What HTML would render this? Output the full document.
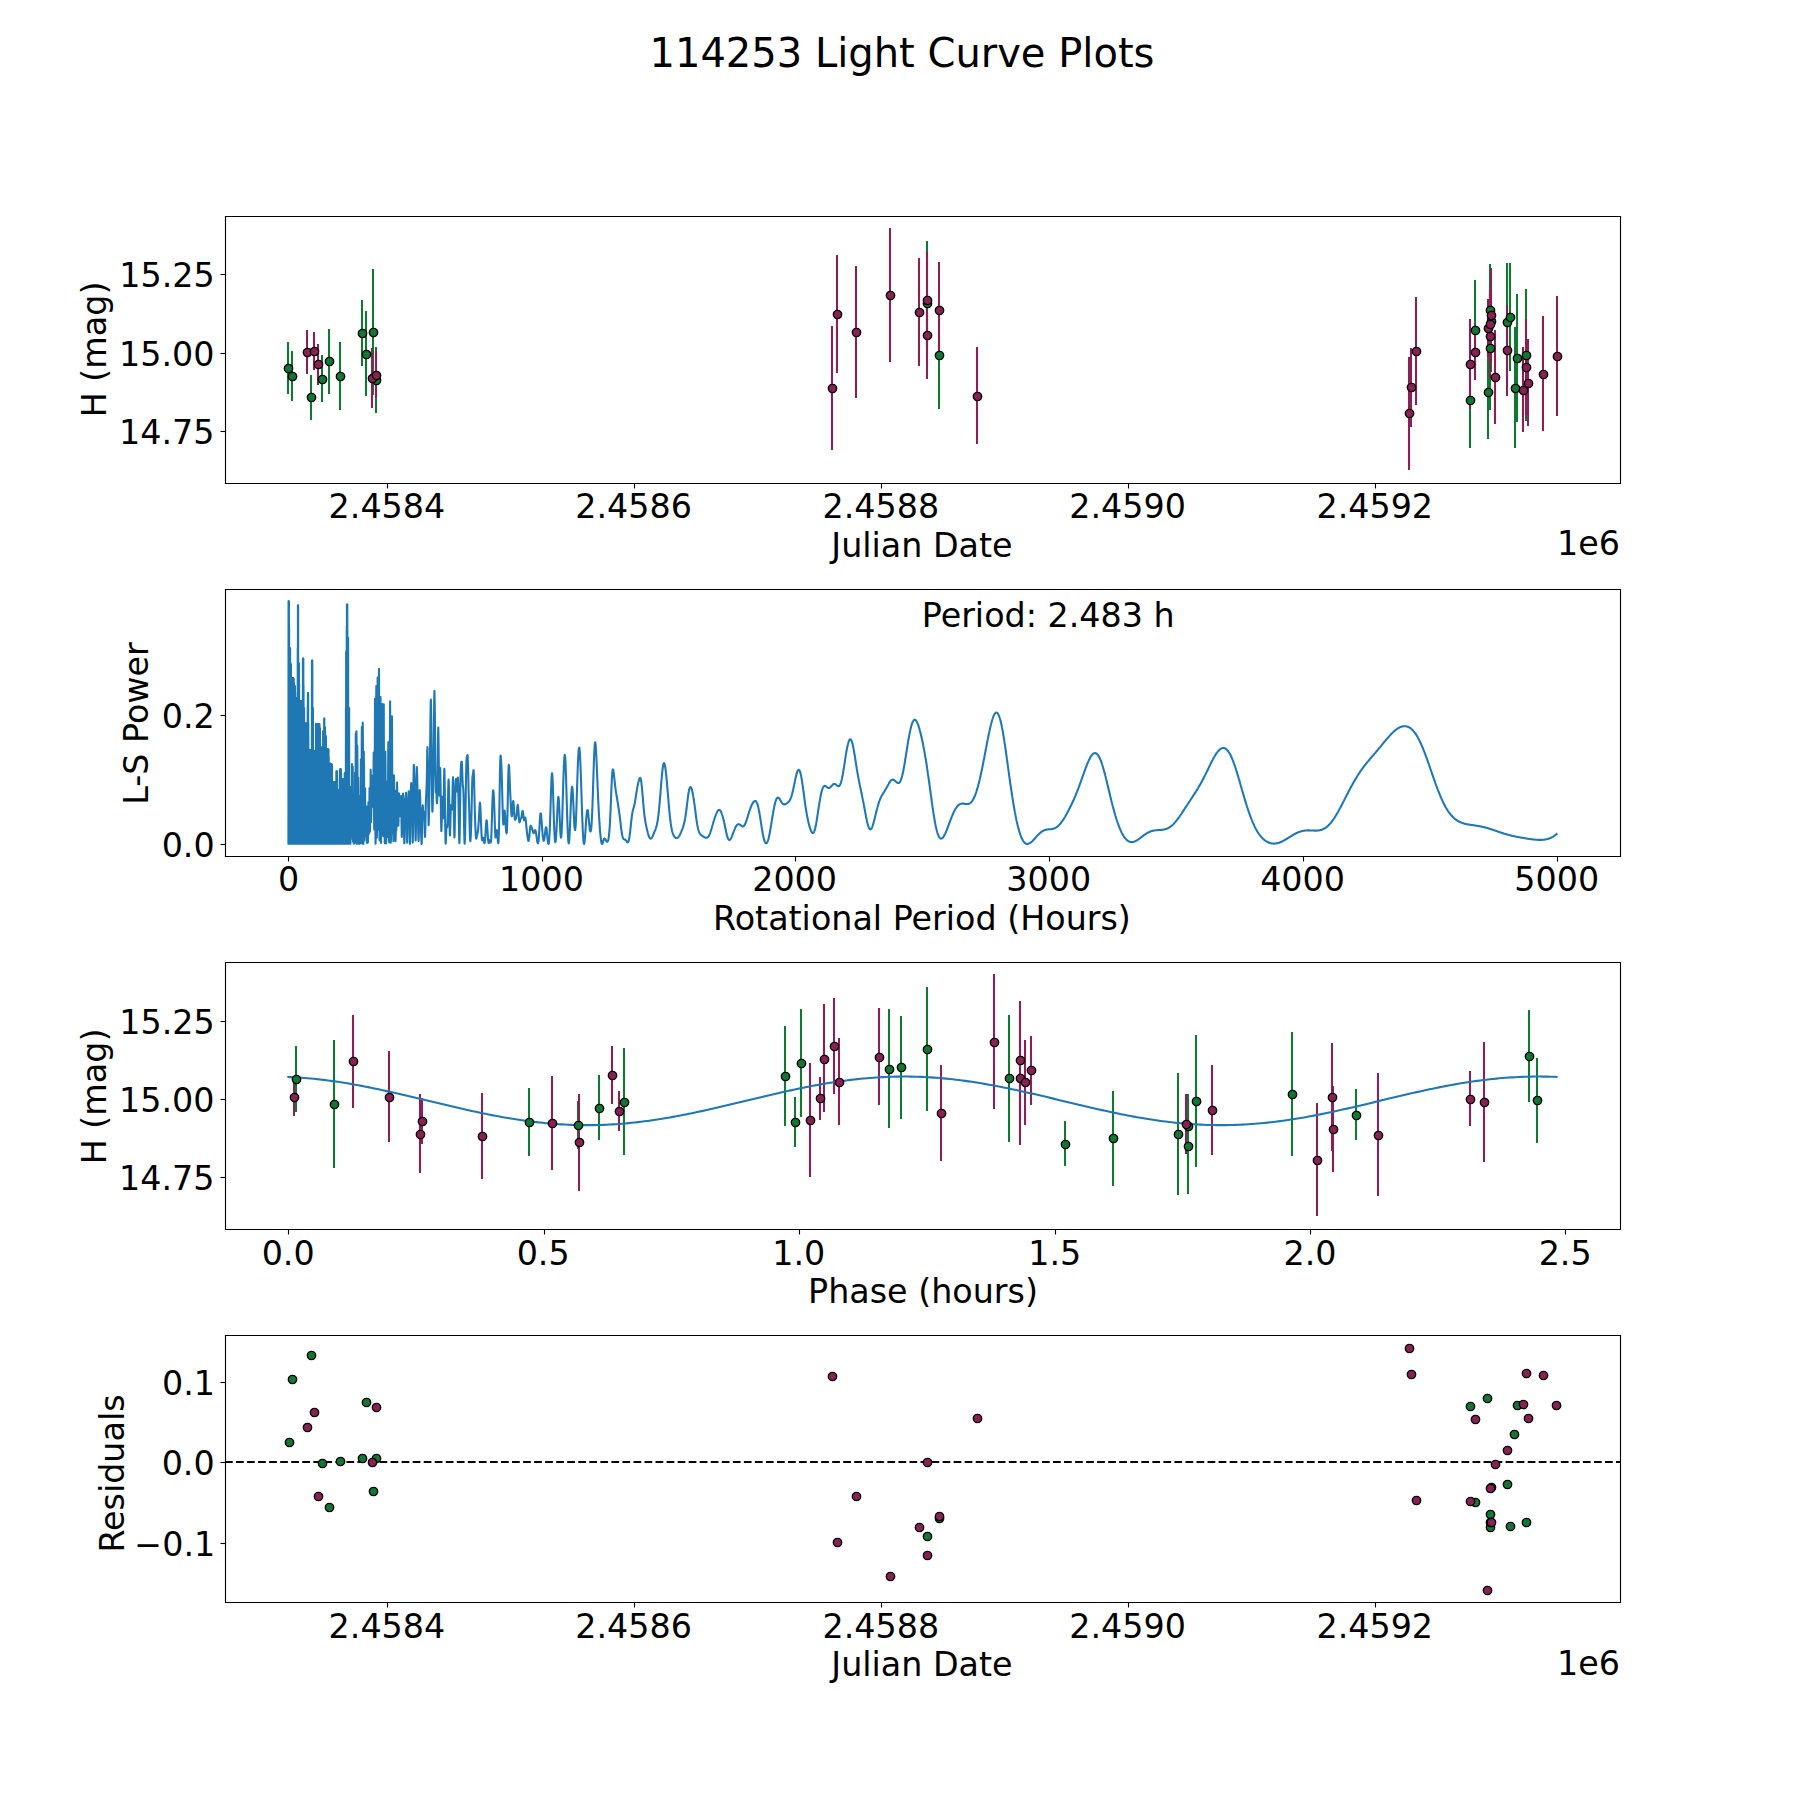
<!DOCTYPE html><html><head><meta charset="utf-8"><title>114253 Light Curve Plots</title><style>html,body{margin:0;padding:0;background:#fff}body{width:1800px;height:1800px;overflow:hidden}</style></head><body><svg width="1800" height="1800" viewBox="0 0 1800 1800" font-family="'DejaVu Sans', 'Liberation Sans', sans-serif" style="display:block"><rect width="100%" height="100%" fill="#fff"/><path d="M288 394L288 342" fill="none" stroke="#117733" stroke-width="2.08" stroke-linejoin="round"/>
<path d="M292 401L292 351" fill="none" stroke="#117733" stroke-width="2.08" stroke-linejoin="round"/>
<path d="M311 420L311 375" fill="none" stroke="#117733" stroke-width="2.08" stroke-linejoin="round"/>
<path d="M322 402L322 355" fill="none" stroke="#117733" stroke-width="2.08" stroke-linejoin="round"/>
<path d="M329 394L329 329" fill="none" stroke="#117733" stroke-width="2.08" stroke-linejoin="round"/>
<path d="M340 410L340 342" fill="none" stroke="#117733" stroke-width="2.08" stroke-linejoin="round"/>
<path d="M362 366L362 300" fill="none" stroke="#117733" stroke-width="2.08" stroke-linejoin="round"/>
<path d="M366 396L366 311" fill="none" stroke="#117733" stroke-width="2.08" stroke-linejoin="round"/>
<path d="M373 395L373 269" fill="none" stroke="#117733" stroke-width="2.08" stroke-linejoin="round"/>
<path d="M376 413L376 347" fill="none" stroke="#117733" stroke-width="2.08" stroke-linejoin="round"/>
<path d="M927 364L927 241" fill="none" stroke="#117733" stroke-width="2.08" stroke-linejoin="round"/>
<path d="M939 409L939 302" fill="none" stroke="#117733" stroke-width="2.08" stroke-linejoin="round"/>
<path d="M1470 448L1470 353" fill="none" stroke="#117733" stroke-width="2.08" stroke-linejoin="round"/>
<path d="M1475 380L1475 280" fill="none" stroke="#117733" stroke-width="2.08" stroke-linejoin="round"/>
<path d="M1488 439L1488 344" fill="none" stroke="#117733" stroke-width="2.08" stroke-linejoin="round"/>
<path d="M1490 356L1490 264" fill="none" stroke="#117733" stroke-width="2.08" stroke-linejoin="round"/>
<path d="M1490 410L1490 286" fill="none" stroke="#117733" stroke-width="2.08" stroke-linejoin="round"/>
<path d="M1491 372L1491 270" fill="none" stroke="#117733" stroke-width="2.08" stroke-linejoin="round"/>
<path d="M1507 382L1507 263" fill="none" stroke="#117733" stroke-width="2.08" stroke-linejoin="round"/>
<path d="M1510 371L1510 263" fill="none" stroke="#117733" stroke-width="2.08" stroke-linejoin="round"/>
<path d="M1515 448L1515 327" fill="none" stroke="#117733" stroke-width="2.08" stroke-linejoin="round"/>
<path d="M1517 422L1517 294" fill="none" stroke="#117733" stroke-width="2.08" stroke-linejoin="round"/>
<path d="M1526 421L1526 289" fill="none" stroke="#117733" stroke-width="2.08" stroke-linejoin="round"/>
<path d="M307 374L307 330" fill="none" stroke="#882255" stroke-width="2.08" stroke-linejoin="round"/>
<path d="M314 370L314 332" fill="none" stroke="#882255" stroke-width="2.08" stroke-linejoin="round"/>
<path d="M318 385L318 344" fill="none" stroke="#882255" stroke-width="2.08" stroke-linejoin="round"/>
<path d="M372 408L372 348" fill="none" stroke="#882255" stroke-width="2.08" stroke-linejoin="round"/>
<path d="M376 398L376 351" fill="none" stroke="#882255" stroke-width="2.08" stroke-linejoin="round"/>
<path d="M832 450L832 326" fill="none" stroke="#882255" stroke-width="2.08" stroke-linejoin="round"/>
<path d="M837 373L837 255" fill="none" stroke="#882255" stroke-width="2.08" stroke-linejoin="round"/>
<path d="M856 398L856 266" fill="none" stroke="#882255" stroke-width="2.08" stroke-linejoin="round"/>
<path d="M890 362L890 228" fill="none" stroke="#882255" stroke-width="2.08" stroke-linejoin="round"/>
<path d="M919 366L919 258" fill="none" stroke="#882255" stroke-width="2.08" stroke-linejoin="round"/>
<path d="M927 348L927 252" fill="none" stroke="#882255" stroke-width="2.08" stroke-linejoin="round"/>
<path d="M927 379L927 292" fill="none" stroke="#882255" stroke-width="2.08" stroke-linejoin="round"/>
<path d="M939 358L939 262" fill="none" stroke="#882255" stroke-width="2.08" stroke-linejoin="round"/>
<path d="M977 444L977 347" fill="none" stroke="#882255" stroke-width="2.08" stroke-linejoin="round"/>
<path d="M1409 470L1409 357" fill="none" stroke="#882255" stroke-width="2.08" stroke-linejoin="round"/>
<path d="M1411 427L1411 348" fill="none" stroke="#882255" stroke-width="2.08" stroke-linejoin="round"/>
<path d="M1416 405L1416 297" fill="none" stroke="#882255" stroke-width="2.08" stroke-linejoin="round"/>
<path d="M1470 409L1470 319" fill="none" stroke="#882255" stroke-width="2.08" stroke-linejoin="round"/>
<path d="M1475 380L1475 325" fill="none" stroke="#882255" stroke-width="2.08" stroke-linejoin="round"/>
<path d="M1488 357L1488 299" fill="none" stroke="#882255" stroke-width="2.08" stroke-linejoin="round"/>
<path d="M1490 358L1490 290" fill="none" stroke="#882255" stroke-width="2.08" stroke-linejoin="round"/>
<path d="M1490 378L1490 294" fill="none" stroke="#882255" stroke-width="2.08" stroke-linejoin="round"/>
<path d="M1491 362L1491 268" fill="none" stroke="#882255" stroke-width="2.08" stroke-linejoin="round"/>
<path d="M1495 424L1495 330" fill="none" stroke="#882255" stroke-width="2.08" stroke-linejoin="round"/>
<path d="M1507 396L1507 305" fill="none" stroke="#882255" stroke-width="2.08" stroke-linejoin="round"/>
<path d="M1523 432L1523 347" fill="none" stroke="#882255" stroke-width="2.08" stroke-linejoin="round"/>
<path d="M1526 415L1526 319" fill="none" stroke="#882255" stroke-width="2.08" stroke-linejoin="round"/>
<path d="M1528 426L1528 339" fill="none" stroke="#882255" stroke-width="2.08" stroke-linejoin="round"/>
<path d="M1543 431L1543 316" fill="none" stroke="#882255" stroke-width="2.08" stroke-linejoin="round"/>
<path d="M1557 416L1557 296" fill="none" stroke="#882255" stroke-width="2.08" stroke-linejoin="round"/>
<g fill="#000000" stroke="#000000" stroke-width="1.11" stroke-linejoin="round"><path transform="translate(387 483)" d="M0.5 0.5L0.5 5.5"/></g>
<text x="328.58" y="518.23" font-size="33.33">2.4584</text>
<g fill="#000000" stroke="#000000" stroke-width="1.11" stroke-linejoin="round"><path transform="translate(634 483)" d="M0.5 0.5L0.5 5.5"/></g>
<text x="575.3" y="518.25" font-size="33.33">2.4586</text>
<g fill="#000000" stroke="#000000" stroke-width="1.11" stroke-linejoin="round"><path transform="translate(881 483)" d="M0.5 0.5L0.5 5.5"/></g>
<text x="822.57" y="518.21" font-size="33.33">2.4588</text>
<g fill="#000000" stroke="#000000" stroke-width="1.11" stroke-linejoin="round"><path transform="translate(1128 483)" d="M0.5 0.5L0.5 5.5"/></g>
<text x="1069.22" y="518.24" font-size="33.33">2.4590</text>
<g fill="#000000" stroke="#000000" stroke-width="1.11" stroke-linejoin="round"><path transform="translate(1375 483)" d="M0.5 0.5L0.5 5.5"/></g>
<text x="1316.44" y="518.21" font-size="33.33">2.4592</text>
<text x="831.3" y="556.79" font-size="33.33">Julian Date</text>
<text x="1557" y="555.45" font-size="33.33">1e6</text>
<g fill="#000000" stroke="#000000" stroke-width="1.11" stroke-linejoin="round"><path transform="translate(225 431)" d="M0.5 0.5L-4.5 0.5"/></g>
<text x="119" y="444" font-size="33.33">14.75</text>
<g fill="#000000" stroke="#000000" stroke-width="1.11" stroke-linejoin="round"><path transform="translate(225 353)" d="M0.5 0.5L-4.5 0.5"/></g>
<text x="119.08" y="365.69" font-size="33.33">15.00</text>
<g fill="#000000" stroke="#000000" stroke-width="1.11" stroke-linejoin="round"><path transform="translate(225 274)" d="M0.5 0.5L-4.5 0.5"/></g>
<text x="119.28" y="287.35" font-size="33.33">15.25</text>
<text x="105.88" y="417.32" font-size="33.33" transform="rotate(-90 105.88 417.32)">H (mag)</text>
<path d="M225.5 483.5L225.5 216.5" fill="none" stroke="#000000" stroke-width="1.11" stroke-linecap="square"/>
<path d="M1620.5 483.5L1620.5 216.5" fill="none" stroke="#000000" stroke-width="1.11" stroke-linecap="square"/>
<path d="M225.5 483.5L1620.5 483.5" fill="none" stroke="#000000" stroke-width="1.11" stroke-linecap="square"/>
<path d="M225.5 216.5L1620.5 216.5" fill="none" stroke="#000000" stroke-width="1.11" stroke-linecap="square"/>
<g fill="#117733" stroke="#000000" stroke-width="1.39" stroke-linejoin="round"><circle cx="288.5" cy="368.5" r="4.17"/><circle cx="292.5" cy="376.5" r="4.17"/><circle cx="311.5" cy="397.5" r="4.17"/><circle cx="322.5" cy="379.5" r="4.17"/><circle cx="329.5" cy="361.5" r="4.17"/><circle cx="340.5" cy="376.5" r="4.17"/><circle cx="362.5" cy="333.5" r="4.17"/><circle cx="366.5" cy="354.5" r="4.17"/><circle cx="373.5" cy="332.5" r="4.17"/><circle cx="376.5" cy="380.5" r="4.17"/><circle cx="927.5" cy="303.5" r="4.17"/><circle cx="939.5" cy="355.5" r="4.17"/><circle cx="1470.5" cy="400.5" r="4.17"/><circle cx="1475.5" cy="330.5" r="4.17"/><circle cx="1488.5" cy="392.5" r="4.17"/><circle cx="1490.5" cy="310.5" r="4.17"/><circle cx="1490.5" cy="348.5" r="4.17"/><circle cx="1491.5" cy="321.5" r="4.17"/><circle cx="1507.5" cy="322.5" r="4.17"/><circle cx="1510.5" cy="317.5" r="4.17"/><circle cx="1515.5" cy="388.5" r="4.17"/><circle cx="1517.5" cy="358.5" r="4.17"/><circle cx="1526.5" cy="355.5" r="4.17"/></g>
<g fill="#882255" stroke="#000000" stroke-width="1.39" stroke-linejoin="round"><circle cx="307.5" cy="352.5" r="4.17"/><circle cx="314.5" cy="351.5" r="4.17"/><circle cx="318.5" cy="364.5" r="4.17"/><circle cx="372.5" cy="378.5" r="4.17"/><circle cx="376.5" cy="375.5" r="4.17"/><circle cx="832.5" cy="388.5" r="4.17"/><circle cx="837.5" cy="314.5" r="4.17"/><circle cx="856.5" cy="332.5" r="4.17"/><circle cx="890.5" cy="295.5" r="4.17"/><circle cx="919.5" cy="312.5" r="4.17"/><circle cx="927.5" cy="300.5" r="4.17"/><circle cx="927.5" cy="335.5" r="4.17"/><circle cx="939.5" cy="310.5" r="4.17"/><circle cx="977.5" cy="396.5" r="4.17"/><circle cx="1409.5" cy="413.5" r="4.17"/><circle cx="1411.5" cy="387.5" r="4.17"/><circle cx="1416.5" cy="351.5" r="4.17"/><circle cx="1470.5" cy="364.5" r="4.17"/><circle cx="1475.5" cy="352.5" r="4.17"/><circle cx="1488.5" cy="328.5" r="4.17"/><circle cx="1490.5" cy="324.5" r="4.17"/><circle cx="1490.5" cy="336.5" r="4.17"/><circle cx="1491.5" cy="315.5" r="4.17"/><circle cx="1495.5" cy="377.5" r="4.17"/><circle cx="1507.5" cy="350.5" r="4.17"/><circle cx="1523.5" cy="390.5" r="4.17"/><circle cx="1526.5" cy="367.5" r="4.17"/><circle cx="1528.5" cy="383.5" r="4.17"/><circle cx="1543.5" cy="374.5" r="4.17"/><circle cx="1557.5" cy="356.5" r="4.17"/></g>
<g fill="#000000" stroke="#000000" stroke-width="1.11" stroke-linejoin="round"><path transform="translate(288 856)" d="M0.5 0.5L0.5 5.5"/></g>
<text x="278.03" y="891.44" font-size="33.33">0</text>
<g fill="#000000" stroke="#000000" stroke-width="1.11" stroke-linejoin="round"><path transform="translate(542 856)" d="M0.5 0.5L0.5 5.5"/></g>
<text x="499.05" y="891.45" font-size="33.33">1000</text>
<g fill="#000000" stroke="#000000" stroke-width="1.11" stroke-linejoin="round"><path transform="translate(795 856)" d="M0.5 0.5L0.5 5.5"/></g>
<text x="752.21" y="891.42" font-size="33.33">2000</text>
<g fill="#000000" stroke="#000000" stroke-width="1.11" stroke-linejoin="round"><path transform="translate(1049 856)" d="M0.5 0.5L0.5 5.5"/></g>
<text x="1006.33" y="891.44" font-size="33.33">3000</text>
<g fill="#000000" stroke="#000000" stroke-width="1.11" stroke-linejoin="round"><path transform="translate(1303 856)" d="M0.5 0.5L0.5 5.5"/></g>
<text x="1260.14" y="891.44" font-size="33.33">4000</text>
<g fill="#000000" stroke="#000000" stroke-width="1.11" stroke-linejoin="round"><path transform="translate(1557 856)" d="M0.5 0.5L0.5 5.5"/></g>
<text x="1514.37" y="891.44" font-size="33.33">5000</text>
<text x="713.02" y="929.95" font-size="33.33">Rotational Period (Hours)</text>
<g fill="#000000" stroke="#000000" stroke-width="1.11" stroke-linejoin="round"><path transform="translate(225 844)" d="M0.5 0.5L-4.5 0.5"/></g>
<text x="161.67" y="857.04" font-size="33.33">0.0</text>
<g fill="#000000" stroke="#000000" stroke-width="1.11" stroke-linejoin="round"><path transform="translate(225 715)" d="M0.5 0.5L-4.5 0.5"/></g>
<text x="161.8" y="727.98" font-size="33.33">0.2</text>
<text x="148.37" y="804.78" font-size="33.33" transform="rotate(-90 148.37 804.78)">L-S Power</text>
<path d="M288.43 843.7L288.53 601.24L288.63 843.7L288.73 601.24L288.83 843.7L288.93 601.24L289.03 843.7L289.13 626.52L289.23 843.7L289.33 648.04L289.43 843.7L289.53 648.04L289.63 843.7L289.73 648.04L289.83 843.7L289.93 648.04L290.03 843.7L290.13 648.04L290.23 843.7L290.33 664.04L290.43 843.7L290.53 664.04L290.63 843.7L290.73 664.04L290.83 843.7L290.93 664.04L291.03 843.7L291.13 678.54L291.23 843.7L291.33 678.54L291.43 843.7L291.53 678.54L291.63 843.7L291.73 678.54L291.83 843.7L291.93 678.54L292.03 843.7L292.13 678.54L292.23 843.7L292.33 678.54L292.43 843.7L292.53 678.54L292.63 843.7L292.73 678.54L292.83 843.7L292.93 678.54L293.03 843.7L293.13 678.54L293.23 843.7L293.33 678.54L293.43 843.7L293.53 678.54L293.63 843.7L293.73 678.54L293.83 843.7L293.93 682.59L294.03 843.7L294.13 686.04L294.23 843.7L294.33 686.04L294.43 843.7L294.53 686.04L294.63 843.7L294.73 686.04L294.83 843.7L294.93 686.04L295.03 843.7L295.13 692.63L295.23 843.7L295.33 698.24L295.43 843.7L295.53 698.24L295.63 843.7L295.73 698.24L295.83 843.7L295.93 698.24L296.03 843.7L296.13 698.24L296.23 843.7L296.33 698.24L296.43 843.7L296.53 698.24L296.63 843.7L296.73 698.24L296.83 843.7L296.93 698.24L297.03 843.7L297.13 698.24L297.23 843.7L297.33 698.24L297.43 843.7L297.53 698.24L297.63 843.7L297.73 648.08L297.83 843.7L297.93 605.34L298.03 843.7L298.13 605.34L298.23 843.7L298.33 663.34L298.43 843.7L298.53 663.34L298.63 843.7L298.73 663.34L298.83 843.7L298.93 663.34L299.03 843.7L299.13 683.97L299.23 843.7L299.33 701.54L299.43 843.7L299.53 701.54L299.63 843.7L299.73 701.54L299.83 843.7L299.93 701.54L300.03 843.7L300.13 701.54L300.23 843.7L300.33 701.54L300.43 843.7L300.53 701.54L300.63 843.7L300.73 701.54L300.83 843.7L300.93 701.54L301.03 843.7L301.13 701.54L301.23 843.7L301.33 701.54L301.43 843.7L301.53 701.54L301.63 843.7L301.73 701.54L301.83 843.7L301.93 701.54L302.03 843.7L302.13 701.54L302.23 843.7L302.33 701.54L302.43 843.7L302.53 701.54L302.63 843.7L302.73 701.54L302.83 843.7L302.93 658.44L303.03 843.7L303.13 658.44L303.23 843.7L303.33 658.44L303.43 843.7L303.53 685.23L303.63 843.7L303.73 708.04L303.83 843.7L303.93 708.04L304.03 843.7L304.13 708.04L304.23 843.7L304.33 723.74L304.43 843.7L304.53 723.74L304.63 843.7L304.73 723.74L304.83 843.7L304.93 723.74L305.03 843.7L305.13 723.74L305.23 843.7L305.33 723.74L305.43 843.7L305.53 723.74L305.63 843.7L305.73 723.74L305.83 843.7L305.93 723.74L306.03 843.7L306.13 723.74L306.23 843.7L306.33 723.74L306.43 843.7L306.53 723.74L306.63 843.7L306.73 723.74L306.83 843.7L306.93 723.74L307.03 843.7L307.13 723.74L307.23 843.7L307.33 723.74L307.43 843.7L307.53 723.74L307.63 843.7L307.73 707.11L307.83 843.7L307.93 692.94L308.03 843.7L308.13 692.94L308.23 843.7L308.33 724.1L308.43 843.7L308.53 750.64L308.63 843.7L308.73 750.64L308.83 843.7L308.93 750.64L309.03 843.7L309.13 750.64L309.23 843.7L309.33 750.64L309.43 843.7L309.53 750.64L309.63 843.7L309.73 750.64L309.83 843.7L309.93 750.64L310.03 843.7L310.13 750.64L310.23 843.7L310.33 750.64L310.43 843.7L310.53 750.64L310.63 843.7L310.73 750.64L310.83 843.7L310.93 750.64L311.03 843.7L311.13 750.64L311.23 843.7L311.33 750.64L311.43 843.7L311.53 750.64L311.63 843.7L311.73 750.64L311.83 843.7L311.93 660.44L312.03 843.7L312.13 660.44L312.23 843.7L312.33 660.44L312.43 843.7L312.53 708.04L312.63 843.7L312.73 708.04L312.83 843.7L312.93 708.04L313.03 843.7L313.13 751.04L313.23 843.7L313.33 751.04L313.43 843.7L313.53 751.04L313.63 843.7L313.73 751.04L313.83 843.7L313.93 751.04L314.03 843.7L314.13 751.04L314.23 843.7L314.33 751.04L314.43 843.7L314.53 751.04L314.63 843.7L314.73 751.04L314.83 843.7L314.93 751.04L315.03 843.7L315.13 751.04L315.23 843.7L315.33 751.04L315.43 843.7L315.53 751.04L315.63 843.7L315.73 751.04L315.83 843.7L315.93 724.14L316.03 843.7L316.13 724.14L316.23 843.7L316.33 724.14L316.43 843.7L316.53 724.14L316.63 843.7L316.73 724.14L316.83 843.7L316.93 724.14L317.03 843.7L317.13 724.14L317.23 843.7L317.33 724.14L317.43 843.7L317.53 724.14L317.63 843.7L317.73 724.14L317.83 843.7L317.93 724.14L318.03 843.7L318.13 724.14L318.23 843.7L318.33 724.14L318.43 843.7L318.53 724.14L318.63 843.7L318.73 724.14L318.83 843.7L318.93 724.14L319.03 843.7L319.13 724.14L319.23 843.7L319.33 724.14L319.43 843.7L319.53 724.14L319.63 843.7L319.73 728.04L319.83 843.7L319.93 728.04L320.03 843.7L320.13 738.73L320.23 843.7L320.33 747.84L320.43 843.7L320.53 747.84L320.63 843.7L320.73 747.84L320.83 843.7L320.93 747.84L321.03 843.7L321.13 747.84L321.23 843.7L321.33 747.84L321.43 843.7L321.53 747.84L321.63 843.7L321.73 747.84L321.83 843.7L321.93 747.84L322.03 843.7L322.13 747.84L322.23 843.7L322.33 747.84L322.43 843.7L322.53 747.84L322.63 843.7L322.73 747.84L322.83 843.7L322.93 747.84L323.03 843.7L323.13 731.04L323.23 843.7L323.33 731.04L323.43 843.7L323.53 731.04L323.63 843.7L323.73 731.04L323.83 843.7L323.93 731.04L324.03 843.7L324.13 718.44L324.23 843.7L324.33 718.44L324.43 843.7L324.53 727.04L324.63 843.7L324.73 727.04L324.83 843.7L324.93 727.04L325.03 843.7L325.13 731.9L325.23 843.7L325.33 736.04L325.43 843.7L325.53 736.04L325.63 843.7L325.73 736.04L325.83 843.7L325.93 736.04L326.03 843.7L326.13 749.44L326.23 843.7L326.33 749.44L326.43 843.7L326.53 749.44L326.63 843.7L326.73 749.44L326.83 843.7L326.93 749.44L327.03 843.7L327.13 749.44L327.23 843.7L327.33 749.44L327.43 843.7L327.53 749.44L327.63 843.7L327.73 749.44L327.83 843.7L327.93 749.44L328.03 843.7L328.13 749.44L328.23 843.7L328.33 749.44L328.43 843.7L328.53 749.44L328.63 843.7L328.73 756.79L328.83 843.7L328.93 763.04L329.03 843.7L329.13 763.04L329.23 843.7L329.33 763.04L329.43 843.7L329.53 763.04L329.63 843.7L329.73 763.04L329.83 843.7L329.93 763.91L330.03 843.7L330.13 764.64L330.23 843.7L330.33 764.64L330.43 843.7L330.53 764.64L330.63 843.7L330.73 764.64L330.83 843.7L330.93 764.64L331.03 843.7L331.13 764.64L331.23 843.7L331.33 764.64L331.43 843.7L331.53 764.64L331.63 843.7L331.73 764.64L331.83 843.7L331.93 764.64L332.03 843.7L332.13 782.44L332.23 843.7L332.33 782.44L332.43 843.7L332.53 782.44L332.63 843.7L332.73 782.44L332.83 843.7L332.93 782.44L333.03 843.7L333.13 782.44L333.23 843.7L333.33 782.44L333.43 843.7L333.53 782.44L333.63 843.7L333.73 782.44L333.83 843.7L333.93 782.44L334.03 843.7L334.13 782.44L334.23 843.7L334.33 782.44L334.43 843.7L334.53 782.44L334.63 843.7L334.73 782.44L334.83 843.7L334.93 782.44L335.03 843.7L335.13 782.44L335.23 843.7L335.33 782.44L335.43 843.7L335.53 782.44L335.63 843.7L335.73 782.44L335.83 843.7L335.93 782.44L336.03 843.7L336.13 782.44L336.23 843.7L336.33 771.24L336.43 843.7L336.53 771.24L336.63 843.7L336.73 771.24L336.83 843.7L336.93 771.24L337.03 843.7L337.13 790.64L337.23 843.7L337.33 790.64L337.43 843.7L337.53 790.64L337.63 843.7L337.73 790.64L337.83 843.7L337.93 790.64L338.03 843.7L338.13 790.64L338.23 843.7L338.33 790.64L338.43 843.7L338.53 790.64L338.63 843.7L338.73 790.64L338.83 843.7L338.93 790.64L339.03 843.7L339.13 790.64L339.23 843.7L339.33 790.64L339.43 843.7L339.53 790.64L339.63 843.7L339.73 779.09L339.83 843.7L339.93 769.24L340.03 843.7L340.13 769.24L340.23 843.7L340.33 769.24L340.43 843.7L340.53 769.24L340.63 843.7L340.73 769.24L340.83 843.7L340.93 769.24L341.03 843.7L341.13 774.53L341.23 843.7L341.33 779.04L341.43 843.7L341.53 779.04L341.63 843.7L341.73 779.04L341.83 843.7L341.93 779.04L342.03 843.7L342.13 779.04L342.23 843.7L342.33 779.04L342.43 843.7L342.53 779.04L342.63 843.7L342.73 779.04L342.83 843.7L342.93 779.04L343.03 843.7L343.13 779.04L343.23 843.7L343.33 779.04L343.43 843.7L343.53 779.04L343.63 843.7L343.73 779.04L343.83 843.7L343.93 779.04L344.03 843.7L344.13 779.04L344.23 843.7L344.33 779.04L344.43 843.7L344.53 779.04L344.63 843.7L344.73 773.04L344.83 843.7L344.93 773.04L345.03 843.7L345.13 773.04L345.23 843.7L345.33 773.04L345.43 843.7L345.53 773.04L345.63 843.7L345.73 773.04L345.83 843.7L345.93 707.38L346.03 843.7L346.13 651.44L346.23 843.7L346.33 651.44L346.43 843.7L346.53 651.44L346.63 843.7L346.73 626.12L346.83 843.7L346.93 604.54L347.03 843.7L347.13 604.54L347.23 843.7L347.33 604.54L347.43 843.7L347.53 637.44L347.63 843.7L347.73 637.44L347.83 843.7L347.93 637.44L348.03 843.7L348.13 637.44L348.23 843.7L348.33 708.04L348.43 843.7L348.53 708.04L348.63 843.7L348.73 708.04L348.83 843.7L348.93 708.04L349.03 843.7L349.13 708.04L349.23 843.7L349.33 787.04L349.43 843.7L349.53 787.04L349.63 843.7L349.73 787.04L349.83 843.7L349.93 787.04L350.03 843.7L350.13 787.04L350.23 843.7L350.33 787.04L350.43 843.7L350.53 787.04L350.6 827.88L350.72 839.58L350.75 838.31L350.75 838.29L350.97 807.09L351 807.88L351 807.9L351.08 813.09L351.24 795.58L351.25 795.99L351.25 796.01L351.43 835.92L351.5 826.01L351.5 825.94L351.7 795.2L351.75 797.77L351.75 797.8L351.82 803.64L351.97 763.94L352 769.25L352 769.36L352.17 836.5L352.25 824.38L352.25 824.32L352.47 796.67L352.5 797.56L352.5 797.58L352.56 801.56L352.71 766.55L352.75 772.7L352.75 772.81L352.94 841.46L353 836.53L353 836.48L353.16 814.86L353.25 820.23L353.25 820.25L353.3 821.8L353.49 794.54L353.5 794.72L353.5 794.73L353.74 843.74L353.75 843.56L353.75 843.55L353.88 836.2L354 842.83L354 842.84L354.01 842.88L354.25 800.12L354.25 800.09L354.26 799.61L354.5 837.61L354.5 837.64L354.64 843.35L354.75 835.8L354.75 835.75L355 772.74L355 772.74L355 772.74L355.25 827.14L355.25 827.2L355.37 840.71L355.5 816.1L355.5 815.96L355.75 735.02L355.75 734.96L355.78 733.08L356 808.05L356 808.15L356.16 842.56L356.25 826.43L356.25 826.29L356.47 731.39L356.5 732.28L356.5 732.3L356.75 772.6L356.75 772.75L356.99 844L357 843.8L357 843.78L357.25 751.32L357.25 751.24L357.3 745.64L357.5 774.63L357.5 774.69L357.75 827.14L357.75 827.24L357.85 843.39L358 804.63L358 804.5L358.17 777.68L358.25 787.06L358.25 787.16L358.38 814.88L358.5 808.75L358.5 808.79L358.73 843.81L358.75 843.29L358.75 843.27L359 804.41L359 804.39L359.07 801.09L359.23 830.49L359.25 829.52L359.25 829.49L359.36 814.06L359.5 835.62L359.5 835.67L359.6 843.74L359.75 820.52L359.75 820.45L359.96 795.88L360 800.1L360 800.18L360.12 827.99L360.25 815.97L360.25 815.99L360.47 843.32L360.5 842.39L360.5 842.36L360.75 787.13L360.75 787.03L360.87 759.32L361 800.72L361 800.85L361.25 825.62L361.25 825.7L361.4 843.22L361.5 827.43L361.5 827.3L361.75 737.71L361.75 737.57L361.81 727.15L362 774.03L362 774.07L362.25 828.98L362.25 829.06L362.38 843.37L362.5 823.43L362.5 823.3L362.75 724.35L362.75 724.28L362.77 722.45L363 750.79L363 750.84L363.25 824.89L363.25 824.98L363.4 843.99L363.5 833.3L363.5 833.22L363.75 754.21L363.75 754.13L363.79 751.43L363.93 762.71L364 761.98L364 761.99L364.25 816.74L364.25 816.83L364.47 840.43L364.5 839.59L364.5 839.57L364.75 811.33L364.75 811.25L365 792.07L365 792.04L365.09 788.33L365.25 808.23L365.25 808.31L365.5 828.62L365.5 828.64L365.75 834.83L365.75 834.85L365.81 836.24L366 824.63L366 824.58L366.22 806.21L366.25 806.6L366.25 806.61L366.5 823.42L366.5 823.43L366.75 828.11L366.75 828.14L366.95 842.89L367 841.34L367 841.31L367.25 810.02L367.25 809.99L367.32 807.26L367.5 820.51L367.5 820.56L367.69 830.22L367.75 830.2L367.75 830.2L368 842.05L368 842.06L368.03 842.44L368.25 815.2L368.25 815.13L368.41 802.35L368.5 806.85L368.5 806.9L368.75 833.27L368.75 833.29L368.79 834L368.93 832.24L369 832.7L369 832.7L369.02 832.79L369.25 823.77L369.25 823.71L369.5 788.5L369.5 788.48L369.52 788.21L369.75 812.06L369.75 812.13L369.93 831.78L370 828.71L370 828.67L370.25 809.47L370.25 809.41L370.5 792.38L370.5 792.31L370.68 769.78L370.75 774.75L370.75 774.81L371 811.26L371 811.35L371.11 821.98L371.25 811.92L371.25 811.87L371.5 790.41L371.5 790.38L371.75 780.72L371.75 780.68L371.86 775.75L372 779.89L372 779.9L372.25 798.05L372.25 798.08L372.31 799.76L372.42 797.6L372.5 799.45L372.5 799.47L372.58 801.5L372.71 798.83L372.75 799.34L372.75 799.35L372.88 804.08L373 800.35L373 800.34L373.02 800.06L373.18 807.01L373.25 802.13L373.25 802.05L373.5 774.95L373.5 774.89L373.69 752.65L373.75 758.52L373.75 758.62L374 813.05L374 813.1L374.22 829L374.25 828.75L374.25 828.74L374.44 829.76L374.5 825.6L374.5 825.52L374.75 761L374.75 760.87L375 699.46L375 699.42L375.02 698.8L375.25 788.92L375.25 789.18L375.5 842.7L375.5 842.73L375.55 843.61L375.75 835.35L375.75 835.31L376 770.53L376 770.31L376.25 693.93L376.25 693.81L376.33 686.12L376.5 729.74L376.5 730.01L376.75 828L376.75 828.11L376.86 837.69L377 830L377 829.95L377.25 803.04L377.25 802.89L377.5 698.16L377.5 697.95L377.62 677.66L377.75 695.31L377.75 695.47L378 794.16L378 794.4L378.18 829.82L378.25 826.29L378.25 826.23L378.5 799.37L378.5 799.36L378.61 801.94L378.75 774.81L378.75 774.53L379 668.89L379 668.87L379.01 668.72L379.25 729.14L379.25 729.41L379.5 835.45L379.5 835.57L379.55 840.35L379.75 809.31L379.75 809.18L379.93 786.64L380 790.37L380 790.43L380.14 805.64L380.25 785.52L380.25 785.28L380.5 698.46L380.5 698.4L380.53 697.02L380.75 742.03L380.75 742.28L381 841L381 841.08L381.03 842.89L381.25 801.72L381.25 801.58L381.41 782.86L381.5 789.65L381.5 789.74L381.71 821.39L381.75 818.97L381.75 818.88L382 734.74L382 734.5L382.15 703.99L382.25 717.74L382.25 717.92L382.5 814.9L382.5 815.1L382.62 834.14L382.75 819.06L382.75 818.93L382.94 789.86L383 793.23L383 793.32L383.25 835.85L383.25 835.87L383.27 836.24L383.5 783.05L383.5 782.76L383.75 704.18L383.75 704.18L383.75 704.18L384 781.71L384 781.96L384.25 834.71L384.25 834.75L384.31 836.66L384.5 829.07L384.5 829.05L384.53 828.77L384.75 842.74L384.75 842.76L384.78 843.27L385 818.92L385 818.77L385.25 762.2L385.25 762.08L385.37 751.82L385.5 767.71L385.5 767.88L385.75 825.03L385.75 825.14L386 842.92L386 842.94L386.07 843.46L386.25 840.33L386.25 840.29L386.5 813.4L386.5 813.3L386.75 784.39L386.75 784.34L386.83 781.43L387 790.91L387 790.98L387.25 815.64L387.25 815.72L387.5 836.04L387.5 836.06L387.56 836.93L387.75 830.41L387.75 830.35L388 799.11L388 798.97L388.25 748.5L388.25 748.4L388.34 742.15L388.5 757.41L388.5 757.55L388.75 807.49L388.75 807.63L389 837.8L389 837.85L389.14 842.52L389.25 840.16L389.25 840.12L389.5 821.61L389.5 821.51L389.75 778L389.75 777.85L390 718.58L390 718.38L390.12 701.32L390.25 724.57L390.25 724.81L390.5 803.39L390.5 803.58L390.75 839.8L390.75 839.85L390.84 842.65L391 835.92L391 835.87L391.14 830.41L391.25 831.57L391.25 831.58L391.27 831.64L391.5 808.89L391.5 808.73L391.75 759.98L391.75 759.81L391.99 716.37L392 716.42L392 716.44L392.25 779.16L392.25 779.42L392.5 830.93L392.5 830.99L392.58 833.58L392.75 827.68L392.75 827.62L392.99 812.1L393 812.11L393 812.12L393.25 833.45L393.25 833.53L393.39 841.22L393.5 835.22L393.5 835.13L393.75 800.17L393.75 800.03L393.97 775.2L394 775.79L394 775.82L394.25 814.21L394.25 814.36L394.42 829.56L394.5 825.85L394.5 825.78L394.75 800.67L394.75 800.6L394.96 790.55L395 790.95L395 790.97L395.25 813.1L395.25 813.21L395.5 838.86L395.5 838.9L395.59 841.17L395.75 834.31L395.75 834.25L396 818.2L396 818.18L396.03 817.83L396.25 827.15L396.25 827.2L396.36 830.46L396.5 823.67L396.5 823.59L396.75 794.89L396.75 794.81L397 782.54L397 782.54L397.02 782.5L397.25 792.06L397.25 792.13L397.5 813.77L397.5 813.84L397.75 823.15L397.75 823.15L397.75 823.15L398 820.81L398 820.8L398.01 820.8L398.25 824.69L398.25 824.71L398.35 825.83L398.5 821.82L398.5 821.78L398.75 803.72L398.75 803.66L399 793.5L399 793.5L399.03 793.4L399.25 799.19L399.25 799.23L399.5 812.07L399.5 812.11L399.69 816.16L399.75 815.77L399.75 815.75L400 809.45L400 809.42L400.18 806.92L400.25 807.27L400.25 807.27L400.45 809.13L400.5 808.93L400.5 808.92L400.75 801.99L400.75 801.96L401 796.1L401 796.09L401.02 796.07L401.25 802.01L401.25 802.06L401.5 821.57L401.5 821.66L401.75 836.22L401.75 836.24L401.82 836.9L402 832.48L402 832.44L402.25 818.93L402.25 818.87L402.5 808.34L402.5 808.31L402.75 801.11L402.75 801.08L403 793.82L403 793.81L403.06 793.47L403.25 795.77L403.25 795.78L403.5 798.55L403.5 798.57L403.75 812.17L403.75 812.26L404 832.45L404 832.51L404.25 842.23L404.25 842.25L404.35 843.33L404.5 840.93L404.5 840.9L404.75 829.11L404.75 829.06L405 817.14L405 817.09L405.25 803.33L405.25 803.28L405.46 798.59L405.5 798.73L405.5 798.73L405.63 799.38L405.75 798L405.75 797.97L406 792.71L406 792.71L406 792.71L406.25 801.12L406.25 801.18L406.5 812.79L406.5 812.83L406.75 824.11L406.75 824.18L407 838.94L407 838.99L407.16 842.65L407.25 841.79L407.25 841.77L407.5 831.33L407.5 831.26L407.75 813.45L407.75 813.38L408 802.86L408 802.84L408.25 799.24L408.25 799.22L408.5 793.3L408.5 793.28L408.68 791.27L408.75 791.6L408.75 791.61L409 795.09L409 795.1L409.25 799.31L409.25 799.35L409.5 814.6L409.5 814.7L409.75 837.14L409.75 837.22L409.94 844L410 843.46L410 843.43L410.25 829.65L410.25 829.56L410.5 808.61L410.5 808.54L410.75 793.1L410.75 793.05L411 785.64L411 785.62L411.25 783.05L411.25 783.05L411.28 783.02L411.5 784.79L411.5 784.81L411.75 788.47L411.75 788.49L412 794.66L412 794.71L412.25 811.11L412.25 811.22L412.5 833.09L412.5 833.17L412.74 842.59L412.75 842.58L412.75 842.58L413 832.51L413 832.42L413.25 808.27L413.25 808.14L413.5 781.14L413.5 781.03L413.75 765.78L413.75 765.76L413.83 764.83L414 767.45L414 767.49L414.25 775.18L414.25 775.22L414.5 783.01L414.5 783.05L414.75 792.62L414.75 792.68L415 806.44L415 806.52L415.25 824.71L415.25 824.8L415.5 838.51L415.5 838.55L415.63 840.48L415.75 838.71L415.75 838.68L416 825.36L416 825.27L416.25 802.03L416.25 801.9L416.5 777.73L416.5 777.63L416.75 767.11L416.75 767.1L416.78 767.03L417 770.58L417 770.61L417.25 777.64L417.25 777.68L417.5 789.43L417.5 789.5L417.75 804.05L417.75 804.13L418 818.75L418 818.82L418.25 833.23L418.25 833.29L418.5 840.73L418.5 840.73L418.55 840.98L418.75 838.13L418.75 838.09L419 827.71L419 827.64L419.25 812.06L419.25 811.97L419.5 796.21L419.5 796.15L419.75 790.01L419.75 790.01L419.75 790.01L420 793.29L420 793.32L420.25 801L420.25 801.05L420.5 813.07L420.5 813.13L420.75 823.13L420.75 823.17L421 830.02L421 830.06L421.25 837.72L421.25 837.77L421.5 843.44L421.5 843.45L421.6 844L421.75 842.56L421.75 842.53L422 833.96L422 833.9L422.25 820.5L422.25 820.43L422.5 809.07L422.5 809.03L422.73 805.41L422.75 805.42L422.75 805.42L423 808.19L423 808.21L423.25 813.26L423.25 813.29L423.5 818.2L423.5 818.22L423.6 818.85L423.75 817.54L423.75 817.52L424 812.83L424 812.81L424.1 812.15L424.25 813.9L424.25 813.93L424.5 822.44L424.5 822.5L424.75 831.84L424.75 831.88L425 836.87L425 836.88L425.03 836.95L425.25 832.59L425.25 832.54L425.5 819.02L425.5 818.93L425.75 805.65L425.75 805.59L426 798.42L426 798.39L426.25 793.75L426.25 793.72L426.5 788.88L426.5 788.86L426.75 781.7L426.75 781.64L427 767.2L427 767.1L427.25 751.14L427.25 751.07L427.42 747.08L427.5 748.08L427.5 748.12L427.75 761.38L427.75 761.49L428 782.78L428 782.91L428.25 805.46L428.25 805.59L428.5 822.09L428.5 822.15L428.65 825.26L428.75 824.14L428.75 824.1L429 813.55L429 813.47L429.25 799.21L429.25 799.12L429.5 784.43L429.5 784.34L429.75 769.25L429.75 769.16L430 754.05L430 753.95L430.25 736.12L430.25 736L430.5 715.26L430.5 715.14L430.75 701.05L430.75 701.01L430.85 699.55L431 702.34L431 702.4L431.25 718.03L431.25 718.16L431.5 742.24L431.5 742.41L431.75 771.08L431.75 771.27L432 797.1L432 797.23L432.25 810.3L432.25 810.33L432.38 811.72L432.5 810.88L432.5 810.86L432.75 805.23L432.75 805.18L433 794.9L433 794.82L433.25 780.71L433.25 780.61L433.5 764.59L433.5 764.48L433.75 744.36L433.75 744.21L434 718.47L434 718.3L434.25 696.6L434.25 696.5L434.43 690.91L434.5 691.66L434.5 691.68L434.75 705.55L434.75 705.68L435 728.31L435 728.47L435.25 752.44L435.25 752.6L435.5 775.72L435.5 775.86L435.75 790.44L435.75 790.49L435.9 792.63L436 792.04L436 792.02L436.23 789.99L436.25 790.01L436.25 790.01L436.5 794.21L436.5 794.26L436.75 801.28L436.75 801.3L436.94 803.31L437 803.14L437 803.13L437.25 798.53L437.25 798.48L437.5 786.08L437.5 785.96L437.75 763.36L437.75 763.18L438 738.21L438 738.07L438.24 727.52L438.25 727.52L438.25 727.53L438.5 738.34L438.5 738.47L438.75 760.04L438.75 760.19L439 778.83L439 778.94L439.25 791.49L439.25 791.55L439.46 795.64L439.5 795.51L439.5 795.5L439.75 787.51L439.75 787.42L440 773.59L440 773.51L440.21 768.1L440.25 768.39L440.25 768.41L440.5 779.95L440.5 780.08L440.75 800.69L440.75 800.84L441 819.14L441 819.24L441.25 829.58L441.25 829.62L441.38 831.14L441.5 829.95L441.5 829.91L441.75 819.93L441.75 819.83L442 805.51L442 805.41L442.25 797.03L442.25 797.01L442.31 796.71L442.5 799.83L442.5 799.86L442.75 808.92L442.75 808.99L443 816.35L443 816.39L443.19 818.34L443.25 818.17L443.25 818.15L443.5 812.62L443.5 812.55L443.75 798.92L443.75 798.79L444 781.42L444 781.3L444.25 769.86L444.25 769.82L444.34 768.83L444.5 771.85L444.5 771.92L444.75 787.1L444.75 787.25L445 808.76L445 808.92L445.25 828.58L445.25 828.71L445.5 840.97L445.5 841.03L445.69 843.74L445.75 843.47L445.75 843.45L446 838.24L446 838.18L446.25 830.87L446.25 830.83L446.5 826.24L446.5 826.22L446.68 825.35L446.75 825.44L446.75 825.44L447 826.64L447 826.65L447.19 827.23L447.25 827.15L447.25 827.14L447.5 824.37L447.5 824.32L447.75 815.74L447.75 815.65L448 801.82L448 801.7L448.25 788.03L448.25 787.94L448.5 780.33L448.5 780.3L448.6 779.65L448.75 781.3L448.75 781.34L449 790.23L449 790.33L449.25 804.61L449.25 804.74L449.5 820.37L449.5 820.49L449.75 832.12L449.75 832.19L449.95 835.42L450 835.24L450 835.22L450.25 829.09L450.25 829.01L450.5 818.83L450.5 818.75L450.75 810.47L450.75 810.42L451 806.1L451 806.08L451.22 805.04L451.25 805.05L451.25 805.06L451.5 806.24L451.5 806.26L451.75 808.59L451.75 808.61L451.93 809.57L452 809.4L452 809.38L452.25 804.55L452.25 804.48L452.5 793.5L452.5 793.4L452.75 782.18L452.75 782.1L453 777.23L453 777.22L453.01 777.21L453.25 780.93L453.25 781L453.5 791.88L453.5 792L453.75 807L453.75 807.14L454 822.54L454 822.67L454.25 834.28L454.25 834.35L454.44 837.51L454.5 837.21L454.5 837.18L454.75 829.11L454.75 829L455 813.39L455 813.25L455.25 797.8L455.25 797.69L455.5 787.13L455.5 787.07L455.75 781.48L455.75 781.45L456 779.16L456 779.15L456.16 778.76L456.25 778.9L456.25 778.91L456.5 781.06L456.5 781.09L456.75 785.89L456.75 785.94L457 790.68L457 790.7L457.13 791.51L457.25 790.76L457.25 790.73L457.5 785.34L457.5 785.28L457.75 779.18L457.75 779.14L457.92 777.57L458 778L458 778.03L458.25 785L458.25 785.09L458.5 799.45L458.5 799.6L458.75 817.12L458.75 817.27L459 832.88L459 833L459.25 842.08L459.25 842.12L459.36 843.13L459.5 841.36L459.5 841.3L459.75 829.89L459.75 829.75L460 811.64L460 811.46L460.25 793.18L460.25 793.03L460.5 778.69L460.5 778.59L460.75 769.49L460.75 769.43L461 764.73L461 764.7L461.25 762.68L461.25 762.66L461.5 761.71L461.5 761.7L461.61 761.57L461.75 761.93L461.75 761.94L462 765.07L462 765.12L462.25 771.86L462.25 771.93L462.5 779.62L462.5 779.69L462.75 784.77L462.75 784.8L463 786.8L463 786.82L463.25 788.74L463.25 788.77L463.5 794.54L463.5 794.63L463.75 805.81L463.75 805.94L464 820.64L464 820.78L464.25 833.94L464.25 834.05L464.5 842L464.5 842.05L464.67 843.66L464.75 843.34L464.75 843.32L465 837.97L465 837.89L465.25 826.69L465.25 826.56L465.5 811.4L465.5 811.25L465.75 794.99L465.75 794.83L466 779.77L466 779.64L466.25 767.74L466.25 767.64L466.5 760.29L466.5 760.24L466.75 757.4L466.75 757.39L467 756.7L467 756.69L467.25 755.74L467.25 755.73L467.49 754.93L467.5 754.93L467.5 754.93L467.75 757.15L467.75 757.2L468 764.52L468 764.62L468.25 775.53L468.25 775.65L468.5 786.76L468.5 786.87L468.75 795.76L468.75 795.81L469 803.19L469 803.26L469.25 811.25L469.25 811.34L469.5 820.84L469.5 820.94L469.75 830.62L469.75 830.71L470 837.8L470 837.85L470.25 840.95L470.25 840.96L470.32 841.1L470.5 840.25L470.5 840.23L470.75 836.72L470.75 836.67L471 831.05L471 830.98L471.25 823.23L471.25 823.14L471.5 813.19L471.5 813.08L471.75 801.58L471.75 801.46L472 790.15L472 790.04L472.25 781.44L472.25 781.37L472.5 776.83L472.5 776.8L472.75 775.34L472.75 775.33L473 774.26L473 774.24L473.25 772.12L473.25 772.1L473.5 770.16L473.5 770.15L473.56 770.04L473.75 771.22L473.75 771.26L474 777.23L474 777.32L474.25 787.2L474.25 787.31L474.5 798.47L474.5 798.57L474.75 808.59L474.75 808.68L475 817.02L475 817.1L475.25 823.95L475.25 824.02L475.5 829.91L475.5 829.96L475.75 834.63L475.75 834.68L476 837.65L476 837.67L476.25 838.62L476.25 838.62L476.26 838.62L476.5 837.97L476.5 837.96L476.75 836.57L476.75 836.55L477 835.27L477 835.26L477.25 834.45L477.25 834.44L477.5 833.76L477.5 833.75L477.75 832.59L477.75 832.58L478 830.58L478 830.55L478.25 827.84L478.25 827.81L478.5 824.67L478.5 824.63L478.75 821.15L478.75 821.11L479 816.96L479 816.91L479.25 812.17L479.25 812.12L479.5 807.34L479.5 807.29L479.75 803.71L479.75 803.68L479.96 802.58L480 802.6L480 802.61L480.25 804.62L480.25 804.65L480.5 809.34L480.5 809.41L480.75 815.72L480.75 815.79L481 822.53L481 822.61L481.25 828.79L481.25 828.85L481.5 833.95L481.5 834L481.75 837.68L481.75 837.71L482 839.8L482 839.82L482.24 840.41L482.25 840.41L482.25 840.41L482.5 839.88L482.5 839.88L482.75 838.83L482.75 838.82L483 837.96L483 837.95L483.16 837.76L483.25 837.82L483.25 837.83L483.5 838.61L483.5 838.62L483.75 840.07L483.75 840.09L484 841.71L484 841.72L484.25 842.92L484.25 842.93L484.45 843.26L484.5 843.23L484.5 843.23L484.75 842.41L484.75 842.4L485 840.43L485 840.4L485.25 837.38L485.25 837.34L485.5 833.47L485.5 833.42L485.75 829.17L485.75 829.12L486 825.09L486 825.05L486.25 821.98L486.25 821.95L486.5 820.44L486.5 820.43L486.59 820.32L486.75 820.71L486.75 820.73L487 822.68L487 822.72L487.25 826.02L487.25 826.06L487.5 830.23L487.5 830.29L487.75 834.7L487.75 834.75L488 838.63L488 838.67L488.25 841.44L488.25 841.46L488.5 842.82L488.5 842.83L488.63 842.99L488.75 842.87L488.75 842.86L489 842.02L489 842.01L489.25 840.9L489.25 840.88L489.5 840.06L489.5 840.05L489.68 839.87L489.75 839.9L489.75 839.91L490 840.47L490 840.48L490.25 841.47L490.25 841.48L490.5 842.38L490.5 842.39L490.66 842.6L490.75 842.5L490.75 842.49L491 841.09L491 841.05L491.25 837.54L491.25 837.48L491.5 831.72L491.5 831.63L491.75 824.14L491.75 824.03L492 815.6L492 815.49L492.25 807.15L492.25 807.05L492.5 799.78L492.5 799.7L492.75 794.31L492.75 794.26L493 791.19L493 791.16L493.21 790.36L493.25 790.38L493.25 790.39L493.5 791.69L493.5 791.72L493.75 794.83L493.75 794.88L494 799.63L494 799.7L494.25 805.92L494.25 806.01L494.5 813.6L494.5 813.71L494.75 821.74L494.75 821.84L495 829.2L495 829.28L495.25 834.65L495.25 834.71L495.5 837.23L495.5 837.25L495.6 837.46L495.75 837.03L495.75 837.01L496 834.94L496 834.9L496.25 832.33L496.25 832.3L496.5 830.49L496.5 830.48L496.67 830.09L496.75 830.17L496.75 830.18L497 831.4L497 831.43L497.25 833.79L497.25 833.83L497.5 836.81L497.5 836.85L497.75 839.79L497.75 839.83L498 842.15L498 842.17L498.25 843.19L498.25 843.19L498.25 843.19L498.5 841.88L498.5 841.88L498.75 837.24L498.75 837.15L499 828.56L499 828.41L499.25 815.9L499.25 815.7L499.5 800.47L499.5 800.25L499.75 784.73L499.75 784.53L500 770.85L500 770.68L500.25 761.18L500.25 761.08L500.5 756.31L500.5 756.28L500.65 755.55L500.75 755.82L500.75 755.83L501 758.52L501 758.57L501.25 763.31L501.25 763.39L501.5 769.3L501.5 769.39L501.75 776.42L501.75 776.52L502 784.58L502 784.7L502.25 793.86L502.25 794L502.5 803.61L502.5 803.75L502.75 812.95L502.75 813.07L503 820.13L503 820.21L503.25 824L503.25 824.02L503.37 824.49L503.5 824.07L503.5 824.05L503.75 821.05L503.75 820.99L504 816.59L504 816.52L504.25 812.65L504.25 812.61L504.5 810.7L504.5 810.69L504.57 810.6L504.75 811.2L504.75 811.23L505 813.86L505 813.91L505.25 817.89L505.25 817.95L505.5 822.38L505.5 822.44L505.75 826.51L505.75 826.57L506 829.94L506 829.98L506.25 832.28L506.25 832.3L506.5 833.31L506.5 833.31L506.53 833.33L506.75 832.54L506.75 832.51L507 829.26L507 829.19L507.25 822.85L507.25 822.73L507.5 813.33L507.5 813.17L507.75 801.37L507.75 801.19L508 788.47L508 788.29L508.25 777.15L508.25 777L508.5 769.17L508.5 769.08L508.75 765.26L508.75 765.23L508.85 764.9L509 765.54L509 765.57L509.25 769.11L509.25 769.18L509.5 774.77L509.5 774.86L509.75 781.27L509.75 781.37L510 787.67L510 787.74L510.25 793.39L510.25 793.47L510.5 798.48L510.5 798.56L510.75 803.12L510.75 803.18L511 807.6L511 807.65L511.25 811.63L511.25 811.68L511.5 814.75L511.5 814.79L511.75 816.28L511.75 816.29L511.81 816.35L512 815.72L512 815.69L512.25 813.12L512.25 813.09L512.5 809.16L512.5 809.1L512.75 805.09L512.75 805.03L513 802.07L513 802.04L513.25 800.98L513.25 800.98L513.5 802.08L513.5 802.11L513.75 805.04L513.75 805.1L514 809.06L514 809.13L514.25 813.29L514.25 813.35L514.5 816.75L514.5 816.77L514.75 818.89L514.75 818.92L515 819.77L515 819.77L515.1 819.83L515.25 819.73L515.25 819.73L515.5 819.31L515.5 819.3L515.75 818.83L515.75 818.82L516 818.3L516 818.29L516.25 817.45L516.25 817.43L516.5 815.92L516.5 815.89L516.75 813.6L516.75 813.58L517 810.67L517 810.62L517.25 807.75L517.25 807.71L517.5 805.52L517.5 805.49L517.74 804.71L517.75 804.71L517.75 804.71L518 805.66L518 805.69L518.25 808.24L518.25 808.29L518.5 811.94L518.5 812L518.75 815.95L518.75 816.01L519 819.41L519 819.45L519.25 821.62L519.25 821.65L519.5 822.33L519.5 822.33L519.75 821.82L519.75 821.8L520 820.7L520 820.68L520.25 819.6L520.25 819.59L520.5 818.91L520.5 818.91L520.75 818.61L520.75 818.61L521 818.42L521 818.42L521.25 817.95L521.25 817.94L521.5 816.95L521.5 816.92L521.75 815.39L521.75 815.36L522 813.53L522 813.5L522.25 811.93L522.25 811.9L522.5 811.04L522.5 811.03L522.59 810.97L522.75 811.21L522.75 811.22L523 812.43L523 812.46L523.25 814.48L523.25 814.52L523.5 816.8L523.5 816.84L523.75 818.87L523.75 818.9L524 820.12L524 820.13L524.17 820.38L524.25 820.34L524.25 820.33L524.5 819.67L524.5 819.65L524.75 818.58L524.75 818.57L525 817.71L525 817.7L525.16 817.51L525.25 817.55L525.25 817.56L525.5 818.36L525.5 818.38L525.75 820.06L525.75 820.09L526 822.46L526 822.51L526.25 825.16L526.25 825.21L526.5 827.9L526.5 827.95L526.75 830.46L526.75 830.5L527 832.71L527 832.75L527.25 834.73L527.25 834.77L527.5 836.52L527.5 836.55L527.75 838.17L527.75 838.19L528 839.56L528 839.58L528.25 840.59L528.25 840.6L528.5 841.01L528.5 841.02L528.51 841.02L528.75 840.63L528.75 840.61L529 839.3L529 839.27L529.25 837.1L529.25 837.05L529.5 834.37L529.5 834.32L529.75 831.48L529.75 831.43L530 828.98L530 828.94L530.25 827.14L530.25 827.12L530.5 826.08L530.5 826.08L530.75 825.76L530.75 825.76L530.76 825.76L531 825.96L531 825.97L531.25 826.5L531.25 826.51L531.5 827.18L531.5 827.2L531.75 827.89L531.75 827.91L532 828.61L532 828.62L532.25 829.32L532.25 829.33L532.5 830.07L532.5 830.08L532.75 830.86L532.75 830.88L533 831.67L533 831.68L533.25 832.41L533.25 832.42L533.5 832.95L533.5 832.96L533.75 833.18L533.75 833.18L533.77 833.18L534 833.02L534 833.01L534.25 832.49L534.25 832.48L534.5 831.7L534.5 831.68L534.75 830.89L534.75 830.87L535 830.29L535 830.28L535.21 830.11L535.25 830.11L535.25 830.11L535.5 830.46L535.5 830.47L535.75 831.32L535.75 831.35L536 832.65L536 832.68L536.25 834.31L536.25 834.35L536.5 836.13L536.5 836.17L536.75 837.99L536.75 838.03L537 839.8L537 839.83L537.25 841.34L537.25 841.37L537.5 842.53L537.5 842.55L537.75 843.23L537.75 843.24L537.91 843.36L538 843.31L538 843.31L538.25 842.65L538.25 842.63L538.5 841.14L538.5 841.11L538.75 838.77L538.75 838.71L539 835.45L539 835.38L539.25 831.44L539.25 831.36L539.5 826.95L539.5 826.86L539.75 822.42L539.75 822.34L540 818.37L540 818.3L540.25 815.33L540.25 815.28L540.5 813.66L540.5 813.64L540.65 813.37L540.75 813.47L540.75 813.48L541 814.65L541 814.68L541.25 816.87L541.25 816.93L541.5 819.89L541.5 819.95L541.75 823.23L541.75 823.3L542 826.69L542 826.76L542.25 830.03L542.25 830.09L542.5 833.09L542.5 833.15L542.75 835.75L542.75 835.8L543 837.88L543 837.92L543.25 839.49L543.25 839.51L543.5 840.47L543.5 840.49L543.75 840.8L543.75 840.8L544 840.47L544 840.46L544.25 839.49L544.25 839.46L544.5 837.94L544.5 837.9L544.75 835.93L544.75 835.89L545 833.65L545 833.6L545.25 831.34L545.25 831.3L545.5 829.35L545.5 829.31L545.75 827.89L545.75 827.87L546 827.28L546 827.28L546.03 827.28L546.25 827.64L546.25 827.65L546.5 828.94L546.5 828.97L546.75 830.97L546.75 831.02L547 833.47L547 833.53L547.25 836.15L547.25 836.21L547.5 838.72L547.5 838.77L547.75 840.94L547.75 840.98L548 842.65L548 842.67L548.24 843.66L548.25 843.68L548.45 843.94L548.5 843.92L548.5 843.91L548.75 843.26L548.75 843.25L549 841.6L549 841.55L549.25 838.84L549.25 838.77L549.5 834.8L549.5 834.71L549.75 829.64L549.75 829.52L550 823.36L550 823.22L550.25 816.12L550.25 815.96L550.5 808.22L550.5 808.05L550.74 800.2L550.75 800.03L551 792.19L551 792.03L551.25 784.92L551.25 784.78L551.5 779.07L551.5 778.96L551.75 774.97L551.75 774.91L552 773.26L552 773.26L552.04 773.22L552.25 774.13L552.25 774.15L552.49 777.49L552.5 777.58L552.75 783.23L552.75 783.37L553 790.52L553 790.69L553.24 798.57L553.25 798.75L553.5 807.05L553.5 807.23L553.75 815.21L553.75 815.37L554 822.62L554 822.77L554.25 828.89L554.25 829.02L554.5 834.15L554.5 834.24L554.75 838.04L554.75 838.11L555 840.66L555 840.71L555.24 841.97L555.25 841.98L555.36 842.12L555.5 841.93L555.5 841.91L555.75 840.56L555.75 840.51L555.99 838.01L556 837.94L556.25 834.32L556.25 834.23L556.5 829.71L556.5 829.6L556.75 824.43L556.75 824.37L556.99 818.89L557 818.77L557.25 813.15L557.25 813.03L557.5 807.81L557.5 807.69L557.75 803.01L557.75 802.92L558 799.41L558 799.35L558.25 797.32L558.25 797.29L558.4 796.94L558.5 797.08L558.5 797.09L558.75 798.83L558.75 798.89L559 802.46L559 802.56L559.25 807.54L559.25 807.67L559.5 813.5L559.5 813.63L559.74 819.54L559.75 819.68L560 825.38L560 825.5L560.25 830.41L560.26 830.51L560.5 834.21L560.5 834.28L560.75 836.67L560.75 836.71L561 837.62L561.01 837.62L561.02 837.62L561.25 836.88L561.25 836.84L561.5 834.42L561.5 834.34L561.75 830.25L561.75 830.14L562 824.49L562 824.35L562.25 817.39L562.25 817.21L562.5 809.29L562.5 809.28L562.75 800.81L562.75 800.61L563 792.02L563 791.82L563.24 783.71L563.25 783.53L563.5 775.86L563.5 775.69L563.75 769.07L563.75 768.93L564 763.28L564.01 763.17L564.25 758.94L564.25 758.86L564.5 756.09L564.5 756.04L564.75 754.91L564.75 754.9L564.79 754.89L565 755.55L565 755.59L565.25 758.08L565.25 758.16L565.5 762.45L565.5 762.57L565.75 768.47L565.76 768.63L566 775.69L566 775.83L566.25 783.92L566.25 784.12L566.49 792.5L566.5 792.71L566.75 801.42L566.75 801.63L567 809.92L567 810.11L567.25 818.1L567.26 818.28L567.5 825.33L567.5 825.49L567.75 831.6L567.75 831.73L568 836.69L568 836.8L568.25 840.46L568.25 840.51L568.5 842.69L568.5 842.73L568.73 843.38L568.75 843.37L568.75 843.37L569 842.46L569.01 842.42L569.25 840.11L569.25 840.04L569.5 836.36L569.5 836.26L569.74 831.61L569.75 831.48L570 825.9L570 825.76L570.24 819.79L570.25 819.63L570.5 813.24L570.5 813.12L570.75 806.97L570.75 806.81L571 801.01L571 800.87L571.24 795.72L571.25 795.6L571.49 791.4L571.5 791.31L571.75 788.36L571.75 788.32L572 786.86L572 786.84L572.1 786.72L572.25 787.01L572.25 787.03L572.5 788.81L572.5 788.87L572.75 792.11L572.75 792.13L573 796.5L573 796.62L573.25 801.83L573.25 801.97L573.5 807.44L573.5 807.59L573.75 813.21L573.76 813.35L574 818.47L574 818.6L574.25 823.05L574.25 823.15L574.49 826.65L574.5 826.73L574.75 829.09L574.76 829.14L575 830.07L575 830.07L575.04 830.08L575.25 829.53L575.26 829.49L575.49 827.5L575.5 827.43L575.74 823.93L575.75 823.82L576 818.95L576 818.8L576.25 812.75L576.25 812.59L576.49 805.83L576.5 805.64L576.75 798.1L576.75 797.9L577 790.07L577.01 789.86L577.25 782.27L577.25 782.07L577.49 774.78L577.5 774.59L577.75 767.69L577.76 767.52L578 761.57L578 761.42L578.25 756.4L578.25 756.28L578.5 752.28L578.5 752.24L578.75 749.46L578.75 749.4L579 747.88L579 747.86L579.17 747.57L579.25 747.64L579.25 747.65L579.5 748.75L579.5 748.79L579.75 751.2L579.76 751.28L579.99 754.81L580 754.92L580.25 759.68L580.25 759.81L580.49 765.41L580.5 765.57L580.75 772.13L580.75 772.24L580.99 779.3L581 779.5L581.25 787.08L581.25 787.29L581.5 794.86L581.5 795.06L581.74 802.61L581.75 802.81L582 810.24L582 810.33L582.25 817.43L582.26 817.61L582.5 823.93L582.51 824.09L582.75 829.7L582.76 829.84L582.99 834.48L583 834.6L583.24 838.44L583.25 838.53L583.5 841.37L583.5 841.43L583.75 843.21L583.75 843.24L583.99 843.96L584 843.96L584.05 843.98L584.25 843.67L584.25 843.66L584.5 842.4L584.51 842.35L584.75 840.3L584.75 840.23L584.99 837.47L585 837.39L585.25 834L585.25 833.91L585.5 830.24L585.5 830.13L585.74 826.32L585.75 826.21L585.99 822.45L586 822.35L586.25 818.75L586.26 818.66L586.5 815.6L586.51 815.53L586.75 813.08L586.76 813.03L586.99 811.34L587 811.3L587.24 810.33L587.25 810.32L587.42 810.12L587.5 810.15L587.5 810.16L587.75 810.76L587.75 810.78L587.99 812.03L588 812.07L588.25 813.91L588.25 813.97L588.5 816.23L588.51 816.3L588.75 818.76L588.75 818.81L588.99 821.39L589 821.46L589.25 824.05L589.25 824.12L589.5 826.44L589.5 826.5L589.74 828.49L589.75 828.54L590 830.14L590.01 830.18L590.25 831.17L590.26 831.19L590.5 831.55L590.51 831.55L590.75 831.2L590.76 831.18L591 830.04L591 830.02L591.25 828.01L591.26 827.94L591.49 825.18L591.5 825.08L591.75 821.34L591.75 821.22L592 816.57L592 816.42L592.25 810.93L592.25 810.89L592.5 804.56L592.5 804.37L592.75 797.34L592.76 797.13L593 789.79L593 789.57L593.24 781.93L593.25 781.7L593.5 773.79L593.5 773.57L593.75 766.15L593.75 765.94L593.99 759.11L594 758.92L594.24 752.99L594.25 752.83L594.5 747.95L594.51 747.84L594.75 744.52L594.76 744.44L595 742.64L595.01 742.61L595.17 742.27L595.25 742.35L595.26 742.36L595.5 743.57L595.5 743.61L595.75 746.1L595.75 746.16L596 749.8L596 749.92L596.25 754.46L596.25 754.61L596.5 759.83L596.51 759.99L596.75 765.49L596.75 765.63L597 771.59L597.01 771.76L597.24 777.61L597.25 777.78L597.5 783.77L597.51 783.94L597.75 789.62L597.75 789.79L598 795.34L598 795.42L598.25 800.79L598.26 800.95L598.5 805.88L598.5 806.02L598.75 810.66L598.75 810.8L599 815.15L599 815.27L599.24 819.33L599.25 819.45L599.49 823.21L599.5 823.32L599.75 826.81L599.75 826.91L600 830.11L600 830.2L600.25 833.12L600.25 833.18L600.5 835.78L600.51 835.85L600.74 838.06L600.75 838.12L601 840.04L601 840.1L601.25 841.64L601.25 841.67L601.49 842.81L601.5 842.83L601.75 843.58L601.76 843.6L601.99 843.93L602 843.94L602.1 843.96L602.25 843.9L602.26 843.89L602.5 843.52L602.5 843.52L602.74 842.9L602.75 842.88L603 842.08L603.01 842.06L603.25 841.22L603.26 841.19L603.5 840.38L603.5 840.36L603.75 839.65L603.75 839.63L604 839.09L604 839.07L604.25 838.72L604.25 838.71L604.5 838.56L604.5 838.56L604.59 838.55L604.75 838.58L604.75 838.58L605 838.77L605.01 838.78L605.24 839.07L605.25 839.08L605.49 839.48L605.5 839.49L605.75 839.93L605.75 839.95L606 840.4L606 840.4L606.25 840.84L606.25 840.86L606.5 841.25L606.51 841.26L606.75 841.55L606.75 841.56L606.99 841.75L607 841.76L607.21 841.81L607.25 841.81L607.25 841.81L607.49 841.69L607.5 841.69L607.74 841.37L607.75 841.35L608 840.78L608.01 840.76L608.25 839.92L608.26 839.89L608.5 838.74L608.5 838.69L608.75 837.17L608.75 837.11L609 835.16L609 835.09L609.25 832.66L609.25 832.58L609.5 829.61L609.5 829.5L609.75 825.95L609.76 825.82L610 821.65L610.01 821.51L610.24 816.88L610.25 816.72L610.5 811.27L610.5 811.2L610.75 805.38L610.76 805.19L610.99 799.28L611 799.09L611.25 792.94L611.25 792.74L611.49 787.02L611.5 786.84L611.75 781.48L611.75 781.32L611.99 776.93L612 776.8L612.25 773.3L612.26 773.21L612.49 770.92L612.5 770.86L612.74 769.65L612.75 769.62L612.93 769.37L613 769.4L613.01 769.41L613.25 770.03L613.26 770.06L613.5 771.34L613.5 771.39L613.75 773.14L613.75 773.2L614 775.27L614 775.32L614.24 777.54L614.25 777.61L614.5 779.88L614.5 779.96L614.75 782.2L614.75 782.27L615 784.43L615 784.47L615.25 786.53L615.26 786.6L615.49 788.43L615.5 788.49L615.74 790.26L615.75 790.32L616 791.96L616.01 792.02L616.25 793.56L616.25 793.58L616.5 795.08L616.5 795.13L616.74 796.56L616.75 796.61L617 798.08L617 798.13L617.24 799.58L617.25 799.63L617.5 801.14L617.51 801.19L617.74 802.69L617.75 802.74L617.99 804.25L618 804.31L618.25 805.9L618.26 805.95L618.5 807.54L618.5 807.57L618.75 809.17L618.75 809.23L618.99 810.87L619 810.92L619.24 812.62L619.25 812.68L619.49 814.44L619.5 814.51L619.75 816.37L619.75 816.41L619.99 818.34L620 818.41L620.25 820.41L620.25 820.48L620.5 822.55L620.5 822.62L620.75 824.71L620.75 824.74L620.99 826.79L621 826.86L621.24 828.86L621.25 828.93L621.5 830.81L621.51 830.87L621.74 832.52L621.75 832.58L622 834.1L622 834.14L622.25 835.42L622.26 835.46L622.5 836.48L622.5 836.51L622.74 837.33L622.75 837.36L623 838.02L623 838.03L623.24 838.51L623.25 838.52L623.5 838.87L623.51 838.88L623.75 839.11L623.76 839.12L624 839.27L624 839.27L624.25 839.37L624.25 839.37L624.49 839.44L624.5 839.44L624.74 839.5L624.75 839.51L624.99 839.59L625 839.59L625.24 839.71L625.25 839.72L625.49 839.89L625.5 839.9L625.74 840.14L625.75 840.15L625.99 840.45L626 840.46L626.24 840.82L626.25 840.83L626.5 841.21L626.51 841.22L626.75 841.6L626.76 841.61L626.99 841.93L627 841.94L627.25 842.2L627.25 842.2L627.5 842.35L627.5 842.35L627.63 842.37L627.75 842.35L627.75 842.35L628 842.19L628.01 842.18L628.24 841.85L628.25 841.83L628.5 841.28L628.51 841.26L628.74 840.52L628.75 840.49L628.99 839.51L629 839.48L629.25 838.23L629.26 838.18L629.49 836.73L629.5 836.67L629.74 834.98L629.75 834.92L630 832.93L630.01 832.86L630.25 830.76L630.26 830.68L630.5 828.44L630.51 828.35L630.75 826.04L630.75 825.95L631 823.63L631 823.56L631.25 821.29L631.25 821.21L631.5 819.08L631.5 819.01L631.75 817.06L631.76 816.99L632 815.26L632.01 815.2L632.25 813.68L632.26 813.63L632.49 812.35L632.5 812.31L632.74 811.16L632.75 811.12L633 810.11L633.01 810.08L633.25 809.16L633.25 809.14L633.49 808.28L633.5 808.26L633.75 807.39L633.76 807.36L633.99 806.49L634 806.45L634.25 805.48L634.26 805.45L634.5 804.38L634.5 804.38L634.75 803.19L634.76 803.15L634.99 801.89L635 801.83L635.25 800.4L635.26 800.35L635.5 798.87L635.5 798.81L635.75 797.23L635.75 797.19L635.99 795.59L636 795.53L636.25 793.86L636.26 793.8L636.5 792.22L636.51 792.16L636.75 790.64L636.75 790.61L637 789.15L637 789.09L637.24 787.74L637.25 787.69L637.49 786.42L637.5 786.37L637.74 785.18L637.75 785.14L638 784.01L638 783.97L638.25 782.91L638.26 782.87L638.5 781.87L638.51 781.83L638.75 780.89L638.76 780.85L638.99 780.02L639 779.99L639.24 779.22L639.25 779.19L639.5 778.56L639.51 778.54L639.74 778.1L639.75 778.08L639.99 777.84L640 777.84L640.1 777.82L640.25 777.88L640.26 777.89L640.49 778.24L640.5 778.26L640.75 778.99L640.76 779.02L640.99 780.1L641 780.15L641.25 781.67L641.25 781.7L641.49 783.57L641.5 783.65L641.74 785.82L641.75 785.92L642 788.47L642.01 788.58L642.24 791.26L642.25 791.37L642.5 794.27L642.5 794.3L642.74 797.19L642.75 797.3L643 800.29L643.01 800.4L643.25 803.21L643.26 803.32L643.5 806.02L643.5 806.12L643.75 808.67L643.75 808.77L643.99 811.14L644 811.23L644.24 813.42L644.25 813.51L644.5 815.51L644.5 815.59L644.75 817.43L644.75 817.46L645 819.17L645.01 819.24L645.25 820.77L645.26 820.83L645.49 822.19L645.5 822.24L645.74 823.56L645.75 823.61L646 824.86L646 824.9L646.25 826.07L646.26 826.12L646.49 827.2L646.5 827.25L646.75 828.34L646.75 828.39L647 829.45L647 829.47L647.24 830.49L647.25 830.53L647.5 831.53L647.51 831.57L647.74 832.49L647.75 832.53L648 833.44L648.01 833.48L648.25 834.32L648.25 834.34L648.49 835.1L648.5 835.13L648.75 835.85L648.76 835.88L648.99 836.49L649 836.52L649.24 837.06L649.25 837.08L649.5 837.55L649.51 837.57L649.75 837.94L649.76 837.96L649.99 838.24L650 838.25L650.24 838.45L650.25 838.46L650.49 838.58L650.5 838.58L650.71 838.61L650.74 838.61L650.75 838.61L650.99 838.56L651 838.55L651.24 838.42L651.25 838.41L651.49 838.2L651.5 838.19L651.75 837.89L651.75 837.88L651.99 837.53L652 837.51L652.24 837.09L652.25 837.07L652.5 836.6L652.51 836.58L652.75 836.07L652.75 836.06L652.99 835.51L653 835.49L653.24 834.92L653.25 834.9L653.5 834.3L653.51 834.28L653.75 833.68L653.76 833.66L654 833.07L654 833.05L654.25 832.45L654.26 832.42L654.49 831.84L654.5 831.82L654.75 831.21L654.76 831.18L654.99 830.59L655 830.57L655.25 829.94L655.26 829.91L655.49 829.29L655.5 829.26L655.75 828.58L655.76 828.55L655.99 827.85L656 827.82L656.25 827.03L656.25 827.02L656.5 826.15L656.51 826.11L656.75 825.18L656.76 825.14L656.99 824.1L657 824.05L657.24 822.89L657.25 822.84L657.49 821.51L657.5 821.48L657.75 819.96L657.76 819.89L658 818.27L658.01 818.2L658.25 816.41L658.26 816.33L658.5 814.36L658.5 814.34L658.75 812.14L658.76 812.05L659 809.74L659.01 809.64L659.25 807.18L659.26 807.07L659.5 804.46L659.5 804.39L659.75 801.65L659.75 801.61L659.99 798.76L660 798.63L660.24 795.7L660.25 795.57L660.5 792.57L660.51 792.44L660.75 789.4L660.75 789.37L660.99 786.35L661 786.24L661.24 783.24L661.25 783.11L661.5 780.19L661.51 780.07L661.74 777.39L661.75 777.27L662 774.6L662.01 774.51L662.24 772.16L662.25 772.06L662.49 769.85L662.5 769.76L662.74 767.9L662.75 767.82L662.99 766.19L663 766.14L663.24 764.87L663.25 764.83L663.5 763.88L663.51 763.85L663.74 763.29L663.75 763.27L663.99 763.06L664 763.06L664.02 763.06L664.25 763.2L664.26 763.22L664.49 763.69L664.5 763.72L664.74 764.52L664.75 764.56L665 765.71L665.01 765.77L665.25 767.16L665.25 767.19L665.5 768.87L665.51 768.95L665.74 770.82L665.76 770.91L665.99 773L666 773.09L666.24 775.36L666.25 775.47L666.49 777.9L666.5 777.98L666.74 780.58L666.75 780.7L666.99 783.39L667 783.52L667.24 786.3L667.25 786.43L667.49 789.28L667.5 789.41L667.75 792.32L667.76 792.45L668 795.38L668.01 795.51L668.25 798.43L668.26 798.57L668.49 801.33L668.5 801.46L668.74 804.3L668.75 804.39L669 807.19L669.01 807.31L669.24 809.85L669.25 809.97L669.49 812.51L669.5 812.63L669.75 815.03L669.76 815.12L670 817.36L670 817.39L670.24 819.5L670.26 819.6L670.5 821.55L670.51 821.63L670.74 823.34L670.75 823.42L671 825.06L671 825.09L671.24 826.57L671.25 826.63L671.49 827.93L671.5 827.99L671.75 829.22L671.76 829.27L671.99 830.33L672 830.38L672.25 831.38L672.26 831.42L672.5 832.28L672.51 832.32L672.74 833.09L672.75 833.12L672.99 833.81L673 833.84L673.25 834.49L673.25 834.5L673.5 835.06L673.51 835.09L673.74 835.58L673.75 835.6L673.99 836.03L674 836.05L674.24 836.43L674.25 836.45L674.49 836.78L674.5 836.79L674.74 837.09L674.75 837.1L674.99 837.34L675 837.36L675.24 837.56L675.25 837.57L675.49 837.74L675.5 837.75L675.75 837.88L675.75 837.89L675.99 837.98L676 837.99L676.24 838.05L676.25 838.05L676.49 838.07L676.5 838.07L676.54 838.07L676.75 838.06L676.75 838.06L677 838.01L677.01 838.01L677.24 837.93L677.25 837.92L677.49 837.8L677.5 837.8L677.74 837.64L677.76 837.63L678 837.43L678.01 837.42L678.24 837.2L678.25 837.19L678.49 836.91L678.51 836.9L678.75 836.58L678.76 836.57L678.99 836.23L679 836.22L679.25 835.83L679.26 835.81L679.49 835.41L679.5 835.39L679.75 834.93L679.76 834.91L679.99 834.44L680 834.42L680.25 833.91L680.26 833.88L680.49 833.37L680.51 833.35L680.74 832.82L680.75 832.79L681 832.23L681.01 832.2L681.24 831.65L681.25 831.62L681.49 831.04L681.5 831.03L681.75 830.43L681.76 830.4L681.99 829.82L682.01 829.79L682.24 829.19L682.25 829.16L682.49 828.55L682.5 828.52L682.75 827.85L682.76 827.81L683 827.14L683.01 827.11L683.25 826.4L683.26 826.36L683.49 825.59L683.5 825.56L683.75 824.72L683.76 824.69L683.99 823.79L684.01 823.75L684.24 822.77L684.26 822.72L684.49 821.65L684.51 821.6L684.74 820.44L684.75 820.4L684.99 819.11L685.01 819.04L685.25 817.67L685.26 817.6L685.5 816.11L685.51 816.04L685.75 814.44L685.76 814.39L686 812.69L686 812.66L686.24 810.87L686.25 810.77L686.49 808.9L686.51 808.8L686.75 806.86L686.76 806.76L686.99 804.87L687 804.77L687.24 802.76L687.25 802.67L687.5 800.67L687.51 800.57L687.74 798.72L687.75 798.63L687.99 796.75L688 796.66L688.25 794.89L688.26 794.81L688.49 793.27L688.5 793.19L688.75 791.73L688.76 791.66L688.99 790.45L689 790.39L689.25 789.32L689.25 789.29L689.49 788.44L689.5 788.42L689.75 787.77L689.76 787.74L689.99 787.33L690 787.31L690.24 787.09L690.25 787.08L690.42 787.03L690.5 787.04L690.5 787.04L690.74 787.18L690.75 787.19L691 787.5L691.01 787.52L691.25 787.96L691.26 787.99L691.49 788.56L691.5 788.59L691.75 789.31L691.75 789.33L692 790.19L692.01 790.23L692.25 791.16L692.26 791.21L692.5 792.24L692.51 792.3L692.74 793.42L692.75 793.46L692.99 794.71L693 794.78L693.24 796.1L693.25 796.17L693.49 797.59L693.5 797.67L693.74 799.18L693.75 799.26L694 800.91L694 800.94L694.24 802.62L694.25 802.71L694.49 804.46L694.5 804.56L694.74 806.37L694.75 806.46L694.99 808.32L695 808.4L695.24 810.31L695.26 810.4L695.49 812.29L695.51 812.39L695.75 814.27L695.76 814.37L696 816.22L696.01 816.28L696.25 818.08L696.25 818.11L696.49 819.83L696.5 819.92L696.74 821.55L696.76 821.64L697 823.17L697.01 823.25L697.24 824.6L697.25 824.67L697.49 825.99L697.51 826.05L697.75 827.25L697.76 827.31L697.99 828.33L698 828.39L698.24 829.36L698.26 829.41L698.49 830.23L698.5 830.27L698.74 831.04L698.76 831.08L699 831.75L699.01 831.78L699.24 832.34L699.26 832.37L699.5 832.89L699.5 832.9L699.75 833.34L699.76 833.36L699.99 833.73L700 833.75L700.25 834.09L700.26 834.11L700.49 834.39L700.5 834.41L700.75 834.67L700.75 834.67L700.99 834.9L701.01 834.92L701.24 835.12L701.25 835.13L701.5 835.32L701.51 835.33L701.75 835.5L701.76 835.51L702 835.68L702.01 835.68L702.24 835.84L702.25 835.85L702.49 836L702.5 836.01L702.75 836.17L702.76 836.18L703 836.33L703 836.34L703.24 836.49L703.26 836.5L703.49 836.65L703.51 836.65L703.74 836.8L703.75 836.81L703.99 836.95L704 836.96L704.25 837.1L704.25 837.11L704.49 837.24L704.5 837.24L704.74 837.37L704.75 837.37L704.99 837.48L705 837.49L705.24 837.58L705.25 837.59L705.49 837.67L705.5 837.67L705.74 837.74L705.76 837.74L705.99 837.78L706.01 837.78L706.25 837.8L706.26 837.8L706.31 837.8L706.5 837.8L706.5 837.8L706.74 837.76L706.75 837.76L706.99 837.69L707 837.69L707.24 837.59L707.26 837.58L707.5 837.45L707.5 837.44L707.75 837.27L707.75 837.27L707.99 837.05L708 837.04L708.24 836.77L708.26 836.76L708.5 836.45L708.51 836.43L708.74 836.09L708.75 836.07L709 835.66L709.01 835.63L709.24 835.19L709.25 835.17L709.49 834.65L709.51 834.62L709.74 834.08L709.75 834.05L710 833.42L710.01 833.4L710.25 832.73L710.26 832.69L710.49 832.02L710.51 831.98L710.74 831.28L710.75 831.23L710.99 830.46L711 830.43L711.24 829.63L711.25 829.6L711.5 828.78L711.51 828.73L711.74 827.93L711.76 827.89L711.99 827.08L712 827.03L712.25 826.17L712.26 826.13L712.49 825.32L712.51 825.27L712.74 824.47L712.75 824.42L713 823.57L713.01 823.52L713.24 822.73L713.25 822.7L713.49 821.89L713.51 821.86L713.74 821.09L713.75 821.04L713.99 820.28L714 820.24L714.25 819.45L714.26 819.41L714.5 818.67L714.5 818.66L714.74 817.91L714.76 817.87L714.99 817.17L715.01 817.13L715.24 816.45L715.26 816.41L715.49 815.74L715.5 815.7L715.75 815.05L715.75 815.02L715.99 814.4L716 814.37L716.24 813.78L716.25 813.74L716.49 813.18L716.5 813.15L716.74 812.62L716.75 812.6L716.99 812.1L717.01 812.07L717.24 811.63L717.26 811.6L717.5 811.2L717.51 811.18L717.75 810.83L717.76 810.82L718 810.52L718 810.52L718.24 810.28L718.25 810.27L718.49 810.09L718.5 810.08L718.74 809.96L718.76 809.96L719 809.9L719 809.9L719.08 809.9L719.24 809.91L719.25 809.91L719.49 809.99L719.5 809.99L719.75 810.13L719.76 810.14L719.99 810.32L720 810.34L720.25 810.61L720.25 810.61L720.5 810.93L720.51 810.96L720.74 811.31L720.75 811.34L720.99 811.78L721.01 811.8L721.25 812.3L721.25 812.31L721.49 812.87L721.5 812.89L721.75 813.51L721.76 813.54L721.99 814.18L722 814.22L722.25 814.94L722.26 814.98L722.49 815.72L722.5 815.76L722.75 816.61L722.76 816.66L722.99 817.5L723.01 817.56L723.24 818.44L723.25 818.5L723.49 819.5L723.5 819.54L723.75 820.57L723.75 820.6L724 821.69L724.01 821.75L724.24 822.82L724.26 822.88L724.49 823.97L724.5 824.04L724.75 825.23L724.75 825.24L724.99 826.43L725.01 826.5L725.24 827.64L725.26 827.71L725.49 828.85L725.5 828.92L725.75 830.11L725.76 830.14L726 831.28L726.01 831.34L726.24 832.41L726.26 832.47L726.49 833.49L726.51 833.55L726.74 834.52L726.75 834.58L726.99 835.47L727 835.53L727.24 836.38L727.25 836.4L727.5 837.19L727.51 837.23L727.75 837.88L727.76 837.92L728 838.48L728.01 838.5L728.25 838.98L728.26 839.01L728.5 839.38L728.51 839.4L728.75 839.67L728.76 839.69L729 839.87L729.01 839.88L729.25 839.97L729.25 839.97L729.38 839.98L729.49 839.97L729.5 839.97L729.74 839.89L729.75 839.89L729.99 839.73L730 839.72L730.24 839.49L730.26 839.47L730.49 839.17L730.5 839.16L730.75 838.79L730.76 838.77L731 838.35L731.01 838.32L731.24 837.88L731.25 837.85L731.49 837.34L731.5 837.31L731.75 836.76L731.76 836.73L732 836.15L732.01 836.11L732.24 835.54L732.25 835.5L732.49 834.88L732.51 834.84L732.75 834.19L732.75 834.18L732.99 833.52L733 833.5L733.24 832.84L733.26 832.8L733.5 832.15L733.51 832.11L733.74 831.49L733.75 831.45L734 830.8L734.01 830.77L734.24 830.18L734.25 830.15L734.49 829.54L734.51 829.5L734.75 828.91L734.76 828.88L734.99 828.35L735 828.32L735.25 827.78L735.26 827.75L735.49 827.28L735.51 827.25L735.73 826.81L735.75 826.79L735.99 826.36L736.01 826.33L736.25 825.95L736.25 825.94L736.5 825.59L736.51 825.57L736.74 825.28L736.76 825.26L736.98 825L737 824.99L737.24 824.76L737.25 824.75L737.49 824.57L737.5 824.56L737.74 824.43L737.75 824.42L738 824.32L738.01 824.31L738.24 824.25L738.26 824.25L738.49 824.23L738.5 824.23L738.54 824.23L738.75 824.24L738.76 824.24L739 824.29L739.01 824.29L739.24 824.36L739.26 824.37L739.49 824.47L739.5 824.48L739.75 824.61L739.75 824.62L739.99 824.76L740 824.77L740.25 824.95L740.26 824.96L740.5 825.13L740.51 825.14L740.75 825.33L740.75 825.33L740.99 825.53L741.01 825.54L741.24 825.72L741.26 825.73L741.49 825.9L741.51 825.91L741.74 826.07L741.76 826.08L742 826.22L742.01 826.22L742.24 826.33L742.26 826.33L742.49 826.41L742.51 826.41L742.74 826.44L742.76 826.44L742.81 826.44L742.99 826.43L743 826.43L743.25 826.37L743.26 826.36L743.5 826.25L743.51 826.24L743.75 826.07L743.76 826.06L743.98 825.85L744 825.83L744.25 825.53L744.25 825.53L744.49 825.19L744.51 825.17L744.74 824.77L744.76 824.74L745 824.29L745.01 824.26L745.23 823.79L745.25 823.76L745.49 823.19L745.5 823.17L745.74 822.58L745.76 822.53L746 821.9L746.01 821.86L746.23 821.23L746.25 821.18L746.49 820.48L746.5 820.45L746.74 819.71L746.76 819.66L746.98 818.96L747 818.91L747.24 818.15L747.26 818.09L747.5 817.32L747.5 817.29L747.75 816.5L747.75 816.48L747.99 815.7L748.01 815.64L748.25 814.86L748.27 814.81L748.49 814.08L748.51 814.03L748.75 813.25L748.75 813.24L748.99 812.48L749.01 812.44L749.25 811.69L749.26 811.64L749.49 810.96L749.51 810.91L749.75 810.19L749.76 810.17L750 809.47L750.01 809.44L750.25 808.76L750.27 808.72L750.49 808.11L750.51 808.06L750.74 807.47L750.75 807.43L751 806.81L751 806.79L751.24 806.21L751.26 806.18L751.48 805.65L751.5 805.61L751.74 805.07L751.76 805.04L751.99 804.55L752.01 804.52L752.25 804.03L752.25 804.03L752.5 803.57L752.51 803.54L752.74 803.13L752.76 803.1L752.99 802.73L753 802.7L753.25 802.33L753.25 802.33L753.5 802L753.51 801.98L753.74 801.71L753.76 801.69L753.99 801.45L754.01 801.44L754.24 801.24L754.25 801.23L754.48 801.08L754.5 801.07L754.75 800.96L754.76 800.96L755 800.91L755.01 800.91L755.09 800.9L755.24 800.92L755.26 800.92L755.49 800.99L755.5 800.99L755.75 801.13L755.76 801.14L755.99 801.34L756.01 801.36L756.24 801.63L756.26 801.66L756.49 802.01L756.5 802.03L756.74 802.46L756.75 802.49L756.99 803.01L757 803.04L757.24 803.64L757.25 803.68L757.49 804.36L757.51 804.41L757.74 805.18L757.76 805.24L758 806.12L758.01 806.16L758.24 807.09L758.26 807.16L758.49 808.19L758.51 808.26L758.75 809.37L758.76 809.44L759 810.63L759 810.66L759.24 811.94L759.25 811.98L759.49 813.3L759.5 813.39L759.74 814.77L759.76 814.87L759.99 816.31L760.01 816.4L760.25 817.9L760.26 817.99L760.5 819.5L760.52 819.61L760.74 821.03L760.75 821.14L760.99 822.69L761.01 822.8L761.25 824.34L761.25 824.4L761.49 825.96L761.5 825.99L761.74 827.51L761.76 827.62L761.99 829.1L762.01 829.21L762.25 830.65L762.26 830.71L762.49 832.05L762.5 832.12L762.74 833.48L762.76 833.58L762.98 834.75L763 834.84L763.24 836.04L763.26 836.12L763.5 837.23L763.5 837.26L763.75 838.29L763.75 838.33L763.99 839.26L764.01 839.32L764.24 840.1L764.25 840.15L764.49 840.89L764.51 840.94L764.73 841.53L764.75 841.57L764.99 842.11L765.01 842.14L765.23 842.54L765.25 842.56L765.49 842.89L765.51 842.91L765.74 843.11L765.75 843.12L766 843.23L766.01 843.23L766.13 843.24L766.24 843.24L766.26 843.23L766.5 843.13L766.52 843.12L766.74 842.93L766.76 842.91L766.99 842.63L767 842.6L767.25 842.2L767.26 842.16L767.49 841.69L767.51 841.65L767.73 841.09L767.75 841.05L768 840.35L768.01 840.32L768.25 839.54L768.26 839.5L768.49 838.67L768.5 838.62L768.75 837.66L768.77 837.58L768.99 836.61L769.01 836.53L769.24 835.49L769.25 835.42L769.49 834.25L769.5 834.21L769.75 832.95L769.77 832.85L770 831.62L770.01 831.52L770.24 830.24L770.26 830.15L770.49 828.82L770.5 828.76L770.74 827.33L770.75 827.25L770.98 825.86L771 825.75L771.25 824.22L771.26 824.13L771.5 822.68L771.5 822.63L771.75 821.13L771.76 821.02L771.99 819.57L772.01 819.46L772.24 818.03L772.26 817.92L772.49 816.49L772.51 816.38L772.74 814.98L772.75 814.92L772.99 813.49L773.01 813.4L773.24 812.05L773.26 811.95L773.49 810.65L773.51 810.55L773.74 809.29L773.76 809.21L774 807.96L774.01 807.9L774.24 806.75L774.26 806.67L774.49 805.58L774.51 805.5L774.74 804.47L774.76 804.4L775 803.44L775 803.42L775.25 802.48L775.27 802.42L775.48 801.66L775.5 801.61L775.73 800.87L775.75 800.82L775.99 800.16L776.01 800.11L776.25 799.51L776.26 799.49L776.49 798.99L776.51 798.96L776.75 798.55L776.76 798.52L776.98 798.21L777 798.18L777.24 797.93L777.25 797.91L777.49 797.73L777.51 797.72L777.74 797.62L777.76 797.62L777.96 797.59L778 797.59L778.02 797.59L778.24 797.63L778.25 797.64L778.49 797.75L778.5 797.75L778.75 797.93L778.76 797.95L778.98 798.15L779 798.17L779.24 798.45L779.26 798.47L779.5 798.79L779.5 798.8L779.75 799.16L779.75 799.17L779.99 799.55L780.01 799.58L780.25 799.98L780.27 800.01L780.49 800.39L780.51 800.43L780.74 800.85L780.75 800.86L780.99 801.28L781 801.29L781.24 801.7L781.26 801.73L781.48 802.09L781.5 802.12L781.74 802.49L781.76 802.51L782 802.86L782 802.86L782.24 803.17L782.26 803.19L782.48 803.45L782.5 803.47L782.74 803.71L782.76 803.73L782.98 803.91L783 803.93L783.24 804.09L783.26 804.1L783.48 804.22L783.5 804.23L783.75 804.31L783.76 804.32L783.99 804.37L784.01 804.37L784.25 804.39L784.27 804.39L784.29 804.39L784.49 804.38L784.51 804.38L784.73 804.34L784.75 804.34L785 804.27L785.01 804.27L785.24 804.19L785.25 804.18L785.49 804.08L785.5 804.08L785.75 803.96L785.77 803.95L785.99 803.82L786.01 803.81L786.24 803.68L786.25 803.67L786.5 803.51L786.5 803.51L786.74 803.35L786.76 803.34L786.99 803.18L787.01 803.17L787.24 803L787.25 802.99L787.48 802.81L787.5 802.8L787.75 802.6L787.76 802.59L787.99 802.39L788.01 802.37L788.24 802.17L788.26 802.15L788.49 801.92L788.5 801.9L788.73 801.66L788.75 801.64L789 801.35L789.02 801.32L789.25 801.03L789.27 801L789.49 800.67L789.51 800.64L789.74 800.28L789.76 800.26L790 799.83L790.01 799.81L790.24 799.36L790.26 799.32L790.49 798.83L790.51 798.79L790.74 798.25L790.76 798.2L790.99 797.6L791 797.56L791.24 796.88L791.25 796.85L791.48 796.14L791.5 796.08L791.73 795.32L791.75 795.26L791.98 794.44L792 794.37L792.25 793.45L792.25 793.43L792.49 792.49L792.51 792.43L792.74 791.46L792.76 791.38L792.99 790.36L793.01 790.28L793.24 789.23L793.25 789.16L793.49 788.04L793.51 787.96L793.74 786.85L793.76 786.76L794 785.63L794.01 785.53L794.25 784.39L794.26 784.33L794.48 783.24L794.5 783.15L794.74 781.96L794.75 781.9L794.99 780.77L795.01 780.68L795.24 779.56L795.26 779.47L795.49 778.38L795.5 778.34L795.75 777.25L795.77 777.16L795.99 776.22L796 776.16L796.24 775.2L796.26 775.13L796.49 774.23L796.51 774.17L796.75 773.34L796.75 773.33L796.99 772.56L797 772.53L797.24 771.86L797.26 771.81L797.49 771.23L797.51 771.19L797.73 770.75L797.75 770.71L798 770.32L798.01 770.3L798.24 770.03L798.26 770.02L798.48 769.87L798.5 769.86L798.7 769.82L798.74 769.82L798.76 769.82L798.99 769.91L799 769.91L799.24 770.12L799.25 770.13L799.49 770.47L799.51 770.5L799.75 770.96L799.77 771.01L799.99 771.55L800.01 771.61L800.25 772.34L800.26 772.39L800.49 773.19L800.5 773.24L800.74 774.21L800.76 774.3L800.98 775.29L801 775.39L801.24 776.59L801.25 776.66L801.49 777.97L801.5 778.01L801.74 779.41L801.76 779.53L801.98 780.91L802 781.03L802.24 782.61L802.26 782.73L802.48 784.26L802.5 784.38L802.74 786.1L802.76 786.25L802.98 787.86L803 788.01L803.25 789.8L803.26 789.93L803.49 791.61L803.5 791.74L803.75 793.59L803.77 793.74L803.99 795.42L804.01 795.57L804.23 797.24L804.25 797.39L804.5 799.2L804.51 799.3L804.74 800.97L804.75 801.06L804.99 802.79L805 802.86L805.25 804.57L805.27 804.71L805.49 806.23L805.51 806.36L805.73 807.84L805.75 807.97L806 809.53L806.02 809.66L806.24 811.03L806.26 811.16L806.49 812.48L806.51 812.6L806.73 813.88L806.75 814L807 815.34L807 815.37L807.24 816.64L807.26 816.73L807.49 817.86L807.51 817.96L807.73 819.05L807.75 819.15L808 820.29L808.01 820.33L808.25 821.4L808.26 821.47L808.49 822.43L808.51 822.51L808.74 823.43L808.76 823.52L808.98 824.4L809 824.48L809.23 825.33L809.25 825.4L809.5 826.28L809.52 826.35L809.75 827.12L809.77 827.19L809.99 827.92L810.01 827.99L810.24 828.68L810.26 828.72L810.49 829.39L810.5 829.41L810.74 830.05L810.76 830.1L810.99 830.65L811.01 830.7L811.24 831.2L811.26 831.24L811.49 831.69L811.5 831.72L811.75 832.12L811.76 832.14L811.99 832.46L812.01 832.48L812.23 832.72L812.26 832.74L812.48 832.9L812.51 832.92L812.74 833L812.75 833L812.84 833.01L812.99 832.99L813.01 832.99L813.24 832.88L813.26 832.87L813.49 832.67L813.51 832.65L813.74 832.35L813.76 832.32L814 831.9L814.01 831.87L814.24 831.36L814.26 831.31L814.49 830.7L814.52 830.64L814.75 829.91L814.76 829.87L814.98 829.1L815 829.02L815.24 828.05L815.25 828.02L815.48 827L815.51 826.91L815.74 825.8L815.76 825.7L815.99 824.51L816.01 824.42L816.25 823.11L816.27 823.01L816.5 821.67L816.52 821.55L816.73 820.28L816.75 820.15L816.99 818.7L817.01 818.57L817.24 817.08L817.25 816.99L817.5 815.42L817.52 815.28L817.74 813.83L817.75 813.73L817.98 812.17L818.01 812.03L818.24 810.46L818.26 810.35L818.5 808.76L818.5 808.74L818.74 807.15L818.75 807.07L818.99 805.55L819.01 805.41L819.24 803.92L819.26 803.8L819.48 802.45L819.5 802.32L819.75 800.85L819.76 800.78L819.99 799.41L820.02 799.29L820.23 798.09L820.25 797.97L820.49 796.72L820.51 796.61L820.75 795.41L820.75 795.39L820.99 794.24L821 794.19L821.24 793.13L821.26 793.04L821.48 792.14L821.5 792.06L821.74 791.15L821.76 791.08L822 790.24L822.02 790.17L822.24 789.47L822.26 789.42L822.49 788.75L822.52 788.69L822.73 788.15L822.75 788.1L822.99 787.58L823 787.56L823.24 787.11L823.25 787.09L823.49 786.73L823.51 786.7L823.73 786.43L823.75 786.4L823.99 786.18L824.01 786.17L824.25 786.01L824.25 786.01L824.49 785.91L824.52 785.91L824.73 785.87L824.76 785.87L824.8 785.87L825 785.89L825.01 785.89L825.24 785.95L825.25 785.95L825.49 786.05L825.5 786.06L825.74 786.19L825.76 786.2L825.98 786.35L826 786.37L826.25 786.55L826.26 786.56L826.49 786.74L826.5 786.75L826.74 786.95L826.75 786.96L826.99 787.15L827.02 787.17L827.24 787.34L827.26 787.36L827.48 787.51L827.5 787.53L827.75 787.67L827.77 787.69L827.99 787.79L828.01 787.8L828.23 787.89L828.25 787.89L828.5 787.95L828.51 787.95L828.74 787.96L828.75 787.96L828.99 787.94L829.01 787.94L829.23 787.89L829.25 787.88L829.49 787.78L829.51 787.77L829.74 787.65L829.76 787.64L830 787.47L830.01 787.47L830.24 787.28L830.25 787.27L830.5 787.05L830.52 787.03L830.74 786.8L830.76 786.78L830.99 786.54L831 786.53L831.24 786.26L831.26 786.25L831.48 785.99L831.5 785.97L831.75 785.7L831.77 785.68L832 785.43L832.01 785.42L832.25 785.16L832.26 785.15L832.49 784.93L832.51 784.91L832.74 784.7L832.76 784.69L832.98 784.51L833.01 784.49L833.23 784.33L833.25 784.32L833.49 784.18L833.5 784.18L833.74 784.08L833.75 784.07L834 784L834.02 784L834.25 783.97L834.26 783.96L834.38 783.96L834.5 783.96L834.5 783.96L834.75 784L834.77 784L835 784.06L835.02 784.07L835.24 784.16L835.26 784.17L835.49 784.29L835.5 784.3L835.75 784.44L835.77 784.46L836 784.62L836.02 784.64L836.25 784.81L836.27 784.83L836.5 785.01L836.51 785.02L836.75 785.22L836.75 785.22L837 785.42L837.02 785.44L837.23 785.61L837.25 785.62L837.48 785.78L837.5 785.8L837.73 785.94L837.75 785.95L838 786.07L838.01 786.07L838.24 786.15L838.26 786.15L838.49 786.18L838.51 786.18L838.52 786.18L838.74 786.16L838.76 786.16L838.99 786.08L839 786.07L839.25 785.92L839.27 785.9L839.48 785.7L839.5 785.68L839.73 785.39L839.75 785.36L839.99 784.98L840.01 784.94L840.25 784.47L840.26 784.44L840.49 783.89L840.52 783.83L840.75 783.2L840.77 783.13L840.98 782.48L841 782.4L841.24 781.59L841.25 781.53L841.49 780.59L841.51 780.52L841.75 779.53L841.77 779.43L841.98 778.47L842 778.36L842.23 777.23L842.26 777.11L842.49 775.9L842.5 775.85L842.75 774.5L842.77 774.36L842.98 773.16L843 773.03L843.24 771.64L843.26 771.5L843.5 770.06L843.5 770.01L843.75 768.49L843.75 768.45L843.99 766.95L844.01 766.8L844.24 765.28L844.27 765.13L844.48 763.75L844.5 763.59L844.74 762.06L844.75 761.97L845 760.37L845.02 760.22L845.23 758.84L845.26 758.69L845.49 757.19L845.51 757.04L845.73 755.71L845.75 755.56L846 754.05L846.01 753.97L846.25 752.57L846.27 752.43L846.48 751.21L846.51 751.07L846.74 749.76L846.76 749.66L846.98 748.51L847 748.39L847.24 747.19L847.26 747.09L847.48 746.05L847.5 745.98L847.74 744.94L847.76 744.84L847.98 743.98L848 743.88L848.25 742.97L848.26 742.93L848.5 742.14L848.52 742.07L848.74 741.45L848.76 741.39L848.98 740.85L849 740.79L849.24 740.3L849.25 740.27L849.49 739.87L849.5 739.87L849.74 739.58L849.76 739.56L849.98 739.4L850 739.38L850.24 739.32L850.26 739.32L850.27 739.32L850.48 739.36L850.5 739.36L850.75 739.52L850.77 739.55L850.99 739.79L851.01 739.82L851.23 740.16L851.25 740.2L851.49 740.69L851.5 740.72L851.75 741.32L851.76 741.35L852 742.05L852.02 742.13L852.24 742.86L852.26 742.94L852.48 743.75L852.5 743.85L852.75 744.84L852.75 744.86L852.99 745.94L853.01 746.04L853.23 747.1L853.25 747.21L853.5 748.45L853.51 748.54L853.74 749.75L853.76 749.84L854 751.2L854.01 751.25L854.24 752.61L854.25 752.67L854.49 754.14L854.52 754.28L854.74 755.63L854.76 755.78L854.98 757.15L855 757.3L855.25 758.85L855.27 759.01L855.49 760.41L855.52 760.56L855.74 761.97L855.76 762.12L855.98 763.52L856 763.68L856.25 765.22L856.25 765.23L856.49 766.76L856.52 766.91L856.74 768.28L856.76 768.43L856.98 769.77L857.01 769.92L857.23 771.24L857.25 771.37L857.49 772.79L857.5 772.82L857.75 774.23L857.77 774.37L857.99 775.61L858.02 775.75L858.24 776.97L858.26 777.07L858.49 778.29L858.5 778.36L858.74 779.63L858.76 779.72L858.98 780.87L859 780.99L859.23 782.11L859.25 782.23L859.47 783.34L859.5 783.46L859.75 784.67L859.77 784.79L859.99 785.87L860.02 785.99L860.24 787.06L860.27 787.18L860.49 788.24L860.51 788.33L860.74 789.42L860.75 789.47L860.99 790.61L861.01 790.71L861.24 791.78L861.26 791.9L861.49 792.97L861.51 793.08L861.74 794.16L861.76 794.26L862 795.43L862.01 795.49L862.24 796.61L862.26 796.72L862.49 797.83L862.51 797.96L862.74 799.09L862.76 799.21L862.99 800.36L863 800.44L863.24 801.68L863.26 801.78L863.49 802.95L863.51 803.08L863.74 804.27L863.76 804.4L863.99 805.6L864.01 805.69L864.25 806.98L864.27 807.08L864.49 808.3L864.52 808.44L864.75 809.66L864.77 809.79L865 811.02L865.01 811.09L865.23 812.24L865.25 812.37L865.49 813.67L865.5 813.72L865.74 814.94L865.76 815.05L865.98 816.23L866.01 816.36L866.24 817.52L866.26 817.62L866.49 818.77L866.5 818.81L866.75 819.99L866.77 820.1L866.98 821.07L867 821.15L867.23 822.16L867.25 822.26L867.48 823.21L867.5 823.3L867.75 824.24L867.76 824.3L867.99 825.13L868.02 825.21L868.25 825.97L868.27 826.03L868.48 826.65L868.5 826.72L868.73 827.33L868.75 827.37L868.99 827.92L869.01 827.97L869.24 828.4L869.27 828.45L869.48 828.76L869.5 828.79L869.73 829.06L869.76 829.08L870 829.27L870.01 829.27L870.25 829.36L870.27 829.36L870.37 829.37L870.48 829.36L870.5 829.36L870.73 829.27L870.76 829.25L870.99 829.08L871 829.07L871.24 828.8L871.25 828.8L871.48 828.46L871.51 828.42L871.74 828.01L871.77 827.96L872 827.47L872.01 827.45L872.25 826.88L872.26 826.86L872.49 826.24L872.52 826.17L872.75 825.49L872.77 825.43L872.98 824.77L873.01 824.68L873.24 823.91L873.25 823.87L873.49 823.02L873.5 823L873.74 822.14L873.76 822.05L874 821.16L874.02 821.08L874.23 820.24L874.26 820.14L874.49 819.2L874.5 819.17L874.74 818.19L874.75 818.14L874.99 817.18L875.01 817.07L875.25 816.09L875.26 816.03L875.48 815.12L875.5 815.03L875.75 814.03L875.77 813.92L875.99 813.03L876.01 812.95L876.24 811.99L876.27 811.88L876.48 811.03L876.51 810.93L876.74 809.99L876.75 809.95L876.99 809.01L877 808.96L877.24 808.06L877.27 807.96L877.48 807.18L877.5 807.08L877.74 806.23L877.76 806.18L878 805.33L878.01 805.3L878.24 804.5L878.27 804.41L878.48 803.72L878.51 803.64L878.75 802.89L878.76 802.84L878.98 802.17L879 802.11L879.25 801.4L879.28 801.32L879.49 800.74L879.51 800.66L879.73 800.1L879.75 800.03L879.99 799.43L880.01 799.39L880.25 798.81L880.26 798.79L880.5 798.23L880.52 798.17L880.74 797.71L880.76 797.65L880.98 797.2L881 797.15L881.24 796.66L881.25 796.64L881.49 796.18L881.51 796.15L881.74 795.73L881.75 795.7L881.99 795.28L882.02 795.23L882.23 794.86L882.26 794.81L882.47 794.45L882.5 794.41L882.74 794.01L882.77 793.97L882.98 793.63L883.01 793.58L883.22 793.24L883.25 793.2L883.49 792.82L883.5 792.8L883.75 792.42L883.76 792.4L883.99 792.04L884 792.02L884.25 791.63L884.27 791.6L884.49 791.25L884.51 791.21L884.73 790.85L884.75 790.82L884.99 790.43L885 790.41L885.24 790L885.27 789.96L885.49 789.59L885.51 789.55L885.73 789.17L885.76 789.13L886 788.71L886 788.7L886.25 788.26L886.27 788.21L886.49 787.82L886.52 787.77L886.74 787.37L886.76 787.32L886.98 786.92L887 786.88L887.24 786.43L887.25 786.41L887.5 785.96L887.52 785.91L887.74 785.5L887.77 785.46L887.99 785.05L888.01 785.01L888.25 784.57L888.26 784.55L888.49 784.14L888.51 784.11L888.73 783.71L888.75 783.67L888.97 783.3L889 783.25L889.25 782.84L889.25 782.83L889.49 782.44L889.52 782.4L889.74 782.07L889.77 782.03L889.99 781.72L890.01 781.68L890.23 781.38L890.26 781.35L890.48 781.07L890.5 781.05L890.74 780.78L890.76 780.76L890.98 780.53L891.01 780.51L891.23 780.31L891.25 780.29L891.47 780.12L891.5 780.1L891.75 779.94L891.75 779.94L891.99 779.82L892 779.81L892.25 779.72L892.27 779.71L892.5 779.66L892.51 779.66L892.75 779.63L892.75 779.63L892.83 779.63L893 779.64L893.02 779.64L893.25 779.67L893.27 779.68L893.5 779.74L893.51 779.75L893.75 779.84L893.76 779.85L894 779.97L894.02 779.99L894.25 780.12L894.28 780.14L894.5 780.3L894.52 780.31L894.72 780.47L894.75 780.49L894.97 780.68L895 780.71L895.24 780.92L895.25 780.93L895.48 781.15L895.5 781.17L895.73 781.38L895.76 781.41L895.98 781.62L896.01 781.65L896.25 781.88L896.26 781.89L896.49 782.1L896.51 782.12L896.74 782.32L896.77 782.34L896.99 782.52L897.01 782.53L897.24 782.7L897.25 782.7L897.5 782.85L897.52 782.86L897.74 782.96L897.75 782.96L897.98 783.04L898 783.04L898.23 783.08L898.26 783.08L898.34 783.08L898.48 783.07L898.5 783.07L898.74 783.01L898.77 783L898.99 782.9L899.02 782.88L899.25 782.73L899.26 782.71L899.47 782.52L899.5 782.49L899.75 782.21L899.76 782.19L899.99 781.86L900.01 781.82L900.24 781.43L900.27 781.38L900.5 780.93L900.51 780.9L900.72 780.41L900.75 780.35L900.99 779.74L901.01 779.69L901.24 779.05L901.27 778.97L901.49 778.26L901.51 778.19L901.72 777.49L901.75 777.39L902 776.49L902.01 776.45L902.24 775.55L902.26 775.44L902.49 774.48L902.52 774.37L902.72 773.47L902.75 773.35L902.98 772.28L903 772.18L903.24 771L903.27 770.88L903.5 769.71L903.52 769.57L903.73 768.5L903.76 768.35L903.99 767.09L904.01 766.97L904.25 765.61L904.27 765.47L904.49 764.22L904.5 764.13L904.73 762.77L904.76 762.6L904.99 761.21L905.01 761.1L905.23 759.79L905.25 759.62L905.49 758.12L905.51 758L905.75 756.55L905.77 756.37L905.98 755.09L906.01 754.91L906.24 753.44L906.26 753.31L906.5 751.78L906.5 751.77L906.74 750.24L906.76 750.12L906.99 748.65L907.02 748.47L907.22 747.19L907.25 747.01L907.49 745.56L907.5 745.45L907.75 743.95L907.78 743.77L907.99 742.5L908.01 742.36L908.24 740.97L908.27 740.82L908.48 739.61L908.51 739.44L908.74 738.1L908.75 738.04L908.99 736.7L909 736.64L909.24 735.37L909.27 735.22L909.47 734.12L909.5 733.99L909.73 732.81L909.76 732.7L910 731.52L910.03 731.38L910.24 730.4L910.26 730.29L910.5 729.25L910.52 729.15L910.73 728.26L910.76 728.14L911 727.19L911 727.17L911.24 726.27L911.26 726.2L911.5 725.37L911.52 725.28L911.73 724.6L911.76 724.51L912 723.79L912.01 723.77L912.25 723.1L912.26 723.06L912.49 722.5L912.5 722.47L912.74 721.94L912.77 721.88L912.97 721.47L913 721.42L913.24 721.01L913.25 720.99L913.49 720.64L913.51 720.62L913.74 720.34L913.77 720.31L913.98 720.12L914.01 720.1L914.22 719.96L914.25 719.94L914.49 719.85L914.5 719.84L914.74 719.8L914.76 719.8L914.78 719.8L914.99 719.83L915.02 719.83L915.23 719.91L915.26 719.92L915.47 720.04L915.5 720.06L915.75 720.26L915.77 720.28L915.99 720.51L916.01 720.53L916.25 720.83L916.27 720.86L916.49 721.18L916.51 721.22L916.73 721.58L916.75 721.62L917 722.09L917.03 722.15L917.24 722.58L917.27 722.65L917.48 723.12L917.51 723.19L917.75 723.77L917.76 723.79L918 724.42L918.02 724.48L918.24 725.08L918.26 725.14L918.48 725.78L918.5 725.85L918.74 726.58L918.76 726.65L918.98 727.36L919 727.42L919.24 728.23L919.25 728.26L919.5 729.1L919.52 729.2L919.74 729.97L919.77 730.08L919.98 730.87L920.01 730.97L920.25 731.9L920.25 731.92L920.5 732.88L920.53 733L920.74 733.86L920.77 733.98L920.98 734.87L921.01 735L921.22 735.9L921.25 736.03L921.5 737.1L921.53 737.23L921.74 738.18L921.77 738.32L921.98 739.3L922.02 739.44L922.23 740.43L922.26 740.57L922.47 741.59L922.5 741.72L922.75 742.92L922.78 743.07L922.99 744.13L923.02 744.28L923.24 745.36L923.26 745.5L923.48 746.62L923.5 746.74L923.75 748L923.76 748.06L923.99 749.29L924 749.37L924.25 750.71L924.27 750.82L924.49 752.07L924.51 752.16L924.74 753.45L924.75 753.52L924.99 754.9L925.02 755.04L925.23 756.31L925.26 756.48L925.48 757.76L925.51 757.94L925.72 759.24L925.75 759.43L926 760.92L926 760.95L926.25 762.49L926.28 762.68L926.5 764.06L926.52 764.21L926.74 765.65L926.76 765.77L926.99 767.27L927 767.35L927.24 768.95L927.27 769.12L927.49 770.58L927.52 770.79L927.73 772.27L927.77 772.48L927.98 773.98L928.01 774.15L928.25 775.83L928.26 775.93L928.49 777.53L928.51 777.68L928.73 779.25L928.76 779.45L928.98 781.01L929.01 781.24L929.23 782.81L929.25 783.01L929.49 784.76L929.51 784.86L929.74 786.52L929.76 786.68L929.98 788.29L930.01 788.51L930.23 790.12L930.26 790.35L930.48 791.96L930.5 792.13L930.74 793.91L930.76 794.03L930.98 795.68L931.01 795.87L931.23 797.48L931.26 797.71L931.48 799.3L931.5 799.49L931.75 801.23L931.76 801.34L931.99 802.96L932.01 803.14L932.23 804.7L932.26 804.93L932.48 806.47L932.51 806.64L932.74 808.21L932.75 808.31L932.99 809.94L933.02 810.14L933.24 811.61L933.27 811.82L933.49 813.26L933.51 813.39L933.75 814.88L933.76 814.93L934 816.44L934 816.45L934.24 817.9L934.25 817.99L934.48 819.33L934.51 819.48L934.73 820.75L934.76 820.93L934.98 822.16L935 822.27L935.24 823.55L935.27 823.68L935.49 824.81L935.52 824.97L935.74 826.06L935.77 826.17L936 827.25L936.01 827.29L936.25 828.37L936.25 828.39L936.49 829.39L936.51 829.47L936.73 830.36L936.76 830.48L936.99 831.33L937.01 831.42L937.24 832.23L937.25 832.27L937.5 833.07L937.53 833.17L937.74 833.8L937.75 833.85L937.98 834.49L938.01 834.57L938.23 835.15L938.26 835.21L938.49 835.76L938.5 835.78L938.75 836.3L938.78 836.37L938.98 836.75L939 836.79L939.23 837.16L939.26 837.21L939.49 837.54L939.5 837.56L939.75 837.85L939.78 837.89L939.99 838.1L940 838.11L940.23 838.29L940.26 838.31L940.49 838.44L940.51 838.46L940.74 838.55L940.75 838.55L940.99 838.6L941 838.6L941.13 838.6L941.23 838.6L941.26 838.6L941.49 838.56L941.51 838.55L941.75 838.47L941.76 838.46L942 838.34L942.01 838.33L942.24 838.17L942.27 838.15L942.49 837.96L942.52 837.94L942.72 837.74L942.75 837.7L942.98 837.45L943 837.42L943.24 837.11L943.27 837.07L943.48 836.78L943.5 836.75L943.73 836.41L943.76 836.36L943.99 835.98L944.01 835.95L944.25 835.53L944.25 835.53L944.49 835.09L944.51 835.04L944.74 834.6L944.77 834.54L944.97 834.13L945 834.06L945.23 833.58L945.25 833.53L945.49 833L945.53 832.93L945.74 832.45L945.76 832.41L945.99 831.87L946.02 831.8L946.25 831.24L946.26 831.22L946.48 830.68L946.5 830.63L946.74 830.02L946.77 829.94L946.98 829.41L947 829.35L947.24 828.76L947.26 828.68L947.5 828.07L947.5 828.05L947.75 827.41L947.76 827.37L947.99 826.75L948.03 826.66L948.23 826.12L948.26 826.04L948.49 825.42L948.51 825.36L948.72 824.79L948.75 824.71L948.99 824.06L949.02 823.98L949.23 823.4L949.25 823.35L949.48 822.73L949.51 822.64L949.75 822.01L949.76 821.99L950 821.34L950.01 821.29L950.25 820.67L950.28 820.59L950.48 820.05L950.51 819.97L950.75 819.35L950.76 819.31L950.98 818.75L951 818.69L951.25 818.06L951.28 817.97L951.48 817.45L951.51 817.38L951.75 816.79L951.77 816.74L951.98 816.22L952.01 816.15L952.25 815.56L952.28 815.48L952.49 814.99L952.52 814.93L952.73 814.42L952.75 814.38L952.98 813.84L953.01 813.78L953.22 813.31L953.25 813.24L953.49 812.71L953.52 812.65L953.74 812.2L953.76 812.15L953.99 811.67L954.02 811.61L954.23 811.19L954.26 811.13L954.5 810.66L954.5 810.66L954.74 810.2L954.77 810.15L954.98 809.76L955 809.72L955.24 809.31L955.26 809.26L955.47 808.9L955.5 808.85L955.75 808.46L955.78 808.41L955.99 808.08L956.01 808.04L956.23 807.72L956.25 807.68L956.49 807.34L956.51 807.31L956.73 807.02L956.75 806.99L957 806.67L957.03 806.63L957.23 806.38L957.27 806.34L957.47 806.1L957.51 806.07L957.74 805.81L957.76 805.8L958 805.55L958.02 805.53L958.24 805.32L958.25 805.31L958.49 805.1L958.52 805.08L958.73 804.91L958.76 804.88L958.97 804.73L959 804.7L959.24 804.54L959.28 804.52L959.48 804.39L959.52 804.37L959.73 804.26L959.76 804.24L960 804.12L960.01 804.12L960.25 804.01L960.27 804L960.49 803.92L960.51 803.91L960.73 803.84L960.75 803.84L960.99 803.77L961.01 803.77L961.23 803.72L961.25 803.71L961.49 803.67L961.51 803.67L961.75 803.64L961.78 803.64L961.99 803.62L962.02 803.62L962.23 803.61L962.26 803.61L962.46 803.6L962.47 803.6L962.5 803.6L962.75 803.61L962.78 803.61L962.99 803.62L963.02 803.62L963.23 803.64L963.26 803.64L963.47 803.66L963.5 803.67L963.75 803.7L963.78 803.7L963.99 803.73L964.03 803.74L964.23 803.77L964.27 803.77L964.48 803.8L964.51 803.81L964.72 803.84L964.75 803.85L965 803.89L965.03 803.89L965.24 803.93L965.27 803.93L965.48 803.96L965.51 803.97L965.73 804L965.76 804L966 804.03L966.01 804.03L966.24 804.06L966.25 804.06L966.49 804.08L966.52 804.08L966.74 804.09L966.76 804.09L966.98 804.1L967 804.1L967.04 804.1L967.24 804.09L967.26 804.09L967.48 804.08L967.51 804.08L967.73 804.06L967.75 804.06L968 804.02L968.01 804.02L968.25 803.97L968.28 803.97L968.49 803.92L968.52 803.91L968.73 803.84L968.77 803.83L968.98 803.76L969.01 803.74L969.23 803.65L969.25 803.64L969.49 803.52L969.51 803.51L969.74 803.39L969.75 803.38L969.98 803.24L970 803.22L970.25 803.04L970.26 803.04L970.5 802.85L970.5 802.85L970.74 802.64L970.78 802.6L970.99 802.4L971.02 802.37L971.24 802.15L971.26 802.12L971.49 801.87L971.5 801.85L971.75 801.56L971.77 801.53L971.99 801.25L972.02 801.21L972.23 800.91L972.27 800.86L972.48 800.54L972.51 800.49L972.73 800.15L972.75 800.11L972.99 799.71L973.01 799.68L973.23 799.28L973.26 799.23L973.47 798.84L973.51 798.77L973.72 798.35L973.76 798.28L974 797.78L974.01 797.76L974.24 797.26L974.26 797.22L974.48 796.72L974.51 796.65L974.72 796.14L974.76 796.06L974.97 795.53L975 795.46L975.24 794.84L975.26 794.8L975.48 794.2L975.51 794.13L975.73 793.53L975.76 793.43L975.98 792.82L976.01 792.73L976.25 792.01L976.26 791.97L976.49 791.28L976.52 791.2L976.73 790.52L976.77 790.4L976.98 789.7L977.01 789.6L977.23 788.86L977.25 788.79L977.49 787.96L977.52 787.86L977.74 787.1L977.78 786.97L977.99 786.19L978.02 786.09L978.24 785.25L978.26 785.19L978.5 784.29L978.5 784.28L978.74 783.34L978.75 783.3L978.98 782.38L979 782.3L979.22 781.41L979.26 781.27L979.47 780.37L979.5 780.24L979.75 779.22L979.76 779.14L979.99 778.19L980.02 778.05L980.24 777.1L980.27 776.96L980.49 775.97L980.51 775.89L980.75 774.82L980.75 774.8L980.99 773.7L981 773.66L981.23 772.58L981.25 772.47L981.47 771.44L981.51 771.27L981.73 770.23L981.76 770.1L982 768.94L982.02 768.82L982.24 767.76L982.28 767.58L982.5 766.5L982.52 766.38L982.72 765.38L982.75 765.22L982.97 764.12L983 763.97L983.24 762.75L983.26 762.64L983.48 761.52L983.52 761.33L983.74 760.21L983.77 760.08L984 758.88L984.01 758.83L984.25 757.58L984.26 757.55L984.49 756.33L984.51 756.21L984.73 755.06L984.77 754.86L984.99 753.71L985.01 753.6L985.25 752.36L985.25 752.33L985.49 751.07L985.51 751L985.74 749.8L985.77 749.64L985.99 748.48L986.02 748.32L986.25 747.13L986.26 747.06L986.47 745.97L986.5 745.8L986.74 744.54L986.76 744.43L986.99 743.28L987.02 743.08L987.24 741.94L987.26 741.84L987.47 740.8L987.5 740.61L987.75 739.38L987.76 739.29L987.99 738.16L988.02 737.98L988.25 736.87L988.27 736.76L988.47 735.77L988.51 735.58L988.73 734.5L988.75 734.4L988.99 733.24L989.03 733.07L989.23 732.1L989.25 732.01L989.48 730.97L989.51 730.8L989.74 729.77L989.76 729.69L990 728.6L990.04 728.44L990.24 727.55L990.26 727.46L990.48 726.5L990.52 726.35L990.75 725.41L990.76 725.35L990.97 724.5L991 724.37L991.24 723.42L991.27 723.32L991.5 722.47L991.52 722.36L991.73 721.62L991.76 721.51L991.98 720.71L992.01 720.63L992.25 719.82L992.28 719.7L992.49 719.04L992.51 718.98L992.74 718.29L992.77 718.19L992.97 717.6L993 717.53L993.23 716.91L993.25 716.84L993.49 716.23L993.53 716.15L993.74 715.66L993.75 715.62L993.98 715.13L994.02 715.05L994.24 714.6L994.26 714.58L994.47 714.2L994.5 714.15L994.74 713.78L994.77 713.73L994.98 713.45L995 713.42L995.23 713.16L995.26 713.13L995.49 712.91L995.5 712.91L995.75 712.74L995.76 712.73L995.99 712.62L996.03 712.61L996.23 712.56L996.25 712.56L996.39 712.55L996.48 712.56L996.51 712.56L996.75 712.61L996.75 712.61L996.99 712.73L997.02 712.74L997.24 712.9L997.27 712.93L997.47 713.12L997.51 713.16L997.74 713.43L997.76 713.45L998 713.79L998.01 713.81L998.24 714.19L998.28 714.26L998.48 714.65L998.5 714.7L998.73 715.19L998.76 715.25L998.96 715.74L999 715.83L999.24 716.47L999.27 716.54L999.48 717.16L999.5 717.2L999.73 717.92L999.77 718.03L999.97 718.69L1000 718.81L1000.25 719.69L1000.27 719.77L1000.49 720.6L1000.5 720.64L1000.73 721.56L1000.77 721.72L1000.97 722.57L1001 722.7L1001.23 723.72L1001.25 723.81L1001.49 724.93L1001.5 724.96L1001.74 726.09L1001.77 726.27L1001.98 727.29L1002 727.43L1002.24 728.63L1002.26 728.75L1002.47 729.88L1002.5 730.05L1002.74 731.38L1002.78 731.59L1002.98 732.76L1003.01 732.92L1003.24 734.28L1003.26 734.41L1003.48 735.68L1003.5 735.86L1003.75 737.35L1003.79 737.59L1003.99 738.85L1004.02 739.06L1004.23 740.4L1004.25 740.55L1004.49 742.07L1004.51 742.23L1004.72 743.62L1004.75 743.83L1004.99 745.45L1005.03 745.72L1005.23 747.1L1005.26 747.31L1005.5 748.93L1005.51 749.04L1005.73 750.56L1005.76 750.72L1006 752.42L1006.01 752.48L1006.24 754.15L1006.28 754.41L1006.48 755.85L1006.51 756.1L1006.72 757.58L1006.75 757.79L1006.98 759.49L1007 759.61L1007.24 761.36L1007.26 761.48L1007.49 763.19L1007.52 763.41L1007.73 764.9L1007.77 765.16L1007.97 766.62L1008.01 766.9L1008.25 768.67L1008.28 768.9L1008.49 770.42L1008.52 770.62L1008.73 772.17L1008.75 772.33L1008.99 774.04L1009.01 774.21L1009.23 775.74L1009.25 775.94L1009.49 777.67L1009.5 777.72L1009.74 779.41L1009.78 779.67L1009.98 781.1L1010.01 781.36L1010.22 782.79L1010.25 783.03L1010.49 784.69L1010.5 784.76L1010.74 786.42L1010.77 786.6L1010.98 788.08L1011 788.23L1011.24 789.84L1011.26 789.99L1011.48 791.44L1011.5 791.6L1011.75 793.2L1011.76 793.28L1012 794.84L1012.03 795.05L1012.23 796.39L1012.27 796.61L1012.47 797.91L1012.51 798.14L1012.71 799.42L1012.75 799.66L1012.99 801.16L1013.03 801.4L1013.23 802.63L1013.27 802.86L1013.47 804.09L1013.51 804.29L1013.75 805.71L1013.76 805.75L1014 807.16L1014.03 807.33L1014.24 808.53L1014.27 808.7L1014.48 809.89L1014.51 810.05L1014.75 811.37L1014.76 811.44L1014.99 812.66L1015 812.74L1015.24 814.01L1015.27 814.15L1015.48 815.26L1015.51 815.39L1015.73 816.49L1015.75 816.61L1015.99 817.8L1016.01 817.88L1016.25 819.05L1016.27 819.16L1016.49 820.19L1016.51 820.3L1016.73 821.3L1016.76 821.41L1017 822.5L1017.01 822.57L1017.24 823.56L1017.25 823.62L1017.49 824.65L1017.52 824.76L1017.74 825.65L1017.76 825.76L1017.98 826.62L1018.01 826.73L1018.25 827.68L1018.26 827.72L1018.49 828.6L1018.5 828.63L1018.74 829.52L1018.77 829.64L1018.98 830.37L1019.02 830.49L1019.22 831.2L1019.26 831.33L1019.46 832L1019.5 832.13L1019.75 832.91L1019.79 833.03L1019.99 833.65L1020.03 833.77L1020.23 834.38L1020.27 834.48L1020.48 835.07L1020.51 835.16L1020.72 835.73L1020.75 835.81L1020.99 836.44L1021.01 836.47L1021.23 837.04L1021.25 837.08L1021.5 837.66L1021.51 837.7L1021.74 838.21L1021.76 838.24L1022 838.76L1022.03 838.82L1022.24 839.24L1022.27 839.31L1022.48 839.7L1022.52 839.77L1022.72 840.14L1022.76 840.21L1022.97 840.56L1023 840.61L1023.24 840.99L1023.25 841.01L1023.48 841.35L1023.5 841.37L1023.75 841.7L1023.77 841.73L1023.99 842.01L1024.01 842.03L1024.25 842.31L1024.28 842.34L1024.49 842.56L1024.53 842.6L1024.73 842.79L1024.77 842.83L1024.98 843L1025.01 843.03L1025.23 843.19L1025.25 843.21L1025.49 843.37L1025.51 843.38L1025.74 843.51L1025.76 843.52L1025.98 843.62L1026.01 843.64L1026.22 843.72L1026.26 843.74L1026.46 843.8L1026.5 843.81L1026.74 843.86L1026.75 843.87L1026.98 843.9L1027 843.9L1027.22 843.92L1027.25 843.92L1027.34 843.92L1027.5 843.92L1027.5 843.92L1027.75 843.9L1027.79 843.89L1028 843.86L1028.03 843.86L1028.25 843.81L1028.27 843.8L1028.49 843.74L1028.51 843.74L1028.74 843.65L1028.75 843.65L1028.99 843.56L1029.03 843.54L1029.24 843.44L1029.27 843.43L1029.49 843.31L1029.51 843.3L1029.74 843.17L1029.76 843.17L1030 843.02L1030.04 842.99L1030.24 842.86L1030.28 842.83L1030.5 842.68L1030.52 842.66L1030.75 842.49L1030.76 842.48L1031 842.3L1031 842.29L1031.25 842.09L1031.28 842.06L1031.48 841.89L1031.5 841.87L1031.73 841.67L1031.75 841.65L1031.97 841.45L1032 841.42L1032.25 841.19L1032.25 841.18L1032.49 840.95L1032.51 840.94L1032.73 840.71L1032.76 840.69L1032.97 840.47L1033.01 840.43L1033.22 840.21L1033.25 840.18L1033.49 839.93L1033.52 839.9L1033.74 839.67L1033.77 839.63L1033.98 839.41L1034.02 839.37L1034.23 839.13L1034.26 839.1L1034.49 838.85L1034.5 838.84L1034.74 838.57L1034.78 838.53L1034.99 838.29L1035.02 838.26L1035.25 838.01L1035.26 837.99L1035.46 837.77L1035.5 837.73L1035.75 837.45L1035.76 837.44L1035.99 837.19L1036.01 837.16L1036.23 836.92L1036.26 836.88L1036.48 836.64L1036.51 836.61L1036.73 836.36L1036.75 836.34L1036.99 836.08L1037.03 836.04L1037.24 835.81L1037.27 835.78L1037.5 835.54L1037.51 835.52L1037.72 835.31L1037.75 835.27L1038 835.01L1038.01 835L1038.24 834.76L1038.26 834.74L1038.48 834.52L1038.52 834.48L1038.73 834.27L1038.76 834.24L1038.99 834.02L1039 834L1039.25 833.77L1039.28 833.74L1039.48 833.55L1039.5 833.53L1039.73 833.33L1039.76 833.3L1039.98 833.1L1040.01 833.08L1040.25 832.87L1040.28 832.84L1040.49 832.66L1040.53 832.63L1040.75 832.45L1040.77 832.43L1040.97 832.27L1041.01 832.25L1041.22 832.08L1041.25 832.06L1041.49 831.88L1041.52 831.86L1041.74 831.71L1041.78 831.68L1042 831.53L1042.02 831.52L1042.22 831.38L1042.25 831.36L1042.47 831.23L1042.5 831.21L1042.74 831.06L1042.77 831.04L1042.99 830.92L1043.02 830.9L1043.25 830.78L1043.26 830.77L1043.46 830.67L1043.5 830.65L1043.75 830.53L1043.77 830.52L1043.99 830.42L1044.03 830.4L1044.24 830.31L1044.27 830.3L1044.47 830.22L1044.5 830.21L1044.72 830.13L1044.75 830.11L1044.99 830.03L1045.02 830.02L1045.24 829.95L1045.27 829.94L1045.47 829.88L1045.5 829.87L1045.72 829.81L1045.76 829.8L1046 829.74L1046.02 829.73L1046.24 829.68L1046.28 829.67L1046.48 829.63L1046.5 829.63L1046.72 829.59L1046.76 829.58L1046.98 829.54L1047 829.54L1047.25 829.5L1047.28 829.49L1047.48 829.46L1047.51 829.46L1047.73 829.43L1047.77 829.43L1047.99 829.4L1048.01 829.4L1048.25 829.38L1048.25 829.38L1048.49 829.35L1048.52 829.35L1048.73 829.33L1048.77 829.33L1049 829.31L1049.01 829.31L1049.22 829.29L1049.25 829.29L1049.49 829.27L1049.52 829.27L1049.74 829.25L1049.78 829.25L1049.98 829.23L1050.01 829.23L1050.23 829.21L1050.26 829.21L1050.49 829.19L1050.5 829.19L1050.74 829.17L1050.76 829.17L1050.98 829.14L1051.02 829.14L1051.24 829.12L1051.26 829.11L1051.46 829.09L1051.5 829.08L1051.75 829.05L1051.77 829.05L1051.99 829.01L1052.03 829.01L1052.23 828.97L1052.26 828.97L1052.48 828.92L1052.51 828.92L1052.75 828.87L1052.75 828.87L1052.99 828.81L1053.01 828.81L1053.24 828.75L1053.27 828.74L1053.47 828.68L1053.5 828.68L1053.72 828.61L1053.76 828.6L1054 828.52L1054.04 828.5L1054.24 828.43L1054.26 828.42L1054.48 828.34L1054.52 828.32L1054.75 828.23L1054.76 828.22L1054.97 828.13L1055 828.11L1055.24 827.99L1055.28 827.97L1055.48 827.87L1055.51 827.86L1055.73 827.74L1055.77 827.71L1056 827.58L1056.01 827.57L1056.25 827.42L1056.27 827.41L1056.49 827.27L1056.53 827.24L1056.73 827.1L1056.76 827.08L1056.98 826.92L1057.01 826.9L1057.21 826.75L1057.25 826.72L1057.49 826.52L1057.52 826.5L1057.74 826.31L1057.78 826.29L1057.98 826.11L1058.01 826.08L1058.24 825.88L1058.26 825.86L1058.46 825.67L1058.5 825.63L1058.74 825.4L1058.78 825.36L1058.98 825.15L1059 825.13L1059.23 824.9L1059.26 824.86L1059.46 824.64L1059.5 824.61L1059.75 824.33L1059.77 824.3L1060 824.04L1060.03 824.01L1060.23 823.77L1060.27 823.72L1060.49 823.45L1060.51 823.43L1060.72 823.17L1060.75 823.13L1060.99 822.82L1061.03 822.77L1061.23 822.51L1061.26 822.47L1061.49 822.17L1061.51 822.13L1061.72 821.86L1061.76 821.8L1062 821.47L1062.04 821.41L1062.24 821.13L1062.26 821.09L1062.49 820.76L1062.52 820.72L1062.72 820.42L1062.76 820.36L1062.99 820.02L1063 820L1063.24 819.63L1063.26 819.6L1063.49 819.25L1063.52 819.2L1063.73 818.88L1063.76 818.82L1063.99 818.46L1064.01 818.43L1064.25 818.04L1064.27 818.01L1064.5 817.64L1064.53 817.58L1064.73 817.25L1064.77 817.18L1065 816.8L1065.01 816.78L1065.23 816.41L1065.25 816.37L1065.49 815.95L1065.5 815.94L1065.74 815.54L1065.78 815.47L1065.98 815.11L1066.01 815.06L1066.24 814.66L1066.26 814.62L1066.47 814.25L1066.5 814.19L1066.74 813.75L1066.78 813.68L1066.98 813.31L1067.02 813.25L1067.25 812.83L1067.26 812.8L1067.48 812.4L1067.5 812.35L1067.75 811.9L1067.75 811.89L1067.99 811.45L1068.03 811.38L1068.23 811L1068.26 810.93L1068.49 810.49L1068.51 810.46L1068.72 810.05L1068.75 810L1068.99 809.53L1069 809.51L1069.23 809.06L1069.27 808.98L1069.47 808.59L1069.51 808.52L1069.74 808.06L1069.76 808.03L1070 807.55L1070.02 807.51L1070.24 807.07L1070.25 807.04L1070.48 806.58L1070.52 806.5L1070.72 806.09L1070.76 806.01L1070.99 805.53L1071 805.52L1071.24 805.02L1071.27 804.96L1071.48 804.52L1071.5 804.47L1071.74 803.99L1071.77 803.93L1071.97 803.49L1072.01 803.42L1072.25 802.9L1072.25 802.9L1072.49 802.38L1072.53 802.3L1072.73 801.86L1072.76 801.79L1073 801.28L1073.01 801.25L1073.23 800.77L1073.25 800.72L1073.49 800.18L1073.51 800.14L1073.74 799.62L1073.78 799.55L1073.98 799.09L1074.02 799L1074.22 798.54L1074.26 798.45L1074.49 797.91L1074.5 797.9L1074.74 797.34L1074.78 797.26L1074.98 796.77L1075.01 796.71L1075.25 796.15L1075.26 796.11L1075.48 795.59L1075.5 795.53L1075.75 794.95L1075.76 794.91L1076 794.34L1076.03 794.27L1076.23 793.76L1076.27 793.67L1076.47 793.18L1076.51 793.08L1076.71 792.57L1076.75 792.47L1076.99 791.87L1077.03 791.76L1077.23 791.25L1077.27 791.16L1077.47 790.64L1077.51 790.55L1077.74 789.94L1077.76 789.91L1078 789.28L1078.03 789.2L1078.24 788.65L1078.26 788.58L1078.48 788.01L1078.5 787.96L1078.74 787.32L1078.76 787.26L1078.97 786.69L1079 786.61L1079.24 785.96L1079.26 785.92L1079.5 785.28L1079.52 785.2L1079.73 784.63L1079.77 784.54L1079.97 783.97L1080.01 783.87L1080.25 783.21L1080.26 783.19L1080.49 782.52L1080.53 782.43L1080.73 781.86L1080.77 781.75L1080.97 781.19L1081.01 781.08L1081.21 780.51L1081.25 780.4L1081.5 779.72L1081.53 779.61L1081.74 779.04L1081.78 778.93L1081.98 778.36L1082.02 778.24L1082.22 777.68L1082.26 777.56L1082.5 776.88L1082.5 776.88L1082.74 776.2L1082.78 776.08L1082.98 775.51L1083.02 775.4L1083.22 774.83L1083.26 774.72L1083.46 774.15L1083.5 774.04L1083.75 773.36L1083.79 773.24L1083.99 772.68L1084.03 772.57L1084.23 772.01L1084.27 771.9L1084.47 771.34L1084.51 771.22L1084.71 770.67L1084.75 770.56L1084.99 769.89L1085.03 769.79L1085.24 769.23L1085.27 769.13L1085.48 768.58L1085.51 768.48L1085.72 767.93L1085.76 767.83L1086 767.19L1086.01 767.17L1086.25 766.53L1086.28 766.45L1086.49 765.91L1086.52 765.83L1086.73 765.29L1086.76 765.22L1086.97 764.68L1087 764.61L1087.24 764.01L1087.26 763.96L1087.48 763.42L1087.51 763.37L1087.75 762.79L1087.77 762.75L1087.99 762.22L1088.01 762.18L1088.25 761.63L1088.28 761.55L1088.49 761.09L1088.52 761.01L1088.73 760.56L1088.77 760.48L1088.97 760.04L1089.01 759.96L1089.21 759.54L1089.25 759.46L1089.5 758.97L1089.53 758.9L1089.74 758.49L1089.78 758.43L1089.98 758.04L1090.02 757.98L1090.23 757.59L1090.26 757.54L1090.47 757.17L1090.5 757.12L1090.74 756.72L1090.77 756.68L1090.98 756.34L1091.01 756.3L1091.22 755.98L1091.25 755.93L1091.46 755.63L1091.5 755.59L1091.75 755.26L1091.79 755.21L1091.99 754.96L1092.03 754.91L1092.23 754.67L1092.27 754.63L1092.48 754.41L1092.51 754.38L1092.72 754.17L1092.75 754.15L1092.99 753.93L1093.02 753.91L1093.23 753.75L1093.26 753.72L1093.47 753.58L1093.51 753.56L1093.72 753.44L1093.76 753.42L1094 753.31L1094 753.31L1094.25 753.22L1094.28 753.21L1094.5 753.15L1094.52 753.15L1094.74 753.12L1094.76 753.12L1094.96 753.11L1094.99 753.11L1095 753.11L1095.24 753.13L1095.28 753.13L1095.48 753.17L1095.52 753.18L1095.73 753.24L1095.77 753.26L1095.98 753.34L1096.01 753.36L1096.25 753.49L1096.27 753.5L1096.49 753.64L1096.52 753.66L1096.73 753.82L1096.77 753.86L1096.97 754.03L1097.01 754.07L1097.22 754.27L1097.25 754.31L1097.49 754.57L1097.51 754.59L1097.74 754.84L1097.76 754.88L1097.98 755.15L1098.01 755.19L1098.22 755.48L1098.26 755.54L1098.46 755.84L1098.5 755.9L1098.74 756.29L1098.76 756.31L1098.98 756.7L1099.01 756.75L1099.22 757.14L1099.26 757.21L1099.46 757.61L1099.5 757.69L1099.75 758.19L1099.76 758.21L1099.99 758.71L1100 758.75L1100.23 759.26L1100.25 759.32L1100.47 759.83L1100.51 759.92L1100.71 760.43L1100.75 760.53L1100.99 761.16L1101.01 761.19L1101.23 761.8L1101.26 761.87L1101.47 762.47L1101.51 762.57L1101.72 763.16L1101.76 763.28L1102 764L1102.01 764.03L1102.24 764.74L1102.26 764.8L1102.48 765.49L1102.51 765.6L1102.72 766.27L1102.76 766.4L1102.96 767.07L1103 767.2L1103.24 768.02L1103.27 768.1L1103.48 768.85L1103.52 768.97L1103.73 769.7L1103.77 769.84L1103.97 770.59L1104.01 770.71L1104.25 771.59L1104.28 771.7L1104.49 772.49L1104.53 772.64L1104.73 773.4L1104.77 773.55L1104.98 774.37L1105.01 774.48L1105.24 775.35L1105.25 775.42L1105.49 776.36L1105.53 776.52L1105.74 777.35L1105.78 777.48L1106 778.36L1106.02 778.45L1106.22 779.26L1106.25 779.39L1106.46 780.24L1106.5 780.4L1106.74 781.39L1106.76 781.46L1106.98 782.39L1107.01 782.51L1107.22 783.39L1107.26 783.56L1107.47 784.41L1107.5 784.56L1107.75 785.57L1107.78 785.69L1107.99 786.58L1108.03 786.75L1108.23 787.62L1108.27 787.76L1108.49 788.69L1108.51 788.77L1108.74 789.76L1108.75 789.79L1108.99 790.8L1109 790.83L1109.23 791.81L1109.26 791.91L1109.47 792.82L1109.51 792.98L1109.72 793.83L1109.76 794L1110 795.01L1110.02 795.11L1110.24 796.01L1110.28 796.17L1110.48 797.02L1110.52 797.17L1110.74 798.08L1110.76 798.16L1111 799.13L1111 799.15L1111.24 800.13L1111.25 800.17L1111.48 801.1L1111.51 801.21L1111.73 802.07L1111.77 802.23L1111.97 803.05L1112.01 803.19L1112.25 804.14L1112.28 804.27L1112.49 805.08L1112.53 805.23L1112.75 806.07L1112.77 806.17L1112.97 806.94L1113 807.06L1113.21 807.85L1113.25 808L1113.49 808.91L1113.52 809L1113.74 809.8L1113.78 809.95L1113.99 810.71L1114.02 810.83L1114.24 811.65L1114.26 811.7L1114.46 812.42L1114.5 812.56L1114.74 813.41L1114.76 813.48L1114.98 814.25L1115.02 814.38L1115.23 815.09L1115.26 815.21L1115.49 815.97L1115.5 816.02L1115.75 816.83L1115.79 816.96L1115.99 817.61L1116.01 817.68L1116.23 818.39L1116.27 818.51L1116.48 819.17L1116.51 819.28L1116.74 819.98L1116.75 820.03L1117 820.78L1117.03 820.89L1117.23 821.49L1117.26 821.56L1117.47 822.2L1117.51 822.32L1117.73 822.93L1117.76 823.02L1118 823.7L1118.04 823.81L1118.25 824.4L1118.28 824.48L1118.48 825.03L1118.51 825.11L1118.72 825.68L1118.76 825.78L1118.98 826.36L1119 826.41L1119.24 827.03L1119.28 827.13L1119.48 827.64L1119.5 827.68L1119.73 828.23L1119.77 828.33L1119.98 828.83L1120.01 828.9L1120.25 829.47L1120.29 829.56L1120.49 830.02L1120.5 830.04L1120.73 830.55L1120.76 830.63L1120.97 831.08L1121.01 831.17L1121.24 831.64L1121.25 831.68L1121.49 832.17L1121.5 832.18L1121.74 832.66L1121.76 832.71L1121.98 833.13L1122.02 833.21L1122.24 833.62L1122.26 833.66L1122.46 834.03L1122.5 834.11L1122.74 834.54L1122.77 834.58L1122.98 834.96L1123.02 835.02L1123.24 835.39L1123.26 835.43L1123.46 835.76L1123.5 835.82L1123.75 836.2L1123.77 836.24L1123.99 836.56L1124.03 836.62L1124.25 836.95L1124.27 836.98L1124.47 837.26L1124.51 837.32L1124.72 837.61L1124.75 837.64L1124.99 837.96L1125.03 838.01L1125.23 838.26L1125.26 838.29L1125.47 838.55L1125.51 838.6L1125.73 838.85L1125.76 838.88L1126 839.14L1126 839.14L1126.24 839.39L1126.27 839.42L1126.48 839.63L1126.52 839.67L1126.75 839.89L1126.76 839.9L1126.96 840.08L1127 840.11L1127.24 840.32L1127.28 840.35L1127.49 840.52L1127.52 840.54L1127.73 840.69L1127.76 840.72L1127.97 840.87L1128.01 840.89L1128.25 841.04L1128.29 841.07L1128.49 841.19L1128.51 841.2L1128.73 841.32L1128.77 841.34L1128.99 841.45L1129.01 841.46L1129.21 841.56L1129.25 841.57L1129.49 841.67L1129.53 841.69L1129.74 841.76L1129.78 841.78L1129.98 841.84L1130.01 841.85L1130.23 841.91L1130.26 841.92L1130.5 841.97L1130.5 841.97L1130.74 842.02L1130.76 842.02L1130.98 842.06L1131.02 842.06L1131.22 842.08L1131.25 842.08L1131.46 842.1L1131.5 842.1L1131.75 842.11L1131.79 842.11L1131.99 842.1L1132 842.1L1132.23 842.09L1132.27 842.09L1132.49 842.07L1132.51 842.06L1132.71 842.04L1132.75 842.03L1132.99 841.99L1133.03 841.98L1133.25 841.94L1133.27 841.93L1133.47 841.89L1133.51 841.88L1133.74 841.82L1133.76 841.81L1134 841.74L1134.01 841.73L1134.24 841.66L1134.28 841.64L1134.5 841.56L1134.52 841.55L1134.72 841.47L1134.76 841.46L1134.98 841.36L1135 841.36L1135.24 841.25L1135.26 841.24L1135.48 841.13L1135.52 841.11L1135.75 841L1135.77 840.99L1135.97 840.89L1136.01 840.87L1136.25 840.73L1136.29 840.71L1136.49 840.6L1136.51 840.58L1136.73 840.45L1136.77 840.43L1136.97 840.31L1137 840.29L1137.22 840.15L1137.25 840.13L1137.49 839.98L1137.53 839.95L1137.74 839.82L1137.77 839.8L1137.99 839.65L1138.02 839.63L1138.22 839.49L1138.26 839.46L1138.48 839.3L1138.5 839.29L1138.74 839.12L1138.75 839.11L1138.98 838.94L1139.02 838.91L1139.25 838.75L1139.26 838.74L1139.47 838.59L1139.5 838.56L1139.75 838.38L1139.79 838.35L1139.99 838.19L1140.02 838.17L1140.24 838L1140.27 837.98L1140.47 837.83L1140.51 837.8L1140.73 837.63L1140.75 837.61L1140.99 837.43L1141.01 837.41L1141.23 837.24L1141.27 837.21L1141.47 837.05L1141.5 837.03L1141.73 836.86L1141.76 836.84L1142 836.65L1142 836.65L1142.24 836.47L1142.28 836.44L1142.48 836.28L1142.5 836.27L1142.72 836.1L1142.76 836.07L1143 835.89L1143 835.89L1143.24 835.71L1143.28 835.68L1143.5 835.52L1143.52 835.5L1143.73 835.35L1143.77 835.32L1144 835.15L1144.01 835.14L1144.25 834.97L1144.27 834.95L1144.5 834.79L1144.53 834.77L1144.73 834.63L1144.77 834.6L1145 834.45L1145.01 834.44L1145.22 834.29L1145.25 834.27L1145.49 834.11L1145.5 834.11L1145.74 833.95L1145.78 833.93L1145.98 833.8L1146 833.78L1146.22 833.64L1146.26 833.62L1146.46 833.49L1146.5 833.47L1146.74 833.32L1146.78 833.3L1146.98 833.18L1147.01 833.16L1147.23 833.03L1147.26 833.02L1147.46 832.9L1147.5 832.88L1147.75 832.75L1147.79 832.73L1147.99 832.62L1148.01 832.6L1148.24 832.49L1148.27 832.47L1148.47 832.37L1148.51 832.35L1148.74 832.23L1148.75 832.23L1148.99 832.12L1149.02 832.1L1149.23 832L1149.25 832L1149.47 831.9L1149.51 831.88L1149.72 831.79L1149.76 831.78L1150 831.68L1150.04 831.66L1150.24 831.58L1150.26 831.57L1150.49 831.48L1150.52 831.47L1150.72 831.4L1150.76 831.38L1151 831.3L1151 831.3L1151.24 831.22L1151.28 831.21L1151.48 831.14L1151.5 831.13L1151.73 831.06L1151.77 831.05L1151.97 831L1152.01 830.98L1152.25 830.92L1152.29 830.91L1152.49 830.85L1152.52 830.84L1152.73 830.79L1152.75 830.79L1152.98 830.73L1153.01 830.73L1153.21 830.68L1153.25 830.67L1153.49 830.62L1153.53 830.61L1153.74 830.57L1153.77 830.57L1154 830.53L1154.02 830.52L1154.23 830.49L1154.26 830.48L1154.46 830.45L1154.5 830.44L1154.74 830.41L1154.78 830.4L1154.98 830.37L1155.02 830.37L1155.22 830.34L1155.25 830.34L1155.48 830.31L1155.5 830.31L1155.75 830.28L1155.76 830.28L1155.99 830.25L1156.03 830.25L1156.23 830.23L1156.27 830.23L1156.47 830.21L1156.51 830.21L1156.74 830.19L1156.75 830.19L1156.99 830.17L1157.02 830.17L1157.23 830.15L1157.25 830.15L1157.48 830.13L1157.51 830.13L1157.72 830.12L1157.76 830.12L1158 830.1L1158.04 830.1L1158.24 830.09L1158.28 830.09L1158.48 830.08L1158.51 830.08L1158.74 830.06L1158.76 830.06L1158.97 830.05L1159 830.05L1159.24 830.04L1159.26 830.04L1159.49 830.02L1159.52 830.02L1159.73 830.01L1159.77 830.01L1159.97 830L1160.01 830L1160.25 829.98L1160.29 829.98L1160.49 829.97L1160.53 829.96L1160.73 829.95L1160.76 829.95L1160.99 829.93L1161.01 829.93L1161.22 829.91L1161.25 829.91L1161.49 829.89L1161.51 829.89L1161.74 829.87L1161.78 829.86L1161.98 829.84L1162.02 829.84L1162.22 829.82L1162.26 829.81L1162.49 829.78L1162.5 829.78L1162.74 829.75L1162.78 829.75L1162.98 829.72L1163.02 829.71L1163.25 829.68L1163.26 829.67L1163.48 829.64L1163.5 829.63L1163.75 829.59L1163.77 829.59L1163.99 829.54L1164 829.54L1164.24 829.49L1164.27 829.48L1164.47 829.44L1164.51 829.43L1164.71 829.38L1164.75 829.37L1164.99 829.31L1165.03 829.3L1165.23 829.24L1165.27 829.23L1165.47 829.17L1165.51 829.16L1165.72 829.1L1165.75 829.09L1166 829.01L1166.04 829L1166.24 828.93L1166.28 828.91L1166.48 828.84L1166.51 828.83L1166.75 828.73L1166.76 828.73L1166.98 828.64L1167 828.63L1167.24 828.53L1167.27 828.51L1167.48 828.42L1167.51 828.41L1167.74 828.3L1167.77 828.29L1167.98 828.18L1168.01 828.17L1168.25 828.04L1168.27 828.03L1168.49 827.91L1168.5 827.9L1168.74 827.77L1168.77 827.76L1168.98 827.64L1169.01 827.61L1169.21 827.49L1169.25 827.47L1169.49 827.32L1169.51 827.31L1169.74 827.15L1169.78 827.13L1169.98 827L1170.02 826.97L1170.22 826.83L1170.26 826.8L1170.46 826.65L1170.5 826.62L1170.74 826.44L1170.78 826.41L1170.98 826.26L1171.02 826.23L1171.22 826.07L1171.26 826.03L1171.46 825.87L1171.5 825.83L1171.75 825.63L1171.75 825.63L1171.99 825.42L1172.03 825.39L1172.23 825.21L1172.27 825.17L1172.47 824.99L1172.51 824.95L1172.71 824.76L1172.75 824.73L1172.99 824.49L1173.03 824.45L1173.23 824.26L1173.27 824.22L1173.47 824.02L1173.51 823.97L1173.72 823.77L1173.76 823.73L1174 823.47L1174 823.47L1174.24 823.21L1174.28 823.17L1174.48 822.95L1174.52 822.91L1174.72 822.69L1174.76 822.64L1174.96 822.41L1175 822.37L1175.24 822.09L1175.26 822.08L1175.49 821.8L1175.52 821.76L1175.73 821.51L1175.77 821.47L1175.97 821.22L1176.01 821.18L1176.25 820.88L1176.27 820.86L1176.49 820.58L1176.51 820.56L1176.73 820.28L1176.75 820.26L1176.99 819.95L1177.01 819.92L1177.23 819.64L1177.25 819.61L1177.49 819.29L1177.53 819.25L1177.74 818.97L1177.77 818.93L1177.98 818.65L1178.01 818.61L1178.22 818.32L1178.25 818.28L1178.49 817.95L1178.5 817.94L1178.74 817.6L1178.78 817.55L1178.98 817.27L1179.02 817.21L1179.22 816.93L1179.26 816.87L1179.46 816.59L1179.5 816.53L1179.75 816.18L1179.75 816.17L1179.99 815.83L1180.03 815.78L1180.24 815.48L1180.27 815.43L1180.48 815.12L1180.51 815.08L1180.72 814.77L1180.75 814.72L1180.99 814.37L1181.02 814.32L1181.23 814.01L1181.26 813.96L1181.47 813.65L1181.5 813.6L1181.75 813.24L1181.76 813.23L1182 812.86L1182.04 812.8L1182.24 812.5L1182.28 812.44L1182.48 812.13L1182.52 812.07L1182.72 811.77L1182.76 811.71L1182.96 811.4L1183 811.34L1183.24 810.97L1183.26 810.94L1183.48 810.6L1183.51 810.57L1183.73 810.23L1183.75 810.2L1183.99 809.82L1184.01 809.8L1184.25 809.43L1184.29 809.37L1184.49 809.06L1184.53 809L1184.73 808.69L1184.77 808.62L1184.97 808.31L1185.01 808.25L1185.21 807.94L1185.25 807.88L1185.49 807.51L1185.52 807.47L1185.74 807.14L1185.76 807.1L1185.98 806.76L1186.01 806.72L1186.22 806.39L1186.25 806.34L1186.49 805.97L1186.5 805.96L1186.74 805.59L1186.78 805.53L1186.98 805.21L1187.02 805.16L1187.23 804.84L1187.26 804.78L1187.47 804.46L1187.5 804.41L1187.75 804.04L1187.78 803.99L1187.99 803.68L1188.03 803.61L1188.23 803.31L1188.27 803.24L1188.47 802.94L1188.51 802.88L1188.71 802.57L1188.75 802.51L1188.99 802.14L1189.01 802.11L1189.23 801.77L1189.26 801.74L1189.47 801.41L1189.5 801.36L1189.72 801.04L1189.75 800.99L1190 800.61L1190.04 800.55L1190.24 800.24L1190.28 800.19L1190.49 799.87L1190.52 799.82L1190.74 799.49L1190.76 799.45L1190.98 799.12L1191 799.09L1191.24 798.72L1191.28 798.66L1191.48 798.36L1191.52 798.3L1191.73 798L1191.77 797.93L1191.97 797.62L1192.01 797.57L1192.25 797.2L1192.28 797.15L1192.49 796.84L1192.53 796.78L1192.73 796.47L1192.77 796.41L1192.97 796.11L1193.01 796.05L1193.21 795.74L1193.25 795.68L1193.49 795.31L1193.52 795.27L1193.74 794.95L1193.77 794.89L1193.98 794.58L1194.02 794.52L1194.22 794.21L1194.26 794.15L1194.46 793.84L1194.5 793.77L1194.74 793.4L1194.77 793.36L1194.98 793.03L1195.02 792.97L1195.22 792.66L1195.26 792.59L1195.46 792.28L1195.5 792.22L1195.75 791.84L1195.77 791.81L1195.99 791.46L1196.02 791.41L1196.23 791.08L1196.27 791.02L1196.47 790.7L1196.51 790.63L1196.71 790.31L1196.75 790.25L1196.99 789.86L1197.02 789.82L1197.23 789.47L1197.27 789.41L1197.47 789.08L1197.51 789.01L1197.72 788.68L1197.76 788.62L1198 788.22L1198.02 788.18L1198.24 787.82L1198.27 787.76L1198.48 787.42L1198.52 787.35L1198.72 787.01L1198.76 786.95L1198.96 786.6L1199 786.54L1199.24 786.13L1199.28 786.06L1199.48 785.71L1199.52 785.64L1199.73 785.29L1199.77 785.22L1199.97 784.86L1200.01 784.8L1200.25 784.38L1200.29 784.31L1200.49 783.95L1200.53 783.88L1200.73 783.52L1200.77 783.45L1200.98 783.07L1201.01 783.01L1201.23 782.61L1201.25 782.57L1201.49 782.13L1201.53 782.06L1201.74 781.68L1201.78 781.61L1201.99 781.21L1202.02 781.17L1202.25 780.74L1202.26 780.72L1202.46 780.34L1202.5 780.26L1202.74 779.8L1202.75 779.78L1202.98 779.34L1203.01 779.29L1203.22 778.88L1203.26 778.8L1203.46 778.41L1203.5 778.33L1203.75 777.86L1203.77 777.82L1203.99 777.39L1204.02 777.32L1204.23 776.91L1204.27 776.84L1204.47 776.44L1204.51 776.36L1204.72 775.93L1204.75 775.88L1204.99 775.39L1205.03 775.31L1205.23 774.9L1205.27 774.82L1205.49 774.39L1205.51 774.34L1205.74 773.87L1205.76 773.85L1206 773.35L1206 773.35L1206.24 772.86L1206.26 772.82L1206.48 772.36L1206.51 772.3L1206.72 771.87L1206.76 771.78L1206.96 771.37L1207 771.29L1207.24 770.79L1207.28 770.71L1207.48 770.29L1207.52 770.2L1207.73 769.78L1207.77 769.7L1207.98 769.25L1208.01 769.2L1208.25 768.7L1208.29 768.62L1208.5 768.18L1208.53 768.12L1208.73 767.7L1208.75 767.65L1208.97 767.2L1209.01 767.12L1209.21 766.7L1209.25 766.62L1209.49 766.12L1209.53 766.05L1209.74 765.62L1209.78 765.54L1209.98 765.13L1210.02 765.04L1210.23 764.6L1210.26 764.55L1210.49 764.07L1210.5 764.06L1210.74 763.57L1210.75 763.55L1210.98 763.09L1211.01 763.03L1211.22 762.6L1211.26 762.52L1211.46 762.12L1211.5 762.04L1211.75 761.57L1211.78 761.49L1211.99 761.09L1212.03 761.02L1212.24 760.61L1212.27 760.55L1212.5 760.11L1212.51 760.08L1212.71 759.7L1212.75 759.63L1212.99 759.17L1213.02 759.13L1213.23 758.72L1213.27 758.65L1213.47 758.28L1213.51 758.21L1213.73 757.82L1213.76 757.77L1214 757.34L1214.04 757.27L1214.24 756.91L1214.25 756.89L1214.48 756.5L1214.51 756.44L1214.72 756.08L1214.76 756.02L1214.96 755.67L1215 755.61L1215.24 755.22L1215.28 755.15L1215.49 754.83L1215.52 754.77L1215.75 754.42L1215.77 754.39L1215.97 754.08L1216.01 754.02L1216.25 753.66L1216.27 753.62L1216.49 753.3L1216.53 753.25L1216.73 752.96L1216.77 752.9L1216.99 752.6L1217.01 752.57L1217.21 752.3L1217.25 752.25L1217.49 751.94L1217.51 751.91L1217.74 751.63L1217.77 751.59L1217.98 751.34L1218.02 751.29L1218.23 751.04L1218.26 751.01L1218.5 750.75L1218.5 750.75L1218.74 750.49L1218.76 750.47L1218.98 750.24L1219.02 750.21L1219.22 750.01L1219.26 749.97L1219.48 749.77L1219.5 749.75L1219.75 749.55L1219.79 749.51L1219.99 749.35L1220.01 749.34L1220.23 749.17L1220.27 749.14L1220.47 749L1220.51 748.97L1220.73 748.83L1220.75 748.82L1221 748.68L1221.03 748.66L1221.23 748.55L1221.26 748.54L1221.47 748.44L1221.51 748.43L1221.72 748.34L1221.76 748.33L1222 748.24L1222.04 748.22L1222.24 748.16L1222.25 748.16L1222.48 748.1L1222.52 748.1L1222.72 748.06L1222.76 748.05L1222.98 748.03L1223 748.03L1223.24 748.02L1223.28 748.01L1223.31 748.01L1223.48 748.02L1223.51 748.02L1223.73 748.04L1223.77 748.04L1223.97 748.07L1224.01 748.08L1224.25 748.13L1224.29 748.14L1224.49 748.2L1224.51 748.21L1224.73 748.28L1224.77 748.3L1224.97 748.38L1225.01 748.4L1225.24 748.51L1225.25 748.52L1225.49 748.66L1225.5 748.66L1225.74 748.81L1225.77 748.83L1225.98 748.98L1226.02 749.01L1226.24 749.18L1226.26 749.19L1226.46 749.36L1226.5 749.4L1226.74 749.62L1226.77 749.64L1226.98 749.85L1227.02 749.89L1227.24 750.12L1227.26 750.15L1227.46 750.37L1227.5 750.42L1227.75 750.71L1227.77 750.74L1227.99 751.01L1228.03 751.06L1228.24 751.35L1228.27 751.39L1228.47 751.67L1228.51 751.72L1228.71 752.02L1228.75 752.08L1228.99 752.45L1229.03 752.51L1229.23 752.84L1229.25 752.86L1229.47 753.24L1229.51 753.31L1229.72 753.67L1229.76 753.73L1230 754.17L1230.04 754.24L1230.24 754.62L1230.26 754.66L1230.48 755.09L1230.52 755.17L1230.73 755.59L1230.76 755.65L1230.96 756.07L1231 756.14L1231.24 756.66L1231.27 756.72L1231.48 757.19L1231.52 757.28L1231.74 757.77L1231.77 757.83L1231.97 758.29L1232.01 758.39L1232.25 758.96L1232.28 759.04L1232.49 759.54L1232.53 759.64L1232.73 760.14L1232.75 760.2L1232.97 760.76L1233.01 760.86L1233.23 761.42L1233.25 761.49L1233.49 762.13L1233.5 762.14L1233.74 762.78L1233.77 762.87L1233.98 763.44L1234.02 763.55L1234.24 764.19L1234.26 764.23L1234.46 764.8L1234.5 764.91L1234.74 765.61L1234.78 765.73L1234.99 766.35L1235.02 766.44L1235.22 767.04L1235.26 767.16L1235.47 767.78L1235.5 767.89L1235.75 768.63L1235.79 768.75L1235.99 769.38L1236.01 769.46L1236.23 770.13L1236.27 770.26L1236.49 770.96L1236.51 771.02L1236.71 771.67L1236.75 771.8L1236.99 772.58L1237.03 772.71L1237.24 773.39L1237.27 773.49L1237.47 774.16L1237.51 774.29L1237.72 774.97L1237.76 775.09L1238 775.9L1238.04 776.03L1238.24 776.71L1238.27 776.8L1238.48 777.52L1238.52 777.66L1238.75 778.43L1238.76 778.48L1238.96 779.17L1239 779.31L1239.24 780.14L1239.28 780.27L1239.48 780.97L1239.5 781.02L1239.73 781.8L1239.77 781.94L1239.98 782.69L1240.01 782.78L1240.25 783.62L1240.25 783.64L1240.49 784.46L1240.53 784.6L1240.74 785.32L1240.77 785.44L1240.97 786.15L1241.01 786.28L1241.22 787.01L1241.25 787.13L1241.49 787.97L1241.53 788.11L1241.74 788.82L1241.77 788.94L1241.98 789.66L1242.02 789.8L1242.22 790.5L1242.25 790.62L1242.46 791.34L1242.5 791.48L1242.74 792.32L1242.78 792.46L1242.98 793.15L1243.01 793.26L1243.22 793.99L1243.26 794.13L1243.5 794.93L1243.5 794.96L1243.75 795.78L1243.77 795.88L1243.99 796.61L1244.03 796.74L1244.23 797.43L1244.26 797.53L1244.47 798.24L1244.51 798.38L1244.74 799.17L1244.75 799.19L1244.99 800L1245.02 800.09L1245.23 800.8L1245.27 800.93L1245.47 801.59L1245.51 801.7L1245.72 802.38L1245.76 802.52L1246 803.3L1246.04 803.43L1246.24 804.08L1246.27 804.19L1246.48 804.86L1246.52 804.98L1246.72 805.62L1246.76 805.74L1246.97 806.4L1247 806.5L1247.25 807.27L1247.28 807.38L1247.48 808L1247.52 808.12L1247.74 808.77L1247.77 808.86L1247.97 809.47L1248.01 809.59L1248.25 810.31L1248.29 810.43L1248.49 811.02L1248.5 811.07L1248.73 811.73L1248.77 811.85L1248.99 812.5L1249.01 812.55L1249.21 813.12L1249.25 813.24L1249.49 813.92L1249.53 814.03L1249.74 814.59L1249.76 814.67L1249.98 815.26L1250.02 815.37L1250.22 815.91L1250.26 816.02L1250.47 816.58L1250.5 816.67L1250.75 817.33L1250.78 817.41L1250.98 817.94L1251.02 818.04L1251.24 818.6L1251.26 818.66L1251.46 819.17L1251.5 819.28L1251.75 819.88L1251.79 819.98L1251.99 820.47L1252.01 820.54L1252.23 821.06L1252.27 821.16L1252.47 821.64L1252.51 821.73L1252.72 822.22L1252.75 822.3L1252.99 822.86L1253 822.88L1253.23 823.4L1253.27 823.5L1253.5 823.99L1253.51 824.03L1253.72 824.48L1253.76 824.56L1254 825.09L1254.04 825.17L1254.24 825.6L1254.27 825.67L1254.49 826.12L1254.52 826.19L1254.72 826.6L1254.76 826.68L1254.98 827.12L1255 827.17L1255.24 827.64L1255.26 827.68L1255.48 828.11L1255.52 828.19L1255.73 828.57L1255.76 828.64L1255.97 829.03L1256.01 829.09L1256.25 829.54L1256.26 829.56L1256.49 829.97L1256.53 830.04L1256.73 830.39L1256.76 830.44L1256.97 830.81L1257.01 830.88L1257.21 831.22L1257.25 831.29L1257.49 831.68L1257.53 831.75L1257.74 832.08L1257.75 832.1L1257.98 832.46L1258.02 832.52L1258.22 832.83L1258.25 832.89L1258.47 833.21L1258.5 833.26L1258.74 833.62L1258.75 833.64L1258.98 833.97L1259.02 834.03L1259.22 834.31L1259.25 834.35L1259.47 834.65L1259.5 834.7L1259.75 835.03L1259.75 835.04L1259.99 835.35L1260.03 835.4L1260.23 835.66L1260.25 835.69L1260.47 835.96L1260.51 836.01L1260.71 836.26L1260.75 836.31L1260.99 836.6L1261.03 836.65L1261.23 836.88L1261.26 836.91L1261.47 837.16L1261.51 837.2L1261.72 837.43L1261.76 837.47L1262 837.73L1262.04 837.77L1262.24 837.99L1262.26 838.01L1262.48 838.23L1262.52 838.27L1262.72 838.47L1262.76 838.51L1262.98 838.73L1263 838.75L1263.24 838.98L1263.27 839L1263.49 839.2L1263.52 839.23L1263.73 839.41L1263.77 839.45L1263.99 839.64L1264.01 839.65L1264.25 839.86L1264.28 839.88L1264.49 840.05L1264.5 840.06L1264.73 840.24L1264.77 840.27L1264.97 840.42L1265.01 840.45L1265.22 840.61L1265.25 840.63L1265.49 840.8L1265.51 840.82L1265.74 840.97L1265.78 841L1265.98 841.13L1266.02 841.16L1266.24 841.3L1266.26 841.31L1266.46 841.43L1266.5 841.46L1266.75 841.6L1266.78 841.62L1266.98 841.74L1267.02 841.76L1267.22 841.87L1267.25 841.89L1267.47 842L1267.5 842.02L1267.75 842.14L1267.76 842.15L1267.99 842.25L1268.03 842.27L1268.23 842.37L1268.27 842.38L1268.49 842.48L1268.51 842.49L1268.71 842.57L1268.75 842.59L1268.99 842.68L1269 842.69L1269.23 842.77L1269.27 842.79L1269.47 842.86L1269.51 842.87L1269.73 842.94L1269.76 842.95L1270 843.03L1270.02 843.03L1270.24 843.1L1270.28 843.11L1270.48 843.16L1270.52 843.17L1270.72 843.22L1270.76 843.23L1270.97 843.28L1271 843.29L1271.24 843.34L1271.27 843.34L1271.49 843.38L1271.52 843.39L1271.73 843.42L1271.77 843.43L1271.97 843.46L1272 843.47L1272.25 843.5L1272.29 843.5L1272.49 843.53L1272.52 843.53L1272.74 843.55L1272.77 843.55L1272.97 843.57L1273.01 843.57L1273.21 843.58L1273.25 843.58L1273.49 843.59L1273.53 843.6L1273.74 843.6L1273.77 843.6L1273.91 843.6L1273.99 843.6L1274.02 843.6L1274.22 843.6L1274.26 843.6L1274.46 843.59L1274.5 843.59L1274.74 843.58L1274.78 843.57L1274.98 843.56L1275.02 843.56L1275.24 843.54L1275.26 843.54L1275.46 843.52L1275.5 843.51L1275.75 843.48L1275.76 843.48L1275.99 843.45L1276.03 843.44L1276.23 843.41L1276.27 843.41L1276.47 843.37L1276.5 843.37L1276.72 843.33L1276.75 843.32L1276.99 843.27L1277.02 843.27L1277.24 843.22L1277.27 843.21L1277.47 843.17L1277.51 843.16L1277.72 843.11L1277.76 843.1L1278 843.03L1278.04 843.02L1278.24 842.97L1278.28 842.95L1278.48 842.89L1278.5 842.89L1278.73 842.82L1278.76 842.81L1278.96 842.74L1279 842.73L1279.25 842.65L1279.28 842.64L1279.48 842.57L1279.52 842.55L1279.73 842.48L1279.77 842.46L1279.99 842.38L1280.01 842.37L1280.25 842.28L1280.29 842.26L1280.49 842.18L1280.51 842.17L1280.74 842.08L1280.77 842.06L1280.97 841.98L1281.01 841.96L1281.21 841.87L1281.25 841.86L1281.49 841.75L1281.53 841.73L1281.74 841.64L1281.78 841.62L1281.98 841.52L1282.01 841.51L1282.23 841.4L1282.26 841.39L1282.46 841.29L1282.5 841.27L1282.74 841.15L1282.76 841.14L1282.98 841.02L1283.02 841L1283.22 840.9L1283.26 840.87L1283.46 840.77L1283.5 840.75L1283.75 840.62L1283.79 840.59L1283.99 840.48L1284.03 840.46L1284.23 840.35L1284.26 840.33L1284.49 840.2L1284.51 840.19L1284.71 840.08L1284.75 840.05L1284.99 839.91L1285.01 839.9L1285.24 839.77L1285.27 839.75L1285.47 839.63L1285.51 839.61L1285.72 839.49L1285.76 839.46L1286 839.32L1286.04 839.3L1286.24 839.17L1286.28 839.15L1286.48 839.03L1286.52 839L1286.72 838.88L1286.75 838.86L1286.98 838.72L1287 838.71L1287.24 838.56L1287.28 838.53L1287.48 838.41L1287.51 838.39L1287.73 838.25L1287.77 838.23L1287.97 838.1L1288.01 838.08L1288.25 837.93L1288.26 837.92L1288.49 837.77L1288.53 837.75L1288.73 837.62L1288.77 837.6L1288.97 837.47L1289.01 837.44L1289.21 837.32L1289.25 837.29L1289.49 837.14L1289.53 837.11L1289.74 836.99L1289.78 836.96L1289.98 836.84L1290.01 836.81L1290.24 836.67L1290.26 836.66L1290.47 836.53L1290.5 836.51L1290.74 836.36L1290.77 836.34L1290.98 836.21L1291 836.2L1291.23 836.05L1291.26 836.03L1291.46 835.91L1291.5 835.89L1291.75 835.74L1291.76 835.73L1291.99 835.59L1292.03 835.57L1292.23 835.45L1292.27 835.42L1292.47 835.3L1292.51 835.28L1292.71 835.16L1292.75 835.14L1292.99 834.99L1293.03 834.97L1293.23 834.85L1293.27 834.83L1293.47 834.71L1293.51 834.69L1293.72 834.58L1293.75 834.56L1294 834.42L1294.04 834.4L1294.24 834.28L1294.28 834.26L1294.48 834.15L1294.52 834.13L1294.72 834.02L1294.75 834L1294.98 833.88L1295 833.87L1295.24 833.74L1295.28 833.72L1295.48 833.62L1295.52 833.6L1295.73 833.5L1295.75 833.48L1295.98 833.37L1296.01 833.36L1296.25 833.24L1296.29 833.22L1296.49 833.12L1296.52 833.11L1296.73 833.01L1296.75 833L1296.98 832.89L1297.01 832.88L1297.22 832.78L1297.25 832.77L1297.49 832.66L1297.53 832.65L1297.74 832.56L1297.76 832.55L1297.99 832.45L1298.02 832.44L1298.22 832.35L1298.26 832.34L1298.46 832.26L1298.5 832.24L1298.74 832.14L1298.76 832.14L1298.99 832.05L1299.02 832.04L1299.23 831.96L1299.26 831.95L1299.46 831.88L1299.5 831.86L1299.75 831.78L1299.77 831.77L1299.99 831.7L1300 831.69L1300.24 831.61L1300.27 831.6L1300.47 831.54L1300.51 831.53L1300.71 831.47L1300.75 831.45L1300.99 831.38L1301.01 831.38L1301.25 831.31L1301.27 831.3L1301.48 831.25L1301.51 831.24L1301.72 831.19L1301.76 831.18L1302 831.12L1302.03 831.11L1302.24 831.06L1302.26 831.06L1302.49 831L1302.52 831L1302.73 830.95L1302.76 830.94L1302.96 830.9L1303 830.9L1303.24 830.85L1303.27 830.84L1303.48 830.8L1303.51 830.8L1303.74 830.76L1303.77 830.76L1303.98 830.72L1304.01 830.72L1304.25 830.68L1304.29 830.68L1304.49 830.65L1304.53 830.64L1304.73 830.62L1304.76 830.61L1305 830.58L1305.01 830.58L1305.23 830.56L1305.25 830.56L1305.49 830.53L1305.53 830.53L1305.74 830.51L1305.78 830.51L1305.98 830.49L1306.02 830.49L1306.22 830.47L1306.25 830.47L1306.49 830.46L1306.5 830.45L1306.74 830.44L1306.78 830.44L1306.98 830.43L1307.02 830.43L1307.22 830.42L1307.26 830.42L1307.46 830.41L1307.5 830.41L1307.75 830.41L1307.79 830.4L1307.99 830.4L1308.03 830.4L1308.23 830.4L1308.27 830.4L1308.47 830.4L1308.51 830.4L1308.71 830.4L1308.75 830.4L1308.99 830.4L1309.01 830.4L1309.25 830.4L1309.27 830.41L1309.48 830.41L1309.51 830.41L1309.72 830.41L1309.76 830.42L1310 830.42L1310.04 830.42L1310.24 830.43L1310.27 830.43L1310.48 830.44L1310.51 830.44L1310.72 830.45L1310.75 830.45L1310.99 830.46L1311 830.46L1311.24 830.47L1311.28 830.47L1311.48 830.48L1311.52 830.48L1311.73 830.49L1311.77 830.49L1311.97 830.5L1312.01 830.51L1312.25 830.52L1312.26 830.52L1312.5 830.53L1312.53 830.53L1312.74 830.54L1312.77 830.54L1312.98 830.55L1313.01 830.55L1313.21 830.56L1313.25 830.56L1313.49 830.57L1313.53 830.58L1313.74 830.58L1313.77 830.58L1313.98 830.59L1314.01 830.59L1314.22 830.6L1314.25 830.6L1314.49 830.61L1314.5 830.61L1314.74 830.61L1314.78 830.61L1314.98 830.62L1315.02 830.62L1315.22 830.62L1315.26 830.62L1315.46 830.62L1315.5 830.62L1315.54 830.62L1315.75 830.62L1315.77 830.62L1315.99 830.62L1316.01 830.62L1316.23 830.62L1316.25 830.61L1316.49 830.61L1316.51 830.61L1316.73 830.6L1316.75 830.6L1316.99 830.59L1317.03 830.59L1317.23 830.58L1317.27 830.57L1317.47 830.56L1317.51 830.56L1317.72 830.54L1317.76 830.54L1318 830.52L1318.02 830.51L1318.24 830.49L1318.26 830.49L1318.48 830.46L1318.5 830.46L1318.74 830.43L1318.76 830.43L1318.98 830.4L1319 830.39L1319.24 830.35L1319.28 830.35L1319.48 830.31L1319.52 830.31L1319.73 830.27L1319.77 830.26L1319.97 830.22L1320.01 830.21L1320.25 830.16L1320.27 830.15L1320.49 830.1L1320.51 830.09L1320.73 830.04L1320.76 830.03L1320.97 829.97L1321 829.96L1321.24 829.89L1321.25 829.89L1321.49 829.81L1321.53 829.8L1321.74 829.73L1321.78 829.72L1321.98 829.65L1322.02 829.63L1322.22 829.56L1322.26 829.54L1322.46 829.47L1322.5 829.45L1322.74 829.35L1322.78 829.33L1322.98 829.25L1323.02 829.23L1323.22 829.14L1323.26 829.12L1323.46 829.02L1323.5 829L1323.75 828.88L1323.76 828.87L1323.99 828.75L1324 828.75L1324.25 828.61L1324.27 828.6L1324.49 828.47L1324.51 828.46L1324.73 828.33L1324.75 828.32L1324.99 828.17L1325.03 828.14L1325.23 828.01L1325.27 827.99L1325.47 827.85L1325.51 827.83L1325.72 827.69L1325.76 827.66L1326 827.49L1326.04 827.46L1326.24 827.31L1326.28 827.28L1326.48 827.12L1326.52 827.09L1326.72 826.93L1326.76 826.9L1326.96 826.74L1327 826.7L1327.24 826.5L1327.27 826.48L1327.48 826.29L1327.51 826.27L1327.73 826.08L1327.76 826.05L1327.97 825.86L1328 825.82L1328.25 825.59L1328.25 825.59L1328.49 825.35L1328.53 825.32L1328.74 825.11L1328.77 825.08L1328.99 824.86L1329.01 824.83L1329.23 824.6L1329.25 824.58L1329.49 824.32L1329.53 824.28L1329.74 824.06L1329.78 824.01L1329.98 823.79L1330.02 823.74L1330.22 823.51L1330.26 823.47L1330.47 823.22L1330.5 823.18L1330.74 822.9L1330.78 822.85L1330.98 822.6L1331.02 822.55L1331.22 822.3L1331.26 822.25L1331.46 822L1331.5 821.95L1331.75 821.64L1331.79 821.59L1331.99 821.32L1332.03 821.27L1332.23 821L1332.27 820.95L1332.47 820.67L1332.51 820.62L1332.71 820.34L1332.75 820.28L1332.99 819.95L1333.03 819.9L1333.23 819.6L1333.27 819.54L1333.47 819.25L1333.51 819.19L1333.72 818.9L1333.76 818.84L1334 818.48L1334.02 818.44L1334.24 818.12L1334.27 818.07L1334.48 817.75L1334.52 817.69L1334.72 817.38L1334.76 817.31L1334.96 817L1335 816.93L1335.24 816.55L1335.27 816.51L1335.48 816.16L1335.52 816.11L1335.73 815.77L1335.77 815.71L1335.97 815.38L1336.01 815.31L1336.25 814.91L1336.27 814.88L1336.49 814.51L1336.52 814.46L1336.73 814.1L1336.77 814.04L1336.97 813.69L1337.01 813.62L1337.21 813.27L1337.25 813.2L1337.49 812.78L1337.52 812.75L1337.74 812.36L1337.77 812.31L1337.98 811.94L1338.02 811.86L1338.22 811.51L1338.26 811.43L1338.46 811.07L1338.5 811L1338.74 810.57L1338.77 810.51L1338.98 810.13L1339.02 810.06L1339.22 809.69L1339.26 809.61L1339.46 809.24L1339.5 809.17L1339.75 808.72L1339.78 808.67L1339.99 808.28L1340.03 808.2L1340.23 807.82L1340.27 807.75L1340.47 807.37L1340.51 807.3L1340.71 806.92L1340.75 806.84L1340.99 806.38L1341.03 806.31L1341.23 805.92L1341.27 805.85L1341.47 805.46L1341.51 805.39L1341.72 805L1341.76 804.92L1342 804.46L1342.04 804.38L1342.24 803.99L1342.28 803.92L1342.48 803.53L1342.52 803.45L1342.72 803.06L1342.76 802.98L1342.97 802.57L1343 802.51L1343.24 802.04L1343.28 801.97L1343.48 801.57L1343.52 801.49L1343.73 801.09L1343.77 801.02L1343.98 800.6L1344.01 800.55L1344.25 800.08L1344.29 800L1344.49 799.6L1344.53 799.53L1344.75 799.11L1344.77 799.06L1344.97 798.66L1345 798.61L1345.21 798.19L1345.25 798.11L1345.49 797.64L1345.51 797.61L1345.74 797.16L1345.76 797.11L1345.98 796.69L1346.02 796.61L1346.22 796.22L1346.26 796.14L1346.46 795.75L1346.5 795.67L1346.74 795.2L1346.78 795.12L1346.98 794.73L1347.02 794.65L1347.22 794.26L1347.26 794.18L1347.46 793.79L1347.5 793.71L1347.75 793.24L1347.79 793.16L1347.99 792.78L1348.03 792.7L1348.23 792.31L1348.27 792.23L1348.48 791.82L1348.51 791.77L1348.74 791.33L1348.75 791.3L1348.99 790.84L1349.03 790.76L1349.23 790.38L1349.25 790.35L1349.47 789.92L1349.51 789.86L1349.72 789.46L1349.76 789.39L1350 788.93L1350.02 788.89L1350.24 788.47L1350.28 788.4L1350.48 788.02L1350.52 787.95L1350.72 787.57L1350.76 787.5L1350.96 787.12L1351 787.05L1351.24 786.6L1351.28 786.52L1351.48 786.15L1351.52 786.08L1351.73 785.7L1351.77 785.64L1351.99 785.23L1352.01 785.2L1352.25 784.76L1352.29 784.68L1352.49 784.32L1352.5 784.29L1352.73 783.89L1352.76 783.83L1352.97 783.45L1353.01 783.38L1353.21 783.02L1353.25 782.95L1353.49 782.52L1353.53 782.45L1353.74 782.1L1353.78 782.03L1353.98 781.68L1354.02 781.61L1354.22 781.24L1354.26 781.19L1354.48 780.8L1354.5 780.77L1354.74 780.35L1354.78 780.28L1354.98 779.94L1355 779.91L1355.22 779.53L1355.26 779.47L1355.46 779.12L1355.5 779.06L1355.75 778.65L1355.78 778.6L1355.99 778.25L1356.03 778.18L1356.23 777.85L1356.27 777.78L1356.47 777.45L1356.51 777.39L1356.73 777.03L1356.75 776.99L1356.99 776.6L1357.03 776.54L1357.23 776.21L1357.25 776.19L1357.47 775.83L1357.51 775.77L1357.72 775.45L1357.76 775.38L1358 775L1358.03 774.95L1358.24 774.62L1358.28 774.56L1358.48 774.25L1358.52 774.19L1358.72 773.87L1358.76 773.82L1358.98 773.47L1359 773.45L1359.25 773.08L1359.28 773.02L1359.48 772.72L1359.51 772.68L1359.73 772.36L1359.77 772.3L1359.97 772L1360.01 771.94L1360.25 771.58L1360.29 771.53L1360.49 771.23L1360.53 771.17L1360.73 770.88L1360.77 770.82L1360.99 770.51L1361.01 770.48L1361.21 770.19L1361.25 770.14L1361.49 769.79L1361.51 769.76L1361.74 769.45L1361.77 769.4L1361.98 769.11L1362.02 769.06L1362.22 768.78L1362.26 768.72L1362.47 768.42L1362.5 768.39L1362.74 768.06L1362.78 768L1362.98 767.73L1363 767.71L1363.22 767.4L1363.26 767.35L1363.46 767.08L1363.5 767.03L1363.75 766.71L1363.79 766.65L1363.99 766.39L1364.03 766.33L1364.23 766.07L1364.27 766.02L1364.49 765.73L1364.51 765.7L1364.71 765.44L1364.75 765.39L1364.99 765.08L1365.02 765.05L1365.23 764.77L1365.27 764.72L1365.47 764.46L1365.51 764.41L1365.72 764.15L1365.76 764.11L1366 763.8L1366.04 763.75L1366.24 763.5L1366.25 763.49L1366.48 763.2L1366.51 763.16L1366.72 762.9L1366.76 762.85L1366.96 762.6L1367 762.55L1367.24 762.26L1367.28 762.21L1367.48 761.96L1367.52 761.91L1367.73 761.67L1367.75 761.64L1367.97 761.38L1368.01 761.33L1368.25 761.04L1368.28 761L1368.49 760.75L1368.53 760.7L1368.73 760.46L1368.77 760.41L1368.99 760.15L1369.01 760.12L1369.21 759.88L1369.25 759.83L1369.49 759.55L1369.52 759.52L1369.74 759.26L1369.78 759.21L1369.98 758.98L1370.02 758.93L1370.23 758.68L1370.26 758.65L1370.5 758.37L1370.5 758.36L1370.74 758.08L1370.76 758.05L1370.98 757.8L1371.02 757.75L1371.22 757.51L1371.26 757.47L1371.47 757.22L1371.5 757.18L1371.75 756.9L1371.79 756.86L1371.99 756.62L1372.01 756.6L1372.23 756.34L1372.27 756.29L1372.47 756.06L1372.51 756.01L1372.72 755.77L1372.75 755.73L1372.99 755.45L1373.03 755.4L1373.23 755.17L1373.26 755.14L1373.47 754.89L1373.51 754.84L1373.72 754.61L1373.76 754.56L1374 754.28L1374.04 754.23L1374.24 753.99L1374.28 753.95L1374.48 753.71L1374.51 753.68L1374.72 753.43L1374.76 753.38L1374.96 753.15L1375 753.1L1375.24 752.82L1375.28 752.77L1375.49 752.53L1375.52 752.49L1375.73 752.25L1375.76 752.21L1375.97 751.97L1376.01 751.92L1376.25 751.64L1376.29 751.59L1376.49 751.35L1376.53 751.31L1376.73 751.07L1376.75 751.05L1376.97 750.78L1377.01 750.73L1377.21 750.5L1377.25 750.45L1377.49 750.16L1377.53 750.11L1377.74 749.87L1377.78 749.83L1377.98 749.59L1378.01 749.55L1378.22 749.3L1378.26 749.25L1378.46 749.01L1378.5 748.96L1378.74 748.68L1378.78 748.63L1378.98 748.39L1379 748.37L1379.22 748.1L1379.26 748.05L1379.46 747.81L1379.5 747.76L1379.75 747.47L1379.79 747.42L1379.99 747.17L1380.03 747.13L1380.23 746.89L1380.26 746.85L1380.47 746.6L1380.51 746.55L1380.72 746.3L1380.75 746.26L1380.99 745.97L1381.03 745.92L1381.23 745.67L1381.26 745.64L1381.47 745.38L1381.51 745.33L1381.72 745.09L1381.76 745.04L1382 744.75L1382.04 744.7L1382.24 744.46L1382.26 744.44L1382.48 744.17L1382.52 744.12L1382.72 743.87L1382.76 743.83L1382.98 743.56L1383 743.53L1383.24 743.24L1383.26 743.23L1383.48 742.95L1383.52 742.9L1383.73 742.66L1383.77 742.61L1383.98 742.35L1384.01 742.32L1384.25 742.03L1384.26 742.02L1384.49 741.74L1384.53 741.69L1384.73 741.45L1384.77 741.4L1384.99 741.14L1385.01 741.11L1385.21 740.87L1385.25 740.82L1385.49 740.54L1385.53 740.49L1385.74 740.25L1385.78 740.2L1385.99 739.95L1386.02 739.92L1386.22 739.68L1386.26 739.63L1386.46 739.39L1386.5 739.35L1386.74 739.06L1386.78 739.02L1387 738.76L1387.02 738.73L1387.22 738.5L1387.26 738.45L1387.46 738.22L1387.5 738.17L1387.75 737.9L1387.79 737.85L1387.99 737.62L1388 737.6L1388.23 737.34L1388.27 737.3L1388.47 737.07L1388.51 737.02L1388.74 736.77L1388.75 736.75L1388.99 736.48L1389.01 736.46L1389.23 736.21L1389.27 736.17L1389.47 735.95L1389.51 735.9L1389.72 735.68L1389.75 735.65L1390 735.38L1390.03 735.35L1390.24 735.12L1390.28 735.07L1390.49 734.85L1390.52 734.81L1390.72 734.6L1390.76 734.56L1390.96 734.35L1391 734.31L1391.24 734.05L1391.28 734.01L1391.48 733.81L1391.5 733.79L1391.73 733.56L1391.77 733.52L1391.97 733.32L1392.01 733.28L1392.24 733.05L1392.25 733.04L1392.49 732.8L1392.52 732.77L1392.73 732.57L1392.77 732.53L1392.98 732.33L1393.01 732.3L1393.21 732.11L1393.25 732.07L1393.49 731.84L1393.53 731.81L1393.74 731.62L1393.78 731.58L1394 731.38L1394.02 731.37L1394.22 731.19L1394.26 731.15L1394.46 730.97L1394.5 730.94L1394.74 730.73L1394.78 730.7L1394.98 730.53L1395.02 730.5L1395.22 730.33L1395.26 730.3L1395.48 730.12L1395.5 730.1L1395.75 729.91L1395.76 729.9L1395.99 729.72L1396.03 729.69L1396.23 729.54L1396.27 729.51L1396.47 729.36L1396.51 729.33L1396.71 729.18L1396.75 729.15L1396.99 728.98L1397.03 728.96L1397.23 728.82L1397.25 728.8L1397.47 728.66L1397.51 728.63L1397.72 728.5L1397.76 728.47L1398 728.32L1398 728.32L1398.24 728.17L1398.28 728.15L1398.48 728.03L1398.52 728.01L1398.75 727.88L1398.76 727.87L1398.96 727.76L1399 727.74L1399.24 727.61L1399.28 727.59L1399.49 727.49L1399.52 727.47L1399.73 727.38L1399.77 727.36L1399.97 727.26L1400.01 727.25L1400.24 727.14L1400.25 727.14L1400.49 727.04L1400.53 727.03L1400.73 726.95L1400.77 726.93L1400.99 726.85L1401.01 726.84L1401.21 726.78L1401.25 726.76L1401.49 726.69L1401.53 726.67L1401.75 726.61L1401.78 726.61L1401.98 726.55L1402.02 726.54L1402.22 726.49L1402.26 726.48L1402.46 726.44L1402.5 726.43L1402.74 726.39L1402.78 726.38L1402.98 726.35L1403.02 726.34L1403.22 726.32L1403.25 726.31L1403.46 726.29L1403.5 726.29L1403.75 726.27L1403.79 726.26L1403.99 726.25L1404.01 726.25L1404.23 726.25L1404.27 726.25L1404.48 726.24L1404.51 726.24L1404.71 726.23L1404.75 726.23L1404.87 726.23L1404.99 726.23L1405.03 726.23L1405.24 726.24L1405.27 726.24L1405.47 726.25L1405.51 726.25L1405.72 726.27L1405.76 726.28L1406 726.31L1406.04 726.31L1406.24 726.34L1406.28 726.35L1406.48 726.38L1406.52 726.39L1406.72 726.44L1406.75 726.44L1406.96 726.49L1407 726.5L1407.24 726.57L1407.28 726.58L1407.48 726.64L1407.51 726.65L1407.73 726.73L1407.77 726.74L1407.99 726.82L1408.01 726.83L1408.21 726.91L1408.25 726.93L1408.49 727.04L1408.53 727.05L1408.75 727.16L1408.77 727.17L1408.97 727.27L1409.01 727.29L1409.22 727.41L1409.25 727.42L1409.49 727.56L1409.51 727.57L1409.74 727.71L1409.78 727.73L1409.99 727.87L1410.02 727.89L1410.22 728.03L1410.26 728.05L1410.46 728.2L1410.5 728.23L1410.74 728.41L1410.75 728.42L1410.98 728.6L1411.02 728.63L1411.23 728.8L1411.26 728.83L1411.46 729L1411.5 729.04L1411.75 729.25L1411.79 729.29L1411.99 729.48L1412.03 729.51L1412.23 729.71L1412.27 729.75L1412.47 729.95L1412.51 729.99L1412.71 730.2L1412.75 730.24L1412.99 730.5L1413.03 730.54L1413.24 730.77L1413.27 730.81L1413.47 731.04L1413.51 731.09L1413.72 731.33L1413.76 731.38L1414 731.67L1414.01 731.68L1414.24 731.97L1414.28 732.03L1414.49 732.3L1414.52 732.34L1414.72 732.61L1414.76 732.66L1414.97 732.95L1415 732.99L1415.24 733.33L1415.26 733.35L1415.48 733.68L1415.52 733.74L1415.74 734.06L1415.77 734.09L1415.97 734.4L1416.01 734.46L1416.22 734.79L1416.25 734.83L1416.49 735.22L1416.51 735.25L1416.73 735.61L1416.77 735.67L1416.99 736.05L1417.01 736.08L1417.21 736.42L1417.25 736.49L1417.49 736.9L1417.53 736.97L1417.74 737.33L1417.77 737.39L1417.98 737.76L1418.02 737.84L1418.22 738.21L1418.25 738.27L1418.46 738.66L1418.5 738.73L1418.74 739.19L1418.78 739.27L1418.98 739.66L1419.02 739.74L1419.22 740.14L1419.26 740.22L1419.46 740.62L1419.5 740.7L1419.75 741.19L1419.79 741.28L1420 741.72L1420.03 741.78L1420.23 742.2L1420.27 742.29L1420.48 742.75L1420.51 742.81L1420.71 743.24L1420.75 743.33L1420.99 743.86L1421.03 743.95L1421.23 744.4L1421.26 744.46L1421.47 744.95L1421.51 745.04L1421.72 745.5L1421.75 745.57L1422 746.15L1422.04 746.25L1422.24 746.72L1422.28 746.81L1422.48 747.29L1422.52 747.39L1422.72 747.88L1422.76 747.97L1422.96 748.46L1423 748.56L1423.24 749.15L1423.28 749.25L1423.48 749.75L1423.5 749.8L1423.73 750.36L1423.77 750.46L1423.99 751.04L1424.01 751.07L1424.21 751.59L1424.25 751.69L1424.49 752.32L1424.53 752.42L1424.73 752.94L1424.77 753.05L1424.97 753.58L1425.01 753.68L1425.21 754.22L1425.25 754.32L1425.49 754.97L1425.53 755.08L1425.74 755.62L1425.76 755.67L1425.98 756.27L1426.02 756.38L1426.25 757.01L1426.26 757.04L1426.46 757.59L1426.5 757.7L1426.74 758.37L1426.78 758.48L1426.98 759.04L1427.02 759.15L1427.23 759.73L1427.26 759.82L1427.46 760.39L1427.5 760.5L1427.75 761.18L1427.79 761.29L1427.99 761.86L1428.02 761.95L1428.23 762.55L1428.27 762.66L1428.47 763.23L1428.51 763.35L1428.71 763.92L1428.75 764.04L1428.99 764.73L1429 764.77L1429.23 765.43L1429.27 765.54L1429.5 766.19L1429.51 766.24L1429.72 766.82L1429.76 766.94L1430 767.63L1430.04 767.75L1430.24 768.33L1430.28 768.45L1430.49 769.05L1430.52 769.15L1430.72 769.73L1430.76 769.85L1430.98 770.49L1431 770.55L1431.24 771.25L1431.28 771.36L1431.48 771.96L1431.52 772.07L1431.73 772.66L1431.77 772.77L1431.97 773.37L1432.01 773.47L1432.21 774.06L1432.25 774.17L1432.49 774.87L1432.53 774.99L1432.73 775.57L1432.77 775.67L1432.97 776.27L1433.01 776.38L1433.21 776.96L1433.25 777.08L1433.49 777.77L1433.53 777.89L1433.74 778.46L1433.76 778.53L1433.98 779.15L1434.02 779.27L1434.22 779.84L1434.26 779.95L1434.46 780.52L1434.5 780.64L1434.74 781.32L1434.76 781.36L1434.98 781.99L1435.02 782.11L1435.22 782.67L1435.25 782.76L1435.46 783.34L1435.5 783.45L1435.75 784.12L1435.75 784.14L1435.99 784.79L1436.03 784.9L1436.23 785.45L1436.25 785.51L1436.47 786.1L1436.51 786.21L1436.71 786.76L1436.75 786.87L1436.99 787.51L1437.03 787.62L1437.23 788.16L1437.25 788.21L1437.47 788.8L1437.51 788.9L1437.72 789.43L1437.75 789.53L1438 790.17L1438.04 790.27L1438.24 790.79L1438.25 790.83L1438.48 791.41L1438.52 791.51L1438.72 792.02L1438.76 792.11L1438.96 792.63L1439 792.73L1439.24 793.34L1439.26 793.37L1439.48 793.93L1439.52 794.03L1439.73 794.52L1439.76 794.61L1439.97 795.11L1440.01 795.21L1440.21 795.69L1440.25 795.78L1440.49 796.36L1440.53 796.45L1440.73 796.92L1440.77 797.01L1440.97 797.49L1441.01 797.58L1441.21 798.04L1441.25 798.13L1441.49 798.68L1441.53 798.77L1441.74 799.22L1441.78 799.31L1441.98 799.76L1442.02 799.84L1442.22 800.28L1442.26 800.37L1442.48 800.85L1442.5 800.89L1442.74 801.41L1442.78 801.49L1442.99 801.93L1443.02 802L1443.22 802.42L1443.26 802.5L1443.49 802.97L1443.5 802.99L1443.75 803.48L1443.79 803.56L1443.99 803.96L1444 803.98L1444.23 804.43L1444.27 804.51L1444.47 804.9L1444.51 804.97L1444.71 805.36L1444.75 805.43L1444.99 805.89L1445.01 805.92L1445.23 806.33L1445.27 806.4L1445.47 806.77L1445.51 806.84L1445.72 807.21L1445.76 807.27L1446 807.69L1446.03 807.75L1446.24 808.11L1446.28 808.18L1446.48 808.52L1446.52 808.59L1446.74 808.96L1446.76 808.99L1446.96 809.32L1447 809.39L1447.24 809.77L1447.25 809.78L1447.48 810.16L1447.52 810.22L1447.73 810.53L1447.76 810.58L1447.97 810.9L1448.01 810.96L1448.21 811.26L1448.25 811.32L1448.49 811.68L1448.53 811.73L1448.73 812.02L1448.77 812.08L1448.98 812.38L1449.01 812.42L1449.21 812.7L1449.25 812.75L1449.49 813.08L1449.53 813.13L1449.74 813.4L1449.78 813.45L1449.98 813.72L1450.01 813.75L1450.22 814.02L1450.26 814.07L1450.46 814.33L1450.5 814.38L1450.74 814.67L1450.78 814.72L1450.98 814.96L1451.02 815.01L1451.24 815.26L1451.26 815.29L1451.46 815.52L1451.5 815.56L1451.75 815.83L1451.75 815.84L1451.99 816.1L1452.03 816.14L1452.23 816.36L1452.26 816.39L1452.47 816.61L1452.51 816.65L1452.71 816.86L1452.75 816.9L1452.99 817.14L1453.03 817.18L1453.23 817.37L1453.27 817.41L1453.5 817.62L1453.51 817.64L1453.72 817.83L1453.76 817.86L1454 818.08L1454.01 818.09L1454.24 818.29L1454.28 818.33L1454.48 818.5L1454.52 818.54L1454.73 818.71L1454.76 818.74L1454.96 818.9L1455 818.93L1455.24 819.13L1455.25 819.13L1455.48 819.31L1455.52 819.35L1455.73 819.5L1455.77 819.53L1455.97 819.68L1456.01 819.7L1456.21 819.85L1456.25 819.88L1456.49 820.05L1456.53 820.07L1456.73 820.21L1456.77 820.24L1456.97 820.37L1457.01 820.39L1457.21 820.53L1457.25 820.55L1457.49 820.7L1457.52 820.72L1457.74 820.85L1457.78 820.87L1457.98 820.99L1458.02 821.01L1458.22 821.13L1458.25 821.15L1458.46 821.26L1458.5 821.29L1458.74 821.42L1458.77 821.43L1458.98 821.54L1459.02 821.57L1459.22 821.67L1459.26 821.69L1459.5 821.8L1459.5 821.81L1459.75 821.92L1459.79 821.94L1459.99 822.04L1460.02 822.05L1460.23 822.15L1460.27 822.16L1460.47 822.25L1460.51 822.27L1460.75 822.37L1460.75 822.37L1460.99 822.47L1461.03 822.49L1461.23 822.57L1461.27 822.58L1461.48 822.67L1461.51 822.68L1461.72 822.76L1461.76 822.77L1462 822.86L1462 822.86L1462.24 822.95L1462.28 822.96L1462.48 823.03L1462.52 823.04L1462.73 823.11L1462.76 823.12L1462.96 823.19L1463 823.2L1463.24 823.28L1463.25 823.28L1463.48 823.35L1463.52 823.36L1463.73 823.42L1463.77 823.43L1463.99 823.5L1464.01 823.5L1464.21 823.56L1464.25 823.57L1464.49 823.64L1464.51 823.64L1464.73 823.7L1464.77 823.71L1464.97 823.76L1465.01 823.77L1465.25 823.83L1465.25 823.83L1465.49 823.89L1465.53 823.9L1465.74 823.94L1465.77 823.95L1465.98 824L1466.02 824.01L1466.22 824.05L1466.26 824.06L1466.46 824.1L1466.5 824.11L1466.74 824.16L1466.78 824.17L1466.98 824.21L1467.02 824.22L1467.25 824.27L1467.26 824.27L1467.46 824.31L1467.5 824.32L1467.75 824.36L1467.77 824.37L1467.99 824.41L1468.03 824.41L1468.23 824.45L1468.27 824.46L1468.47 824.49L1468.51 824.5L1468.72 824.54L1468.75 824.54L1468.99 824.58L1469.03 824.59L1469.23 824.62L1469.25 824.63L1469.47 824.66L1469.51 824.67L1469.72 824.7L1469.76 824.71L1470 824.75L1470.04 824.75L1470.24 824.78L1470.28 824.79L1470.48 824.82L1470.52 824.83L1470.73 824.86L1470.76 824.86L1470.96 824.89L1471 824.9L1471.24 824.93L1471.26 824.94L1471.48 824.97L1471.52 824.98L1471.73 825.01L1471.77 825.01L1471.97 825.04L1472.01 825.05L1472.22 825.08L1472.25 825.08L1472.49 825.12L1472.53 825.12L1472.73 825.15L1472.75 825.15L1472.97 825.19L1473.01 825.19L1473.21 825.22L1473.25 825.23L1473.5 825.26L1473.53 825.27L1473.74 825.3L1473.78 825.3L1473.98 825.33L1474.02 825.34L1474.24 825.37L1474.26 825.37L1474.46 825.4L1474.5 825.41L1474.74 825.44L1474.78 825.45L1474.99 825.48L1475.02 825.49L1475.22 825.52L1475.26 825.52L1475.46 825.55L1475.5 825.56L1475.75 825.59L1475.79 825.6L1475.99 825.63L1476.03 825.64L1476.23 825.67L1476.27 825.68L1476.49 825.71L1476.51 825.71L1476.71 825.74L1476.75 825.75L1476.99 825.79L1477.02 825.8L1477.24 825.83L1477.27 825.84L1477.47 825.87L1477.51 825.88L1477.72 825.91L1477.76 825.92L1478 825.96L1478.04 825.96L1478.24 826L1478.28 826.01L1478.48 826.04L1478.52 826.05L1478.74 826.09L1478.76 826.09L1478.96 826.13L1479 826.13L1479.24 826.18L1479.28 826.19L1479.49 826.23L1479.52 826.23L1479.73 826.27L1479.77 826.28L1479.97 826.32L1480.01 826.32L1480.25 826.37L1480.25 826.37L1480.49 826.42L1480.53 826.43L1480.73 826.47L1480.77 826.47L1480.97 826.52L1481 826.52L1481.22 826.57L1481.25 826.57L1481.49 826.62L1481.53 826.63L1481.74 826.68L1481.76 826.68L1481.98 826.73L1482.02 826.74L1482.22 826.78L1482.26 826.79L1482.46 826.83L1482.5 826.84L1482.74 826.9L1482.78 826.91L1482.98 826.95L1483.02 826.96L1483.22 827.01L1483.26 827.02L1483.49 827.07L1483.5 827.08L1483.75 827.13L1483.79 827.14L1483.99 827.19L1484.03 827.2L1484.25 827.26L1484.27 827.26L1484.47 827.31L1484.51 827.32L1484.71 827.37L1484.75 827.38L1484.99 827.44L1485 827.45L1485.23 827.51L1485.27 827.52L1485.47 827.57L1485.51 827.58L1485.72 827.63L1485.76 827.65L1486 827.71L1486.04 827.72L1486.24 827.78L1486.28 827.79L1486.48 827.84L1486.52 827.85L1486.75 827.92L1486.76 827.92L1486.96 827.98L1487 827.99L1487.24 828.06L1487.28 828.07L1487.48 828.13L1487.51 828.13L1487.73 828.2L1487.77 828.21L1487.97 828.27L1488.01 828.28L1488.21 828.34L1488.25 828.35L1488.49 828.42L1488.53 828.43L1488.73 828.49L1488.77 828.51L1488.97 828.57L1489.01 828.58L1489.21 828.64L1489.25 828.65L1489.49 828.73L1489.53 828.74L1489.74 828.8L1489.78 828.81L1489.98 828.88L1490.02 828.89L1490.24 828.96L1490.26 828.97L1490.46 829.03L1490.5 829.04L1490.74 829.12L1490.78 829.13L1490.98 829.2L1491.01 829.21L1491.23 829.28L1491.26 829.29L1491.46 829.35L1491.5 829.37L1491.75 829.45L1491.78 829.46L1492 829.53L1492.03 829.54L1492.23 829.6L1492.27 829.62L1492.47 829.68L1492.51 829.7L1492.71 829.77L1492.75 829.78L1492.99 829.86L1493.03 829.87L1493.23 829.94L1493.27 829.95L1493.47 830.02L1493.51 830.04L1493.72 830.1L1493.76 830.12L1494 830.2L1494.04 830.21L1494.24 830.28L1494.28 830.29L1494.48 830.36L1494.52 830.38L1494.72 830.45L1494.75 830.46L1494.97 830.53L1495 830.54L1495.24 830.63L1495.28 830.64L1495.48 830.71L1495.52 830.72L1495.74 830.8L1495.77 830.8L1495.97 830.87L1496.01 830.89L1496.21 830.96L1496.25 830.97L1496.49 831.05L1496.52 831.06L1496.74 831.14L1496.77 831.15L1496.97 831.22L1497.01 831.23L1497.21 831.3L1497.25 831.32L1497.49 831.4L1497.51 831.41L1497.74 831.48L1497.78 831.5L1497.98 831.57L1498.02 831.58L1498.22 831.65L1498.26 831.66L1498.46 831.73L1498.5 831.75L1498.74 831.83L1498.78 831.84L1498.98 831.91L1499.02 831.93L1499.22 831.99L1499.26 832.01L1499.46 832.08L1499.5 832.09L1499.75 832.17L1499.79 832.19L1499.99 832.25L1500.03 832.27L1500.23 832.33L1500.27 832.35L1500.47 832.42L1500.51 832.43L1500.74 832.51L1500.75 832.51L1500.99 832.59L1501.03 832.6L1501.23 832.67L1501.27 832.68L1501.47 832.75L1501.51 832.76L1501.74 832.84L1501.76 832.84L1502 832.92L1502.04 832.94L1502.24 833L1502.28 833.01L1502.48 833.08L1502.52 833.09L1502.75 833.17L1502.76 833.17L1502.97 833.24L1503 833.25L1503.24 833.33L1503.28 833.34L1503.48 833.4L1503.52 833.41L1503.73 833.48L1503.76 833.49L1503.98 833.56L1504.01 833.57L1504.21 833.63L1504.25 833.64L1504.49 833.72L1504.53 833.73L1504.73 833.79L1504.76 833.8L1504.99 833.87L1505.01 833.88L1505.21 833.94L1505.25 833.95L1505.49 834.02L1505.53 834.04L1505.74 834.1L1505.77 834.11L1505.98 834.17L1506 834.17L1506.22 834.24L1506.26 834.25L1506.46 834.3L1506.5 834.31L1506.74 834.38L1506.78 834.39L1506.98 834.45L1507.01 834.46L1507.24 834.52L1507.26 834.53L1507.46 834.58L1507.5 834.59L1507.75 834.66L1507.79 834.67L1507.99 834.72L1508.03 834.73L1508.23 834.79L1508.25 834.79L1508.48 834.85L1508.51 834.86L1508.71 834.91L1508.75 834.92L1508.99 834.99L1509.03 835L1509.23 835.05L1509.27 835.06L1509.5 835.12L1509.51 835.12L1509.72 835.17L1509.76 835.18L1510 835.24L1510.04 835.25L1510.24 835.3L1510.28 835.31L1510.48 835.36L1510.51 835.37L1510.74 835.43L1510.76 835.43L1510.97 835.48L1511 835.49L1511.24 835.55L1511.28 835.56L1511.48 835.61L1511.52 835.62L1511.73 835.66L1511.76 835.67L1511.99 835.73L1512.01 835.73L1512.22 835.78L1512.25 835.79L1512.49 835.84L1512.53 835.85L1512.73 835.9L1512.77 835.91L1512.97 835.95L1513.01 835.96L1513.24 836.01L1513.25 836.02L1513.49 836.07L1513.53 836.08L1513.74 836.12L1513.78 836.13L1513.98 836.18L1514.02 836.19L1514.22 836.23L1514.26 836.24L1514.49 836.29L1514.5 836.29L1514.74 836.34L1514.78 836.35L1514.98 836.39L1515.02 836.4L1515.22 836.44L1515.26 836.45L1515.46 836.5L1515.5 836.5L1515.75 836.55L1515.79 836.56L1515.99 836.6L1516.03 836.61L1516.23 836.65L1516.27 836.66L1516.47 836.7L1516.51 836.71L1516.71 836.75L1516.75 836.76L1516.99 836.81L1517 836.81L1517.23 836.86L1517.27 836.86L1517.47 836.9L1517.51 836.91L1517.72 836.95L1517.76 836.96L1518 837.01L1518.04 837.01L1518.24 837.05L1518.27 837.06L1518.49 837.1L1518.52 837.11L1518.72 837.15L1518.76 837.15L1518.96 837.19L1519 837.2L1519.24 837.24L1519.28 837.25L1519.48 837.29L1519.52 837.3L1519.73 837.33L1519.76 837.34L1519.99 837.38L1520.01 837.39L1520.22 837.42L1520.25 837.43L1520.49 837.47L1520.53 837.48L1520.73 837.52L1520.77 837.52L1520.97 837.56L1521.01 837.57L1521.21 837.6L1521.25 837.61L1521.49 837.65L1521.53 837.66L1521.74 837.7L1521.78 837.7L1521.98 837.74L1522.02 837.75L1522.22 837.78L1522.26 837.79L1522.46 837.82L1522.5 837.83L1522.74 837.87L1522.76 837.88L1522.99 837.92L1523.02 837.92L1523.22 837.96L1523.26 837.96L1523.46 838L1523.5 838L1523.75 838.04L1523.79 838.05L1523.99 838.09L1524.03 838.09L1524.23 838.13L1524.26 838.13L1524.49 838.17L1524.51 838.17L1524.72 838.21L1524.75 838.21L1524.99 838.25L1525.03 838.26L1525.23 838.29L1525.27 838.3L1525.47 838.33L1525.51 838.34L1525.72 838.37L1525.76 838.38L1526 838.42L1526 838.42L1526.24 838.45L1526.28 838.46L1526.48 838.49L1526.52 838.5L1526.72 838.53L1526.76 838.54L1526.96 838.57L1527 838.58L1527.24 838.61L1527.28 838.62L1527.48 838.65L1527.51 838.65L1527.74 838.69L1527.77 838.69L1527.98 838.73L1528.01 838.73L1528.21 838.76L1528.25 838.77L1528.49 838.8L1528.53 838.81L1528.73 838.84L1528.77 838.85L1528.97 838.88L1529.01 838.88L1529.21 838.91L1529.25 838.92L1529.49 838.95L1529.53 838.96L1529.74 838.99L1529.78 838.99L1529.98 839.02L1530.02 839.03L1530.22 839.05L1530.26 839.06L1530.46 839.09L1530.5 839.09L1530.74 839.13L1530.78 839.13L1530.98 839.16L1531.01 839.16L1531.22 839.19L1531.25 839.2L1531.48 839.23L1531.5 839.23L1531.75 839.26L1531.79 839.27L1531.99 839.29L1532.03 839.3L1532.23 839.32L1532.27 839.33L1532.47 839.35L1532.51 839.36L1532.71 839.38L1532.75 839.39L1532.99 839.42L1533.01 839.42L1533.24 839.44L1533.27 839.45L1533.48 839.47L1533.51 839.48L1533.72 839.5L1533.76 839.5L1534 839.53L1534.04 839.53L1534.24 839.56L1534.28 839.56L1534.48 839.58L1534.52 839.58L1534.72 839.6L1534.76 839.61L1534.96 839.63L1535 839.63L1535.24 839.66L1535.28 839.66L1535.48 839.68L1535.52 839.68L1535.73 839.7L1535.77 839.7L1535.97 839.72L1536.01 839.72L1536.21 839.74L1536.25 839.74L1536.49 839.76L1536.53 839.76L1536.73 839.78L1536.77 839.78L1536.97 839.79L1537.01 839.8L1537.21 839.81L1537.25 839.81L1537.49 839.83L1537.53 839.83L1537.74 839.84L1537.78 839.84L1537.98 839.85L1538.02 839.85L1538.22 839.86L1538.26 839.87L1538.46 839.87L1538.5 839.88L1538.74 839.88L1538.78 839.89L1538.98 839.89L1539.02 839.89L1539.22 839.9L1539.26 839.9L1539.46 839.9L1539.5 839.9L1539.75 839.91L1539.79 839.91L1539.99 839.91L1540.03 839.91L1540.19 839.91L1540.23 839.91L1540.27 839.91L1540.47 839.91L1540.51 839.91L1540.71 839.91L1540.75 839.91L1540.99 839.9L1541.03 839.9L1541.23 839.9L1541.27 839.89L1541.47 839.89L1541.51 839.89L1541.72 839.88L1541.76 839.88L1542 839.87L1542 839.87L1542.24 839.85L1542.28 839.85L1542.48 839.84L1542.52 839.84L1542.72 839.82L1542.76 839.82L1542.96 839.8L1543 839.8L1543.24 839.78L1543.28 839.77L1543.48 839.76L1543.52 839.75L1543.73 839.73L1543.77 839.73L1543.97 839.7L1544.01 839.7L1544.21 839.67L1544.25 839.67L1544.49 839.64L1544.51 839.63L1544.73 839.6L1544.75 839.6L1544.99 839.56L1545.01 839.56L1545.23 839.53L1545.25 839.52L1545.49 839.48L1545.53 839.47L1545.74 839.44L1545.78 839.43L1545.98 839.39L1546.02 839.38L1546.22 839.34L1546.26 839.33L1546.46 839.29L1546.5 839.28L1546.74 839.22L1546.78 839.21L1546.98 839.17L1547.02 839.16L1547.22 839.11L1547.26 839.1L1547.46 839.04L1547.5 839.03L1547.75 838.96L1547.75 838.96L1547.99 838.89L1548.03 838.88L1548.23 838.82L1548.27 838.81L1548.47 838.75L1548.51 838.73L1548.71 838.67L1548.75 838.65L1548.99 838.57L1549.03 838.56L1549.23 838.48L1549.27 838.47L1549.47 838.39L1549.51 838.38L1549.72 838.3L1549.76 838.29L1550 838.19L1550.04 838.17L1550.24 838.09L1550.28 838.07L1550.48 837.99L1550.52 837.97L1550.72 837.88L1550.76 837.86L1550.96 837.77L1551 837.75L1551.25 837.63L1551.28 837.61L1551.49 837.51L1551.52 837.49L1551.73 837.39L1551.77 837.37L1551.97 837.26L1552.01 837.24L1552.21 837.13L1552.25 837.11L1552.49 836.98L1552.53 836.95L1552.73 836.84L1552.77 836.81L1552.97 836.7L1553.01 836.67L1553.21 836.55L1553.25 836.52L1553.49 836.37L1553.53 836.34L1553.74 836.21L1553.78 836.19L1553.98 836.05L1554.02 836.03L1554.22 835.89L1554.26 835.86L1554.46 835.72L1554.5 835.69L1554.74 835.52L1554.76 835.5L1554.98 835.34L1555.01 835.32L1555.22 835.15L1555.25 835.13L1555.49 834.94L1555.5 834.93L1555.75 834.74L1555.79 834.71L1555.99 834.54L1556.03 834.51L1556.23 834.34L1556.27 834.31L1556.47 834.13L1556.51 834.1L1556.59 834.03" fill="none" stroke="#1f77b4" stroke-width="2.08" stroke-linecap="square" stroke-linejoin="round"/>
<path d="M225.5 856.5L225.5 589.5" fill="none" stroke="#000000" stroke-width="1.11" stroke-linecap="square"/>
<path d="M1620.5 856.5L1620.5 589.5" fill="none" stroke="#000000" stroke-width="1.11" stroke-linecap="square"/>
<path d="M225.5 856.5L1620.5 856.5" fill="none" stroke="#000000" stroke-width="1.11" stroke-linecap="square"/>
<path d="M225.5 589.5L1620.5 589.5" fill="none" stroke="#000000" stroke-width="1.11" stroke-linecap="square"/>
<text x="921.75" y="627.11" font-size="33.33">Period: 2.483 h</text>
<path d="M1356 1140L1356 1089" fill="none" stroke="#117733" stroke-width="2.08" stroke-linejoin="round"/>
<path d="M795 1147L795 1097" fill="none" stroke="#117733" stroke-width="2.08" stroke-linejoin="round"/>
<path d="M1065 1166L1065 1121" fill="none" stroke="#117733" stroke-width="2.08" stroke-linejoin="round"/>
<path d="M578 1149L578 1101" fill="none" stroke="#117733" stroke-width="2.08" stroke-linejoin="round"/>
<path d="M599 1140L599 1075" fill="none" stroke="#117733" stroke-width="2.08" stroke-linejoin="round"/>
<path d="M529 1156L529 1088" fill="none" stroke="#117733" stroke-width="2.08" stroke-linejoin="round"/>
<path d="M296 1112L296 1046" fill="none" stroke="#117733" stroke-width="2.08" stroke-linejoin="round"/>
<path d="M1537 1143L1537 1058" fill="none" stroke="#117733" stroke-width="2.08" stroke-linejoin="round"/>
<path d="M1009 1142L1009 1015" fill="none" stroke="#117733" stroke-width="2.08" stroke-linejoin="round"/>
<path d="M1188 1159L1188 1094" fill="none" stroke="#117733" stroke-width="2.08" stroke-linejoin="round"/>
<path d="M927 1111L927 987" fill="none" stroke="#117733" stroke-width="2.08" stroke-linejoin="round"/>
<path d="M624 1155L624 1048" fill="none" stroke="#117733" stroke-width="2.08" stroke-linejoin="round"/>
<path d="M1188 1194L1188 1099" fill="none" stroke="#117733" stroke-width="2.08" stroke-linejoin="round"/>
<path d="M785 1126L785 1026" fill="none" stroke="#117733" stroke-width="2.08" stroke-linejoin="round"/>
<path d="M1113 1186L1113 1091" fill="none" stroke="#117733" stroke-width="2.08" stroke-linejoin="round"/>
<path d="M1529 1102L1529 1010" fill="none" stroke="#117733" stroke-width="2.08" stroke-linejoin="round"/>
<path d="M1292 1156L1292 1032" fill="none" stroke="#117733" stroke-width="2.08" stroke-linejoin="round"/>
<path d="M901 1119L901 1016" fill="none" stroke="#117733" stroke-width="2.08" stroke-linejoin="round"/>
<path d="M889 1128L889 1009" fill="none" stroke="#117733" stroke-width="2.08" stroke-linejoin="round"/>
<path d="M801 1117L801 1009" fill="none" stroke="#117733" stroke-width="2.08" stroke-linejoin="round"/>
<path d="M1178 1195L1178 1073" fill="none" stroke="#117733" stroke-width="2.08" stroke-linejoin="round"/>
<path d="M334 1168L334 1040" fill="none" stroke="#117733" stroke-width="2.08" stroke-linejoin="round"/>
<path d="M1196 1167L1196 1035" fill="none" stroke="#117733" stroke-width="2.08" stroke-linejoin="round"/>
<path d="M820 1120L820 1077" fill="none" stroke="#882255" stroke-width="2.08" stroke-linejoin="round"/>
<path d="M294 1116L294 1079" fill="none" stroke="#882255" stroke-width="2.08" stroke-linejoin="round"/>
<path d="M619 1131L619 1091" fill="none" stroke="#882255" stroke-width="2.08" stroke-linejoin="round"/>
<path d="M1186 1154L1186 1094" fill="none" stroke="#882255" stroke-width="2.08" stroke-linejoin="round"/>
<path d="M422 1144L422 1098" fill="none" stroke="#882255" stroke-width="2.08" stroke-linejoin="round"/>
<path d="M1378 1196L1378 1073" fill="none" stroke="#882255" stroke-width="2.08" stroke-linejoin="round"/>
<path d="M1020 1120L1020 1001" fill="none" stroke="#882255" stroke-width="2.08" stroke-linejoin="round"/>
<path d="M1020 1145L1020 1012" fill="none" stroke="#882255" stroke-width="2.08" stroke-linejoin="round"/>
<path d="M994 1109L994 974" fill="none" stroke="#882255" stroke-width="2.08" stroke-linejoin="round"/>
<path d="M824 1112L824 1004" fill="none" stroke="#882255" stroke-width="2.08" stroke-linejoin="round"/>
<path d="M834 1094L834 998" fill="none" stroke="#882255" stroke-width="2.08" stroke-linejoin="round"/>
<path d="M839 1125L839 1038" fill="none" stroke="#882255" stroke-width="2.08" stroke-linejoin="round"/>
<path d="M879 1105L879 1008" fill="none" stroke="#882255" stroke-width="2.08" stroke-linejoin="round"/>
<path d="M579 1191L579 1094" fill="none" stroke="#882255" stroke-width="2.08" stroke-linejoin="round"/>
<path d="M1317 1216L1317 1103" fill="none" stroke="#882255" stroke-width="2.08" stroke-linejoin="round"/>
<path d="M420 1173L420 1094" fill="none" stroke="#882255" stroke-width="2.08" stroke-linejoin="round"/>
<path d="M1332 1151L1332 1043" fill="none" stroke="#882255" stroke-width="2.08" stroke-linejoin="round"/>
<path d="M1212 1155L1212 1065" fill="none" stroke="#882255" stroke-width="2.08" stroke-linejoin="round"/>
<path d="M1470 1126L1470 1071" fill="none" stroke="#882255" stroke-width="2.08" stroke-linejoin="round"/>
<path d="M612 1104L612 1046" fill="none" stroke="#882255" stroke-width="2.08" stroke-linejoin="round"/>
<path d="M1031 1105L1031 1036" fill="none" stroke="#882255" stroke-width="2.08" stroke-linejoin="round"/>
<path d="M1025 1125L1025 1040" fill="none" stroke="#882255" stroke-width="2.08" stroke-linejoin="round"/>
<path d="M353 1108L353 1015" fill="none" stroke="#882255" stroke-width="2.08" stroke-linejoin="round"/>
<path d="M552 1170L552 1076" fill="none" stroke="#882255" stroke-width="2.08" stroke-linejoin="round"/>
<path d="M389 1142L389 1051" fill="none" stroke="#882255" stroke-width="2.08" stroke-linejoin="round"/>
<path d="M482 1179L482 1093" fill="none" stroke="#882255" stroke-width="2.08" stroke-linejoin="round"/>
<path d="M941 1161L941 1065" fill="none" stroke="#882255" stroke-width="2.08" stroke-linejoin="round"/>
<path d="M1333 1172L1333 1086" fill="none" stroke="#882255" stroke-width="2.08" stroke-linejoin="round"/>
<path d="M810 1177L810 1063" fill="none" stroke="#882255" stroke-width="2.08" stroke-linejoin="round"/>
<path d="M1484 1162L1484 1042" fill="none" stroke="#882255" stroke-width="2.08" stroke-linejoin="round"/>
<g fill="#000000" stroke="#000000" stroke-width="1.11" stroke-linejoin="round"><path transform="translate(288 1229)" d="M0.5 0.5L0.5 5.5"/></g>
<text x="261.67" y="1264.61" font-size="33.33">0.0</text>
<g fill="#000000" stroke="#000000" stroke-width="1.11" stroke-linejoin="round"><path transform="translate(544 1229)" d="M0.5 0.5L0.5 5.5"/></g>
<text x="516.66" y="1264.61" font-size="33.33">0.5</text>
<g fill="#000000" stroke="#000000" stroke-width="1.11" stroke-linejoin="round"><path transform="translate(799 1229)" d="M0.5 0.5L0.5 5.5"/></g>
<text x="772.27" y="1264.61" font-size="33.33">1.0</text>
<g fill="#000000" stroke="#000000" stroke-width="1.11" stroke-linejoin="round"><path transform="translate(1055 1229)" d="M0.5 0.5L0.5 5.5"/></g>
<text x="1028.24" y="1264.6" font-size="33.33">1.5</text>
<g fill="#000000" stroke="#000000" stroke-width="1.11" stroke-linejoin="round"><path transform="translate(1310 1229)" d="M0.5 0.5L0.5 5.5"/></g>
<text x="1283.45" y="1264.55" font-size="33.33">2.0</text>
<g fill="#000000" stroke="#000000" stroke-width="1.11" stroke-linejoin="round"><path transform="translate(1565 1229)" d="M0.5 0.5L0.5 5.5"/></g>
<text x="1538.65" y="1264.54" font-size="33.33">2.5</text>
<text x="808.11" y="1303.12" font-size="33.33">Phase (hours)</text>
<g fill="#000000" stroke="#000000" stroke-width="1.11" stroke-linejoin="round"><path transform="translate(225 1177)" d="M0.5 0.5L-4.5 0.5"/></g>
<text x="119" y="1190.31" font-size="33.33">14.75</text>
<g fill="#000000" stroke="#000000" stroke-width="1.11" stroke-linejoin="round"><path transform="translate(225 1099)" d="M0.5 0.5L-4.5 0.5"/></g>
<text x="119.08" y="1112" font-size="33.33">15.00</text>
<g fill="#000000" stroke="#000000" stroke-width="1.11" stroke-linejoin="round"><path transform="translate(225 1021)" d="M0.5 0.5L-4.5 0.5"/></g>
<text x="119.28" y="1033.66" font-size="33.33">15.25</text>
<text x="105.87" y="1164.31" font-size="33.33" transform="rotate(-90 105.87 1164.31)">H (mag)</text>
<path d="M288.41 1076.96L291.59 1077.11L294.77 1077.28L297.95 1077.48L301.12 1077.7L304.3 1077.95L307.48 1078.21L310.66 1078.5L313.84 1078.81L317.02 1079.14L320.19 1079.5L323.37 1079.87L326.55 1080.27L329.73 1080.69L332.91 1081.12L336.09 1081.58L339.26 1082.06L342.44 1082.55L345.62 1083.06L348.8 1083.59L351.98 1084.14L355.16 1084.7L358.33 1085.28L361.51 1085.88L364.69 1086.49L367.87 1087.11L371.05 1087.75L374.23 1088.4L377.4 1089.06L380.58 1089.74L383.76 1090.42L386.94 1091.12L390.12 1091.83L393.3 1092.54L396.47 1093.26L399.65 1093.99L402.83 1094.73L406.01 1095.48L409.19 1096.22L412.37 1096.98L415.54 1097.74L418.72 1098.5L421.9 1099.26L425.08 1100.02L428.26 1100.79L431.44 1101.55L434.61 1102.32L437.79 1103.08L440.97 1103.84L444.15 1104.6L447.33 1105.35L450.51 1106.1L453.68 1106.85L456.86 1107.59L460.04 1108.32L463.22 1109.04L466.4 1109.76L469.58 1110.47L472.76 1111.17L475.93 1111.85L479.11 1112.53L482.29 1113.2L485.47 1113.85L488.65 1114.49L491.83 1115.12L495 1115.73L498.18 1116.33L501.36 1116.91L504.54 1117.47L507.72 1118.02L510.9 1118.56L514.07 1119.07L517.25 1119.57L520.43 1120.05L523.61 1120.51L526.79 1120.95L529.97 1121.37L533.14 1121.77L536.32 1122.15L539.5 1122.51L542.68 1122.84L545.86 1123.16L549.04 1123.45L552.21 1123.72L555.39 1123.97L558.57 1124.19L561.75 1124.4L564.93 1124.57L568.11 1124.73L571.28 1124.86L574.46 1124.97L577.64 1125.05L580.82 1125.11L584 1125.15L587.18 1125.16L590.35 1125.14L593.53 1125.11L596.71 1125.05L599.89 1124.96L603.07 1124.85L606.25 1124.72L609.42 1124.56L612.6 1124.38L615.78 1124.18L618.96 1123.95L622.14 1123.7L625.32 1123.43L628.49 1123.14L631.67 1122.82L634.85 1122.48L638.03 1122.12L641.21 1121.74L644.39 1121.34L647.57 1120.92L650.74 1120.48L653.92 1120.02L657.1 1119.54L660.28 1119.04L663.46 1118.52L666.64 1117.99L669.81 1117.44L672.99 1116.87L676.17 1116.28L679.35 1115.69L682.53 1115.07L685.71 1114.44L688.88 1113.8L692.06 1113.15L695.24 1112.48L698.42 1111.81L701.6 1111.12L704.78 1110.42L707.95 1109.71L711.13 1108.99L714.31 1108.27L717.49 1107.54L720.67 1106.8L723.85 1106.05L727.02 1105.3L730.2 1104.55L733.38 1103.79L736.56 1103.03L739.74 1102.26L742.92 1101.5L746.09 1100.73L749.27 1099.97L752.45 1099.21L755.63 1098.44L758.81 1097.68L761.99 1096.93L765.16 1096.17L768.34 1095.42L771.52 1094.68L774.7 1093.94L777.88 1093.21L781.06 1092.49L784.23 1091.78L787.41 1091.07L790.59 1090.38L793.77 1089.69L796.95 1089.02L800.13 1088.35L803.31 1087.7L806.48 1087.07L809.66 1086.44L812.84 1085.84L816.02 1085.24L819.2 1084.66L822.38 1084.1L825.55 1083.55L828.73 1083.03L831.91 1082.51L835.09 1082.02L838.27 1081.55L841.45 1081.09L844.62 1080.66L847.8 1080.24L850.98 1079.85L854.16 1079.47L857.34 1079.12L860.52 1078.79L863.69 1078.48L866.87 1078.19L870.05 1077.93L873.23 1077.69L876.41 1077.47L879.59 1077.27L882.76 1077.1L885.94 1076.95L889.12 1076.82L892.3 1076.72L895.48 1076.65L898.66 1076.59L901.83 1076.56L905.01 1076.56L908.19 1076.58L911.37 1076.62L914.55 1076.69L917.73 1076.78L920.9 1076.89L924.08 1077.03L927.26 1077.19L930.44 1077.38L933.62 1077.59L936.8 1077.82L939.97 1078.08L943.15 1078.35L946.33 1078.65L949.51 1078.98L952.69 1079.32L955.87 1079.68L959.04 1080.07L962.22 1080.48L965.4 1080.9L968.58 1081.35L971.76 1081.82L974.94 1082.3L978.12 1082.8L981.29 1083.32L984.47 1083.86L987.65 1084.42L990.83 1084.99L994.01 1085.58L997.19 1086.18L1000.36 1086.8L1003.54 1087.43L1006.72 1088.07L1009.9 1088.73L1013.08 1089.4L1016.26 1090.08L1019.43 1090.77L1022.61 1091.47L1025.79 1092.18L1028.97 1092.9L1032.15 1093.63L1035.33 1094.36L1038.5 1095.1L1041.68 1095.85L1044.86 1096.6L1048.04 1097.36L1051.22 1098.12L1054.4 1098.88L1057.57 1099.64L1060.75 1100.41L1063.93 1101.17L1067.11 1101.94L1070.29 1102.7L1073.47 1103.46L1076.64 1104.22L1079.82 1104.98L1083 1105.73L1086.18 1106.48L1089.36 1107.22L1092.54 1107.95L1095.71 1108.68L1098.89 1109.4L1102.07 1110.11L1105.25 1110.82L1108.43 1111.51L1111.61 1112.19L1114.78 1112.86L1117.96 1113.52L1121.14 1114.17L1124.32 1114.8L1127.5 1115.42L1130.68 1116.03L1133.85 1116.62L1137.03 1117.19L1140.21 1117.75L1143.39 1118.29L1146.57 1118.82L1149.75 1119.32L1152.93 1119.81L1156.1 1120.28L1159.28 1120.73L1162.46 1121.16L1165.64 1121.57L1168.82 1121.96L1172 1122.33L1175.17 1122.68L1178.35 1123L1181.53 1123.31L1184.71 1123.59L1187.89 1123.85L1191.07 1124.09L1194.24 1124.3L1197.42 1124.49L1200.6 1124.65L1203.78 1124.8L1206.96 1124.92L1210.14 1125.01L1213.31 1125.08L1216.49 1125.13L1219.67 1125.15L1222.85 1125.15L1226.03 1125.13L1229.21 1125.08L1232.38 1125.01L1235.56 1124.91L1238.74 1124.79L1241.92 1124.64L1245.1 1124.48L1248.28 1124.28L1251.45 1124.07L1254.63 1123.83L1257.81 1123.57L1260.99 1123.29L1264.17 1122.98L1267.35 1122.65L1270.52 1122.31L1273.7 1121.94L1276.88 1121.54L1280.06 1121.13L1283.24 1120.7L1286.42 1120.25L1289.59 1119.78L1292.77 1119.29L1295.95 1118.78L1299.13 1118.26L1302.31 1117.71L1305.49 1117.15L1308.66 1116.58L1311.84 1115.99L1315.02 1115.38L1318.2 1114.76L1321.38 1114.13L1324.56 1113.48L1327.74 1112.82L1330.91 1112.15L1334.09 1111.46L1337.27 1110.77L1340.45 1110.06L1343.63 1109.35L1346.81 1108.63L1349.98 1107.9L1353.16 1107.17L1356.34 1106.42L1359.52 1105.68L1362.7 1104.92L1365.88 1104.17L1369.05 1103.41L1372.23 1102.65L1375.41 1101.88L1378.59 1101.12L1381.77 1100.35L1384.95 1099.59L1388.12 1098.82L1391.3 1098.06L1394.48 1097.3L1397.66 1096.55L1400.84 1095.8L1404.02 1095.05L1407.19 1094.31L1410.37 1093.58L1413.55 1092.85L1416.73 1092.13L1419.91 1091.42L1423.09 1090.72L1426.26 1090.03L1429.44 1089.35L1432.62 1088.68L1435.8 1088.03L1438.98 1087.38L1442.16 1086.75L1445.33 1086.14L1448.51 1085.54L1451.69 1084.95L1454.87 1084.38L1458.05 1083.83L1461.23 1083.29L1464.4 1082.77L1467.58 1082.27L1470.76 1081.78L1473.94 1081.32L1477.12 1080.87L1480.3 1080.45L1483.48 1080.04L1486.65 1079.66L1489.83 1079.29L1493.01 1078.95L1496.19 1078.63L1499.37 1078.33L1502.55 1078.06L1505.72 1077.8L1508.9 1077.57L1512.08 1077.37L1515.26 1077.18L1518.44 1077.02L1521.62 1076.88L1524.79 1076.77L1527.97 1076.68L1531.15 1076.62L1534.33 1076.57L1537.51 1076.56L1540.69 1076.56L1543.86 1076.6L1547.04 1076.65L1550.22 1076.73L1553.4 1076.83L1556.58 1076.96" fill="none" stroke="#1f77b4" stroke-width="2.08" stroke-linecap="square" stroke-linejoin="round"/>
<path d="M225.5 1229.5L225.5 962.5" fill="none" stroke="#000000" stroke-width="1.11" stroke-linecap="square"/>
<path d="M1620.5 1229.5L1620.5 962.5" fill="none" stroke="#000000" stroke-width="1.11" stroke-linecap="square"/>
<path d="M225.5 1229.5L1620.5 1229.5" fill="none" stroke="#000000" stroke-width="1.11" stroke-linecap="square"/>
<path d="M225.5 962.5L1620.5 962.5" fill="none" stroke="#000000" stroke-width="1.11" stroke-linecap="square"/>
<g fill="#117733" stroke="#000000" stroke-width="1.39" stroke-linejoin="round"><circle cx="1356.5" cy="1115.5" r="4.17"/><circle cx="795.5" cy="1122.5" r="4.17"/><circle cx="1065.5" cy="1144.5" r="4.17"/><circle cx="578.5" cy="1125.5" r="4.17"/><circle cx="599.5" cy="1108.5" r="4.17"/><circle cx="529.5" cy="1122.5" r="4.17"/><circle cx="296.5" cy="1079.5" r="4.17"/><circle cx="1537.5" cy="1100.5" r="4.17"/><circle cx="1009.5" cy="1078.5" r="4.17"/><circle cx="1188.5" cy="1126.5" r="4.17"/><circle cx="927.5" cy="1049.5" r="4.17"/><circle cx="624.5" cy="1102.5" r="4.17"/><circle cx="1188.5" cy="1146.5" r="4.17"/><circle cx="785.5" cy="1076.5" r="4.17"/><circle cx="1113.5" cy="1138.5" r="4.17"/><circle cx="1529.5" cy="1056.5" r="4.17"/><circle cx="1292.5" cy="1094.5" r="4.17"/><circle cx="901.5" cy="1067.5" r="4.17"/><circle cx="889.5" cy="1069.5" r="4.17"/><circle cx="801.5" cy="1063.5" r="4.17"/><circle cx="1178.5" cy="1134.5" r="4.17"/><circle cx="334.5" cy="1104.5" r="4.17"/><circle cx="1196.5" cy="1101.5" r="4.17"/></g>
<g fill="#882255" stroke="#000000" stroke-width="1.39" stroke-linejoin="round"><circle cx="820.5" cy="1098.5" r="4.17"/><circle cx="294.5" cy="1097.5" r="4.17"/><circle cx="619.5" cy="1111.5" r="4.17"/><circle cx="1186.5" cy="1124.5" r="4.17"/><circle cx="422.5" cy="1121.5" r="4.17"/><circle cx="1378.5" cy="1135.5" r="4.17"/><circle cx="1020.5" cy="1060.5" r="4.17"/><circle cx="1020.5" cy="1078.5" r="4.17"/><circle cx="994.5" cy="1042.5" r="4.17"/><circle cx="824.5" cy="1059.5" r="4.17"/><circle cx="834.5" cy="1046.5" r="4.17"/><circle cx="839.5" cy="1082.5" r="4.17"/><circle cx="879.5" cy="1057.5" r="4.17"/><circle cx="579.5" cy="1142.5" r="4.17"/><circle cx="1317.5" cy="1160.5" r="4.17"/><circle cx="420.5" cy="1134.5" r="4.17"/><circle cx="1332.5" cy="1097.5" r="4.17"/><circle cx="1212.5" cy="1110.5" r="4.17"/><circle cx="1470.5" cy="1099.5" r="4.17"/><circle cx="612.5" cy="1075.5" r="4.17"/><circle cx="1031.5" cy="1070.5" r="4.17"/><circle cx="1025.5" cy="1082.5" r="4.17"/><circle cx="353.5" cy="1061.5" r="4.17"/><circle cx="552.5" cy="1123.5" r="4.17"/><circle cx="389.5" cy="1097.5" r="4.17"/><circle cx="482.5" cy="1136.5" r="4.17"/><circle cx="941.5" cy="1113.5" r="4.17"/><circle cx="1333.5" cy="1129.5" r="4.17"/><circle cx="810.5" cy="1120.5" r="4.17"/><circle cx="1484.5" cy="1102.5" r="4.17"/></g>
<path d="M225 1462L1620 1462" fill="none" stroke="#000000" stroke-width="2.08" stroke-linejoin="round" stroke-dasharray="7.71,3.33"/>
<g fill="#000000" stroke="#000000" stroke-width="1.11" stroke-linejoin="round"><path transform="translate(387 1602)" d="M0.5 0.5L0.5 5.5"/></g>
<text x="328.58" y="1637.69" font-size="33.33">2.4584</text>
<g fill="#000000" stroke="#000000" stroke-width="1.11" stroke-linejoin="round"><path transform="translate(634 1602)" d="M0.5 0.5L0.5 5.5"/></g>
<text x="575.3" y="1637.71" font-size="33.33">2.4586</text>
<g fill="#000000" stroke="#000000" stroke-width="1.11" stroke-linejoin="round"><path transform="translate(881 1602)" d="M0.5 0.5L0.5 5.5"/></g>
<text x="822.57" y="1637.67" font-size="33.33">2.4588</text>
<g fill="#000000" stroke="#000000" stroke-width="1.11" stroke-linejoin="round"><path transform="translate(1128 1602)" d="M0.5 0.5L0.5 5.5"/></g>
<text x="1069.22" y="1637.7" font-size="33.33">2.4590</text>
<g fill="#000000" stroke="#000000" stroke-width="1.11" stroke-linejoin="round"><path transform="translate(1375 1602)" d="M0.5 0.5L0.5 5.5"/></g>
<text x="1316.44" y="1637.67" font-size="33.33">2.4592</text>
<text x="831.3" y="1676.25" font-size="33.33">Julian Date</text>
<text x="1557" y="1674.91" font-size="33.33">1e6</text>
<g fill="#000000" stroke="#000000" stroke-width="1.11" stroke-linejoin="round"><path transform="translate(225 1543)" d="M0.5 0.5L-4.5 0.5"/></g>
<text x="134.3" y="1555.73" font-size="33.33">−0.1</text>
<g fill="#000000" stroke="#000000" stroke-width="1.11" stroke-linejoin="round"><path transform="translate(225 1462)" d="M0.5 0.5L-4.5 0.5"/></g>
<text x="161.67" y="1475.24" font-size="33.33">0.0</text>
<g fill="#000000" stroke="#000000" stroke-width="1.11" stroke-linejoin="round"><path transform="translate(225 1382)" d="M0.5 0.5L-4.5 0.5"/></g>
<text x="162.01" y="1394.73" font-size="33.33">0.1</text>
<text x="124.46" y="1552.58" font-size="33.33" transform="rotate(-90 124.46 1552.58)">Residuals</text>
<path d="M225.5 1602.5L225.5 1335.5" fill="none" stroke="#000000" stroke-width="1.11" stroke-linecap="square"/>
<path d="M1620.5 1602.5L1620.5 1335.5" fill="none" stroke="#000000" stroke-width="1.11" stroke-linecap="square"/>
<path d="M225.5 1602.5L1620.5 1602.5" fill="none" stroke="#000000" stroke-width="1.11" stroke-linecap="square"/>
<path d="M225.5 1335.5L1620.5 1335.5" fill="none" stroke="#000000" stroke-width="1.11" stroke-linecap="square"/>
<g fill="#117733" stroke="#000000" stroke-width="1.39" stroke-linejoin="round"><circle cx="289.5" cy="1442.5" r="4.17"/><circle cx="292.5" cy="1379.5" r="4.17"/><circle cx="311.5" cy="1355.5" r="4.17"/><circle cx="322.5" cy="1463.5" r="4.17"/><circle cx="329.5" cy="1507.5" r="4.17"/><circle cx="340.5" cy="1461.5" r="4.17"/><circle cx="362.5" cy="1458.5" r="4.17"/><circle cx="366.5" cy="1402.5" r="4.17"/><circle cx="373.5" cy="1491.5" r="4.17"/><circle cx="376.5" cy="1458.5" r="4.17"/><circle cx="927.5" cy="1536.5" r="4.17"/><circle cx="939.5" cy="1518.5" r="4.17"/><circle cx="1470.5" cy="1406.5" r="4.17"/><circle cx="1475.5" cy="1502.5" r="4.17"/><circle cx="1487.5" cy="1398.5" r="4.17"/><circle cx="1490.5" cy="1514.5" r="4.17"/><circle cx="1490.5" cy="1527.5" r="4.17"/><circle cx="1491.5" cy="1487.5" r="4.17"/><circle cx="1507.5" cy="1484.5" r="4.17"/><circle cx="1510.5" cy="1526.5" r="4.17"/><circle cx="1514.5" cy="1434.5" r="4.17"/><circle cx="1517.5" cy="1405.5" r="4.17"/><circle cx="1526.5" cy="1522.5" r="4.17"/></g>
<g fill="#882255" stroke="#000000" stroke-width="1.39" stroke-linejoin="round"><circle cx="307.5" cy="1427.5" r="4.17"/><circle cx="314.5" cy="1412.5" r="4.17"/><circle cx="318.5" cy="1496.5" r="4.17"/><circle cx="372.5" cy="1462.5" r="4.17"/><circle cx="376.5" cy="1407.5" r="4.17"/><circle cx="832.5" cy="1376.5" r="4.17"/><circle cx="837.5" cy="1542.5" r="4.17"/><circle cx="856.5" cy="1496.5" r="4.17"/><circle cx="890.5" cy="1576.5" r="4.17"/><circle cx="919.5" cy="1527.5" r="4.17"/><circle cx="927.5" cy="1555.5" r="4.17"/><circle cx="927.5" cy="1462.5" r="4.17"/><circle cx="939.5" cy="1516.5" r="4.17"/><circle cx="977.5" cy="1418.5" r="4.17"/><circle cx="1409.5" cy="1348.5" r="4.17"/><circle cx="1411.5" cy="1374.5" r="4.17"/><circle cx="1416.5" cy="1500.5" r="4.17"/><circle cx="1470.5" cy="1501.5" r="4.17"/><circle cx="1475.5" cy="1419.5" r="4.17"/><circle cx="1487.5" cy="1590.5" r="4.17"/><circle cx="1490.5" cy="1522.5" r="4.17"/><circle cx="1490.5" cy="1488.5" r="4.17"/><circle cx="1491.5" cy="1522.5" r="4.17"/><circle cx="1495.5" cy="1464.5" r="4.17"/><circle cx="1507.5" cy="1450.5" r="4.17"/><circle cx="1523.5" cy="1404.5" r="4.17"/><circle cx="1526.5" cy="1373.5" r="4.17"/><circle cx="1528.5" cy="1418.5" r="4.17"/><circle cx="1543.5" cy="1375.5" r="4.17"/><circle cx="1556.5" cy="1405.5" r="4.17"/></g>
<text x="649.5" y="66.99" font-size="40">114253 Light Curve Plots</text></svg></body></html>
